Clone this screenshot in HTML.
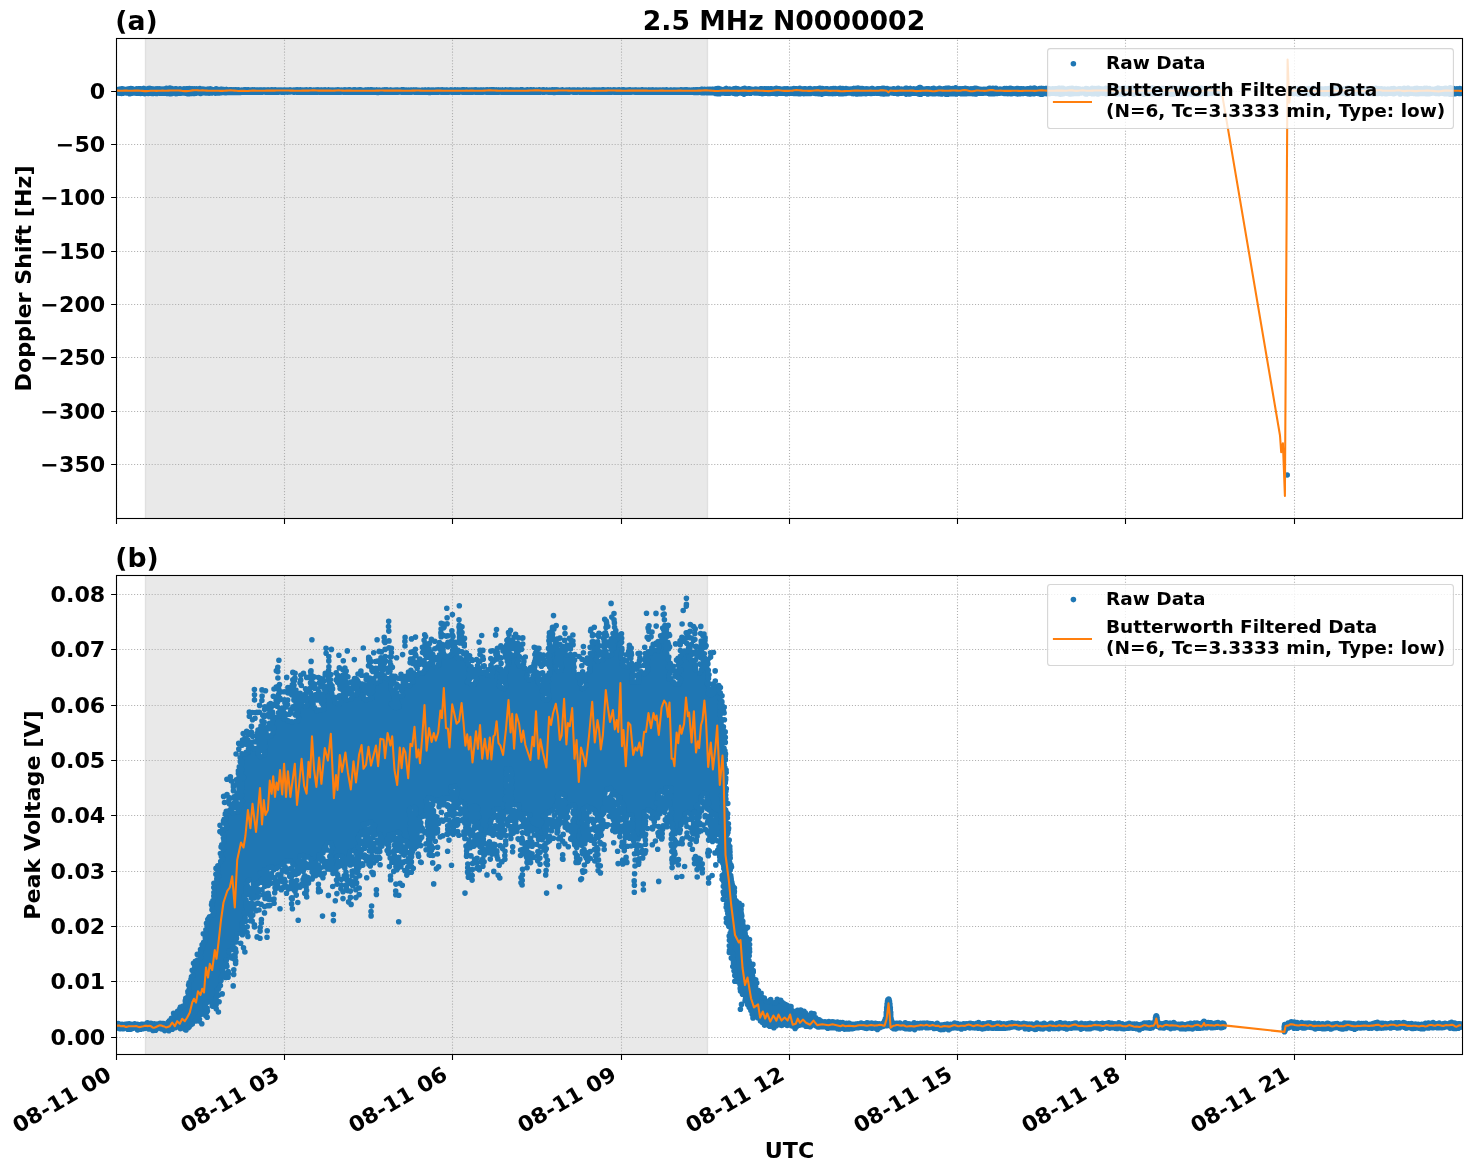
<!DOCTYPE html>
<html lang="en"><head><meta charset="utf-8"><title>2.5 MHz N0000002</title>
<style>html,body{margin:0;padding:0;background:#fff}svg{display:block}text{font-family:'DejaVu Sans','Liberation Sans',sans-serif;font-weight:bold;fill:#000}</style></head>
<body>
<svg width="1472" height="1172" viewBox="0 0 1472 1172">
<rect width="1472" height="1172" fill="#fff"/>
<defs><clipPath id="c1"><rect x="116.5" y="38.5" width="1346.0" height="480.0"/></clipPath><clipPath id="c2"><rect x="116.5" y="575.5" width="1346.0" height="479.0"/></clipPath></defs>
<g id="axes-a">
<g clip-path="url(#c1)">
<rect x="145.2" y="38.5" width="562.6" height="480.0" fill="#d3d3d3" fill-opacity="0.5"/>
<path d="M145.5 38.5V518.5M707.5 38.5V518.5" stroke="#d3d3d3" stroke-opacity="0.5" stroke-width="1.39" fill="none"/>
<path d="M116.5 518.5V38.5M284.5 518.5V38.5M452.5 518.5V38.5M621.5 518.5V38.5M789.5 518.5V38.5M957.5 518.5V38.5M1125.5 518.5V38.5M1294.5 518.5V38.5M116.5 91.5H1462.5M116.5 144.5H1462.5M116.5 197.5H1462.5M116.5 251.5H1462.5M116.5 304.5H1462.5M116.5 357.5H1462.5M116.5 411.5H1462.5M116.5 464.5H1462.5" stroke="#b0b0b0" stroke-width="1.1" stroke-dasharray="1.1 1.83" fill="none"/>
<path d="M115 89.2L116 88.2L117 87.8L120 87.8L121 87.2L123 87.2L124 87.8L129 87.8L131 86.8L132 87.2L138 87.2L139 86.8L140 87.2L143 87.2L144 86.8L145 87.2L147 87.2L148 86.8L151 86.8L152 87.2L157 87.2L158 86.8L159 87.2L165 87.2L166 86.8L167 87.2L169 87.2L170 86.2L171 86.2L172 87.2L176 87.2L177 87.8L179 87.8L180 87.2L187 87.2L188 86.8L189 86.8L190 87.2L199 87.2L200 86.8L201 87.2L202 87.2L203 87.8L206 87.8L207 87.2L211 87.2L212 87.8L215 87.8L216 87.2L217 87.2L219 88.2L220 88.2L221 87.8L226 87.8L227 88.2L229 88.2L230 87.8L231 88.2L362 88.2L363 88.8L364 88.8L365 88.2L387 88.2L388 88.8L389 88.8L390 88.2L418 88.2L419 88.8L421 88.8L422 88.2L429 88.2L430 88.8L431 88.8L432 88.2L563 88.2L564 88.8L565 88.8L566 88.2L698 88.2L699 87.8L715 87.8L717 86.8L719 86.8L720 87.2L721 87.2L722 87.8L723 87.8L724 87.2L725 87.2L726 86.8L727 87.2L729 87.2L730 87.8L733 87.8L734 87.2L735 87.2L736 86.8L737 87.2L739 87.2L740 87.8L742 87.8L743 87.2L750 87.2L751 87.8L755 87.8L756 87.2L757 87.2L758 87.8L759 87.8L760 87.2L771 87.2L772 87.8L774 87.8L776 86.8L777 86.8L778 87.2L786 87.2L787 86.8L788 87.2L793 87.2L794 86.8L795 87.2L798 87.2L800 86.2L801 87.2L808 87.2L809 86.8L810 86.8L811 87.2L818 87.2L819 86.8L822 86.8L823 87.2L828 87.2L829 87.8L830 87.8L832 86.8L835 86.8L836 87.2L839 87.2L840 86.8L841 87.2L842 87.2L843 86.8L844 87.2L845 87.2L846 86.8L847 87.2L853 87.2L854 86.8L856 86.8L857 86.2L858 86.2L859 86.8L862 86.8L863 87.2L871 87.2L872 86.8L874 87.8L877 87.8L878 87.2L881 87.2L883 86.2L884 86.2L885 86.8L887 86.8L888 87.2L889 87.2L890 87.8L892 87.8L893 87.2L897 87.2L898 86.8L899 87.2L902 87.2L903 87.8L904 87.8L906 86.8L910 86.8L911 87.2L918 87.2L919 86.2L920 85.8L921 86.2L922 87.2L926 87.2L927 86.8L928 87.2L932 87.2L933 86.8L934 86.8L935 87.2L938 87.2L939 86.8L940 86.8L941 87.2L944 87.2L945 86.8L955 86.8L956 86.2L957 87.2L962 87.2L963 86.8L966 86.8L967 87.2L970 87.2L971 86.8L972 87.2L973 87.2L974 86.8L978 86.8L979 87.2L980 87.2L981 87.8L983 87.8L984 87.2L985 87.2L986 87.8L987 87.8L989 86.8L992 86.8L993 86.2L994 86.8L995 86.8L996 86.2L997 87.2L998 87.8L999 87.8L1000 87.2L1001 87.8L1002 87.8L1003 87.2L1004 87.2L1005 86.8L1012 86.8L1013 87.2L1015 87.2L1016 86.8L1018 86.8L1019 87.2L1020 87.2L1021 86.8L1022 87.2L1027 87.2L1028 86.8L1030 86.8L1031 87.2L1033 87.2L1034 86.8L1035 86.8L1036 87.2L1039 87.2L1040 86.8L1049 86.8L1050 87.2L1057 87.2L1058 86.8L1063 86.8L1064 87.2L1069 87.2L1070 86.8L1072 86.8L1073 87.2L1075 87.2L1076 86.8L1077 86.8L1078 87.2L1080 87.2L1081 87.8L1085 87.8L1086 86.8L1087 86.8L1089 87.8L1090 87.8L1091 87.2L1092 86.2L1093 86.8L1098 86.8L1099 87.2L1104 87.2L1105 86.8L1109 86.8L1110 87.2L1116 87.2L1117 86.8L1118 86.8L1119 87.2L1123 87.2L1124 86.2L1126 87.2L1127 87.2L1128 86.8L1129 87.2L1131 87.2L1132 86.8L1133 86.8L1134 87.2L1138 87.2L1139 87.8L1140 87.8L1141 87.2L1142 87.2L1144 86.2L1146 87.2L1147 87.2L1148 86.8L1149 87.2L1151 87.2L1152 86.8L1155 86.8L1156 87.2L1158 87.2L1159 86.8L1163 86.8L1164 87.2L1168 87.2L1169 86.8L1180 86.8L1181 87.2L1186 87.2L1187 86.8L1192 86.8L1193 87.2L1196 87.2L1197 86.2L1198 86.8L1202 86.8L1203 87.2L1205 87.2L1206 86.8L1209 86.8L1210 87.2L1222 87.2L1223 88.2L1223 93.8L1222 94.8L1221 95.2L1220 95.2L1219 94.8L1212 94.8L1211 95.2L1208 95.2L1207 95.8L1206 95.2L1201 95.2L1200 95.8L1199 95.2L1198 95.2L1197 95.8L1196 95.8L1195 95.2L1189 95.2L1188 94.8L1182 94.8L1181 95.2L1174 95.2L1173 95.8L1171 95.8L1170 95.2L1169 95.2L1168 94.8L1164 94.8L1163 95.2L1160 95.2L1159 94.8L1155 94.8L1154 95.2L1145 95.2L1144 95.8L1143 95.2L1142 95.2L1141 94.8L1137 94.8L1136 95.2L1135 95.2L1134 95.8L1133 95.2L1131 95.2L1130 94.8L1128 94.8L1127 95.2L1125 95.2L1124 96.2L1122 95.2L1117 95.2L1116 95.8L1115 94.8L1110 94.8L1109 95.2L1105 95.2L1104 94.8L1100 94.8L1098 95.8L1097 95.2L1092 95.2L1091 94.8L1088 94.8L1086 95.8L1084 94.8L1079 94.8L1078 95.2L1071 95.2L1070 95.8L1069 95.2L1068 95.2L1067 94.8L1064 94.8L1063 95.8L1060 95.8L1059 95.2L1056 95.2L1055 94.8L1054 94.8L1053 95.2L1043 95.2L1042 95.8L1041 95.8L1040 95.2L1039 95.2L1038 94.8L1035 94.8L1034 95.2L1031 95.2L1030 95.8L1029 95.2L1028 95.2L1027 94.8L1024 94.8L1023 95.2L1020 95.2L1019 95.8L1018 95.8L1017 95.2L1005 95.2L1004 94.8L998 94.8L997 95.2L989 95.2L988 94.8L978 94.8L976 95.8L975 95.2L957 95.2L956 95.8L954 95.8L953 95.2L949 95.2L948 95.8L946 95.8L945 95.2L929 95.2L928 95.8L926 94.8L925 94.8L924 95.2L922 95.2L921 96.2L920 96.2L917 94.8L916 94.8L915 95.2L914 94.8L911 94.8L910 95.8L909 95.2L907 95.2L906 95.8L904 94.8L900 94.8L898 95.8L896 94.8L889 94.8L888 95.2L885 95.2L884 95.8L882 95.8L880 94.8L878 94.8L877 95.2L876 94.8L874 94.8L873 95.2L871 95.2L870 94.8L867 94.8L866 95.2L862 95.2L861 95.8L860 95.2L858 95.2L857 95.8L856 95.2L853 95.2L852 94.8L847 94.8L846 95.2L843 95.2L842 95.8L841 95.2L839 95.2L838 94.8L836 94.8L835 95.2L827 95.2L826 94.8L824 94.8L822 95.8L820 95.8L819 95.2L816 95.2L815 94.8L812 94.8L811 95.2L804 95.2L803 94.8L801 94.8L800 95.2L793 95.2L792 94.8L789 94.8L788 95.2L787 95.2L786 94.8L781 94.8L780 95.2L769 95.2L768 94.8L764 94.8L763 95.2L762 95.2L761 94.8L755 94.8L754 94.2L752 94.2L751 94.8L746 94.8L744 95.8L743 95.2L742 95.2L741 94.8L737 94.8L736 95.2L735 95.2L734 94.8L730 94.8L729 95.2L728 94.8L720 94.8L719 95.2L716 95.2L715 94.8L712 94.8L711 94.2L705 94.2L704 94.8L703 94.8L702 94.2L693 94.2L692 93.8L683 93.8L682 94.2L681 94.2L680 93.8L665 93.8L664 94.2L663 94.2L662 93.8L644 93.8L643 94.2L642 93.8L583 93.8L582 94.2L580 94.2L579 93.8L556 93.8L555 94.2L554 94.2L553 93.8L535 93.8L534 94.2L533 93.8L524 93.8L523 94.2L521 94.2L520 93.8L509 93.8L508 94.2L504 94.2L503 93.8L491 93.8L490 94.2L489 93.8L483 93.8L482 94.2L481 93.8L477 93.8L476 94.2L475 93.8L464 93.8L463 94.2L462 93.8L405 93.8L404 94.2L403 94.2L402 93.8L390 93.8L389 94.2L384 94.2L383 93.8L379 93.8L378 94.2L377 93.8L351 93.8L350 94.2L349 93.8L317 93.8L316 94.2L315 94.2L314 93.8L259 93.8L258 94.2L257 93.8L254 93.8L253 94.2L251 94.2L250 93.8L249 93.8L248 94.2L247 94.2L246 93.8L243 93.8L242 94.2L240 94.2L239 93.8L238 93.8L237 94.2L221 94.2L220 94.8L216 94.8L215 94.2L212 94.2L211 94.8L202 94.8L201 95.2L200 95.2L199 94.8L197 94.8L196 95.2L194 95.2L193 94.8L192 94.8L191 95.2L189 95.2L188 95.8L187 94.8L178 94.8L177 95.2L176 95.2L175 94.8L173 94.8L172 95.2L168 95.2L167 94.8L162 94.8L161 95.2L160 95.2L159 94.8L157 94.8L156 95.2L151 95.2L150 94.8L149 94.8L148 95.2L138 95.2L137 94.8L132 94.8L131 95.2L130 95.2L129 94.8L123 94.8L122 95.2L121 95.2L120 94.8L118 94.8L116 93.8L115 92.8ZM1287 88.8L1288 87.8L1289 87.2L1293 87.2L1294 86.8L1295 87.2L1299 87.2L1300 87.8L1302 87.8L1303 87.2L1312 87.2L1314 86.2L1315 86.8L1316 87.8L1318 87.8L1319 87.2L1328 87.2L1330 86.2L1331 86.8L1332 86.8L1333 87.2L1338 87.2L1339 87.8L1343 87.8L1344 87.2L1347 87.2L1348 86.2L1349 87.2L1353 87.2L1354 86.8L1356 87.8L1359 87.8L1360 87.2L1363 87.2L1364 86.8L1365 87.2L1367 87.2L1368 86.8L1372 86.8L1373 87.2L1374 87.2L1376 86.2L1377 87.2L1393 87.2L1394 86.8L1396 87.8L1398 87.8L1399 87.2L1403 87.2L1404 86.8L1405 87.2L1407 87.2L1408 86.8L1409 87.2L1414 87.2L1415 86.8L1417 86.8L1418 87.2L1424 87.2L1425 86.8L1429 86.8L1431 87.8L1435 87.8L1436 87.2L1437 87.2L1438 86.8L1439 86.8L1440 87.2L1444 87.2L1445 86.8L1449 86.8L1450 86.2L1451 86.2L1452 86.8L1453 86.8L1455 87.8L1456 87.8L1457 87.2L1459 87.2L1460 86.8L1463 88.2L1464 89.2L1464 93.2L1463 94.2L1462 94.8L1461 94.8L1460 95.2L1454 95.2L1453 95.8L1451 95.8L1450 96.2L1449 95.2L1444 95.2L1443 94.8L1441 94.8L1440 95.2L1437 95.2L1436 94.8L1432 94.8L1431 95.2L1428 95.2L1427 95.8L1426 95.2L1419 95.2L1418 95.8L1417 95.2L1414 95.2L1413 94.8L1410 94.8L1408 95.8L1407 95.2L1405 95.2L1404 94.8L1402 94.8L1400 95.8L1399 94.8L1398 94.2L1396 94.2L1394 95.2L1392 95.2L1391 94.8L1388 94.8L1387 95.2L1386 95.2L1385 94.8L1383 94.8L1382 95.2L1381 94.8L1378 94.8L1377 95.2L1367 95.2L1366 94.8L1364 94.8L1363 95.2L1360 95.2L1358 94.2L1357 94.2L1356 94.8L1350 94.8L1349 95.2L1345 95.2L1344 94.8L1342 94.8L1341 94.2L1339 94.2L1338 94.8L1337 94.8L1336 95.2L1335 95.2L1334 95.8L1331 95.8L1330 96.2L1329 95.2L1321 95.2L1320 94.8L1316 94.8L1315 95.2L1309 95.2L1308 95.8L1307 94.8L1305 94.8L1304 95.2L1302 94.2L1300 94.2L1299 95.2L1294 95.2L1293 94.8L1291 94.8L1290 95.2L1289 94.8L1288 93.8L1287 92.2Z" fill="#1f77b4" stroke="none"/>
<path d="M116.5 91.1h0M116.6 92.4h0M116.7 89.5h0M117.2 92.5h0M117.3 93h0M117.9 89.7h0M119.1 93.1h0M119.1 89.3h0M120.8 89h0M121 93.3h0M121.6 93.5h0M122.2 93.3h0M122.3 88.8h0M122.8 93.2h0M123.3 89.2h0M124.4 89.4h0M124.7 92.8h0M126.1 89.7h0M126.8 89.4h0M127 92.9h0M127.6 89.4h0M128.4 89.3h0M129.4 88.9h0M129.7 93.7h0M130.1 93.6h0M130.2 88.8h0M130.9 88.5h0M131.4 93.3h0M132.4 88.8h0M133.4 92.9h0M135 89.2h0M135.7 92.9h0M136.1 93.1h0M136.2 89.1h0M136.7 88.8h0M137.5 93.3h0M138.3 88.7h0M139.7 88.7h0M140 93.3h0M140.6 93.5h0M140.7 88.9h0M142.2 89.1h0M143.2 93.3h0M143.3 88.6h0M144 88.6h0M144.6 93.6h0M145.4 93.3h0M146.1 89.2h0M146.8 89h0M147.4 93.3h0M147.8 88.7h0M148.2 93.5h0M148.4 88.6h0M149.6 88.6h0M150.2 88.6h0M151.1 93.3h0M151.7 88.7h0M152.7 93.4h0M153.3 93.3h0M153.6 89.1h0M155.5 89h0M155.7 93.3h0M156.1 89h0M156.6 93.4h0M157.8 88.7h0M159.5 88.9h0M160.1 93.3h0M160.5 89h0M160.8 93.3h0M162 89h0M162.6 93.2h0M163.6 89h0M164.4 93.2h0M164.7 88.9h0M165.9 88.5h0M166.1 92.8h0M166.4 88.4h0M167.3 93.4h0M168.9 93.5h0M169.9 88h0M170.3 93.7h0M171 88.2h0M171.6 93.4h0M172.4 88.8h0M172.4 93.3h0M174.7 93h0M175.2 89.1h0M175.3 88.9h0M175.9 93.6h0M176.2 88.8h0M176.5 89.1h0M176.7 93.4h0M177 93.3h0M178.3 89.5h0M179 93.1h0M180 93.1h0M180 88.8h0M181 93.1h0M181.5 89.2h0M183.5 93h0M184 88.8h0M185.1 89.1h0M185.3 93.1h0M186.6 88.8h0M187.5 88.7h0M187.9 93.8h0M188.8 93.7h0M189.4 88.6h0M190.9 93.4h0M191.1 88.8h0M192.7 88.8h0M194 93.4h0M194.4 88.8h0M195 93.3h0M195.8 93.3h0M196.4 88.9h0M198.6 89.2h0M199.1 93h0M199.8 88.6h0M200.1 93.3h0M200.3 93.5h0M200.8 93.5h0M202.7 89.1h0M202.7 92.8h0M203.9 92.8h0M204.4 89.3h0M205.3 93h0M206.4 93h0M207.2 89.2h0M207.3 93h0M207.9 89.2h0M209.1 93.1h0M209.3 93h0M209.5 89.1h0M210.3 89.1h0M210.9 89.1h0M211.7 92.9h0M212.3 89.6h0M213.9 92.3h0M214.6 89.5h0M215.5 93.1h0M215.5 89.2h0M215.9 93h0M216.2 88.9h0M216.9 89.2h0M217.6 92.9h0M217.7 89.2h0M218.9 92.9h0M220.3 92.8h0M220.8 89.4h0M221.3 92.6h0M221.8 89.4h0M223.7 92.5h0M223.8 89.5h0M225 92.6h0M226.2 89.5h0M226.3 92.6h0M226.5 89.6h0M227.6 92.4h0M227.8 89.8h0M228.6 92.3h0M229.8 92.4h0M229.9 89.7h0M230.6 89.7h0M231.1 92.4h0M231.4 89.8h0M231.8 89.8h0M232.7 92.3h0M233.8 89.8h0M234.1 92.4h0M235.1 92.3h0M235.4 89.8h0M235.9 89.9h0M237 92.4h0M237 90.1h0M238.4 89.9h0M239.4 90h0M239.9 92.4h0M241.1 92.3h0M241.8 90.1h0M242 92.3h0M243.5 90h0M244.3 92.2h0M244.8 89.9h0M245.3 89.9h0M246.9 92.3h0M247 89.9h0M247.9 92.3h0M248.6 90h0M249 90h0M250.7 90h0M250.9 92.3h0M252.6 89.9h0M253.4 92.3h0M254.4 89.9h0M255.4 92.1h0M256.5 92.2h0M256.6 90h0M257.4 90.1h0M257.9 92.3h0M258.9 90.1h0M259.7 92.1h0M260 90.1h0M260.6 92h0M261 90h0M262 92.2h0M262.1 90.1h0M262.4 92h0M263.5 91.8h0M263.7 90h0M264.2 90h0M265.4 90h0M265.5 92.1h0M267 90h0M267.8 92.2h0M268 90h0M268.7 92.1h0M268.8 90.1h0M269 92h0M270.4 90h0M270.7 92h0M271.4 90h0M271.4 92.2h0M271.8 90h0M272.6 90h0M272.8 92.2h0M273.5 90h0M274.6 92.2h0M275.3 89.9h0M275.6 92.2h0M276.2 90h0M276.3 90h0M277.7 92.2h0M278.1 90h0M278.7 92h0M279.8 90h0M280.4 92h0M281.2 90h0M281.5 92.1h0M281.9 92.1h0M282.1 90.2h0M282.4 92.2h0M283.7 90h0M284 92.2h0M284.8 92h0M285 90.1h0M286.5 91.9h0M287 90.1h0M287.4 92.1h0M287.9 91.9h0M289.1 90.1h0M289.4 91.9h0M290 90h0M290.3 92h0M290.8 90.1h0M291.8 90.2h0M293 92h0M293.4 92.1h0M293.7 90h0M293.8 92.2h0M294.6 92h0M295.1 90.1h0M295.3 91.9h0M296.1 90h0M297.2 92.2h0M297.6 89.9h0M298.4 92.1h0M299.3 92.2h0M299.5 90h0M300.3 89.9h0M301.2 92.1h0M302.6 90h0M303 92.2h0M304.3 90h0M305.6 92.3h0M306.4 89.9h0M306.7 92.2h0M307 90h0M308.6 92.1h0M309.1 90h0M309.3 92.1h0M310.5 89.9h0M310.7 92.2h0M312 90.2h0M312.1 92.1h0M312.9 92.2h0M313.7 92.2h0M313.8 90.1h0M314.9 92.3h0M315.7 90.1h0M315.8 92.3h0M316.6 92.3h0M316.7 90.1h0M317.4 90.1h0M318.1 90h0M319 90h0M319.7 92.3h0M320.8 90h0M321.4 92.2h0M321.6 90h0M322.9 92.2h0M323.2 90.1h0M324.4 90h0M324.8 92.1h0M325.1 90h0M325.8 90.1h0M326.5 92.2h0M328.1 92.2h0M328.2 90h0M328.3 90h0M329.1 90h0M329.3 92.2h0M330.4 92.1h0M331 90.1h0M331.6 92.1h0M332.9 90.1h0M333 92h0M333.8 92.1h0M335.6 90.1h0M336.1 92.1h0M337.1 90h0M337.4 92.2h0M337.7 89.9h0M338.7 92.2h0M339.1 92.2h0M339.3 90.1h0M340.4 92.1h0M341 92.1h0M341.3 90.1h0M342 92h0M343.4 90.1h0M344.1 92.2h0M344.5 90.1h0M344.9 90.1h0M345.8 90.1h0M346 92.1h0M347.3 90.1h0M347.5 92.2h0M348.6 90.1h0M348.8 92.2h0M349 90h0M349.6 90h0M349.8 90h0M350 92.3h0M350.6 90h0M351.3 92.2h0M351.8 90.2h0M352.9 90.1h0M353.3 92.1h0M354.4 89.9h0M355.4 92.3h0M355.9 90h0M356.8 92.1h0M357.7 90h0M358.6 92.2h0M358.8 90.1h0M359.7 92.3h0M360.1 89.9h0M360.7 89.9h0M361.1 90h0M361.6 90.1h0M361.9 90.2h0M362.1 92.1h0M364 92.2h0M365 92.2h0M365.2 90h0M366.1 90h0M367 92.2h0M368.1 89.9h0M368.2 92.1h0M369 90.1h0M369.9 92.2h0M370.4 89.9h0M371.2 89.9h0M371.8 92.2h0M372.6 90h0M373 92.1h0M374.1 90h0M374.8 92.2h0M375.1 90.2h0M376.1 92.1h0M376.3 90.1h0M376.8 90h0M377.8 92.4h0M378.3 90.2h0M378.5 92.3h0M379.4 90h0M381.1 92.2h0M381.7 90.2h0M381.8 91.9h0M382.8 90h0M384 92.3h0M384.9 89.9h0M386.5 92.3h0M386.8 89.9h0M387.8 92.3h0M389.2 92.3h0M389.7 92.3h0M390.2 90h0M391 90.1h0M391.3 92.1h0M393.2 90.2h0M393.4 92.1h0M394.5 92.2h0M395.2 90h0M396 92.1h0M396.7 90.1h0M397.6 90h0M398.1 92.1h0M398.9 92h0M399.5 90.2h0M399.9 92h0M401.2 90.1h0M401.4 92.1h0M402.5 89.9h0M402.7 92.3h0M403.9 90.1h0M404.6 92.3h0M404.8 90h0M406.4 90.1h0M407.2 92.1h0M407.9 91.8h0M408.5 90h0M409.4 92.2h0M410.5 92.2h0M410.7 90h0M410.8 92.2h0M411.7 92.1h0M411.8 90.1h0M412.9 92h0M413.5 90h0M414.1 90h0M414.7 92h0M415.1 92h0M415.3 92.2h0M415.8 90h0M416.3 90.1h0M417.7 92.3h0M418.1 90.2h0M418.9 92.1h0M419.3 90.3h0M420.6 92.1h0M421.5 92h0M421.7 90.2h0M422.2 90.1h0M422.8 92.1h0M423.9 91.9h0M424.2 90.2h0M424.9 90.1h0M425.3 92.2h0M425.4 90h0M426.7 92.1h0M427.7 90.1h0M428.4 90h0M428.5 92.2h0M429.2 90h0M429.6 92.4h0M430.6 92.2h0M431.8 90.1h0M432.2 92.2h0M432.8 92.2h0M433.3 90.1h0M433.6 92.1h0M435.3 92.1h0M435.7 90h0M436.8 90.1h0M437.2 92.1h0M437.4 92.1h0M437.9 90h0M438.4 92.1h0M438.4 90h0M439.3 91.9h0M439.4 90.1h0M440.6 90.1h0M441.7 92.3h0M441.9 90h0M442.3 89.9h0M442.3 92.2h0M442.9 92.2h0M443 90h0M443.5 90h0M444.6 90h0M444.8 92.2h0M446.2 90.1h0M447.1 92.1h0M447.2 90.1h0M448.1 90.2h0M448.4 92.1h0M448.9 92.1h0M449.6 90.2h0M450.2 90.1h0M450.5 91.9h0M450.9 90h0M451.5 92.1h0M451.8 90h0M452.5 92.2h0M453.5 92h0M454 90h0M455 89.9h0M455 92.2h0M455.3 90h0M456 90h0M457.3 90h0M457.3 92.3h0M458 90h0M458.5 92.2h0M459.5 90.1h0M460.2 91.9h0M461.2 90h0M462.1 92h0M462.1 90h0M463.1 92.3h0M463.4 89.9h0M463.9 92.2h0M464 89.9h0M465.5 92.2h0M466.4 89.9h0M467.4 92.2h0M468.2 90.2h0M468.5 92.2h0M469.4 90h0M470 91.9h0M471 90.1h0M471.2 92.2h0M472.2 90h0M472.2 92.2h0M473.1 91.9h0M473.6 90.1h0M474.3 90h0M474.9 92h0M475.4 89.9h0M476 92.3h0M477 90h0M477.7 92.2h0M478.9 90h0M479.7 92.1h0M480.7 90h0M480.8 92.2h0M481.3 90h0M482.1 92.3h0M482.9 90.1h0M483.1 92.1h0M483.9 90.1h0M485.1 92h0M485.7 90h0M486.9 92.2h0M487.2 89.9h0M487.9 92.1h0M488.9 90h0M490 89.9h0M490.2 92.3h0M491.8 89.9h0M492.4 92.1h0M492.7 89.9h0M493.3 92.2h0M494 89.9h0M494.7 92.2h0M495.9 92.2h0M496.2 90h0M496.4 90h0M497.3 92.3h0M498.1 90.1h0M498.3 92.2h0M498.8 90.1h0M500.3 92h0M500.4 90.1h0M501.9 92.2h0M502.2 90.1h0M502.6 90.1h0M504.1 92.3h0M505 90.1h0M505.5 90h0M506.2 90h0M506.7 92.3h0M507.7 90h0M508.7 92.3h0M509.1 90.1h0M510.1 89.9h0M510.2 92.2h0M510.5 90h0M511.5 92.2h0M511.9 90h0M513 92.2h0M513.2 90h0M514.1 92.2h0M514.5 90.2h0M514.7 92.1h0M515.3 90.1h0M516.2 91.8h0M516.7 90.2h0M516.8 92.2h0M517.5 92.2h0M518 90h0M519.1 92.1h0M520.1 90.1h0M521 92.3h0M521.4 89.9h0M522 92.3h0M522.2 89.9h0M522.5 90h0M522.9 92.3h0M523.8 92.2h0M524.6 90.2h0M526 92.1h0M526.5 90.1h0M527.2 90h0M527.5 90h0M528.2 92.2h0M528.6 90h0M529.9 90.1h0M530.2 92.2h0M531.2 89.9h0M531.7 92.2h0M532 90.2h0M533.6 89.9h0M534.2 92.3h0M534.4 90.1h0M534.9 92.2h0M536.5 92h0M536.7 90.1h0M537.5 92.2h0M538.4 92.2h0M538.7 90.1h0M539.2 90h0M539.4 90.1h0M539.8 92.2h0M540.5 92h0M540.6 90.1h0M541.5 91.8h0M542.2 90.1h0M543 92h0M543 89.9h0M543.3 92.2h0M543.7 89.9h0M543.8 92.2h0M544.3 90h0M544.6 92h0M546 92h0M546.5 90h0M546.8 90h0M548.2 92.1h0M548.8 92.2h0M549.7 90h0M550.1 92.2h0M551.5 90h0M551.9 92.2h0M552.9 89.9h0M553.3 92.3h0M554.2 92.4h0M554.9 89.9h0M555.1 92.3h0M556.7 90h0M557 90.1h0M557.5 92.1h0M558.2 90.1h0M558.7 90.2h0M559.3 92.2h0M560.6 90.2h0M561.5 92.2h0M562 90h0M562.4 90h0M562.8 90h0M562.9 91.8h0M563.8 92.2h0M565.6 92.2h0M566 90.2h0M566.3 90h0M567.4 92.1h0M568 90.1h0M568.9 92.2h0M569.4 90h0M569.5 92.1h0M569.8 90h0M570.4 92h0M571.6 90.2h0M572 91.8h0M572.4 90h0M573.2 92.1h0M573.7 90h0M574.5 92.1h0M574.9 90h0M576.3 92.2h0M576.7 90.2h0M577.2 92.1h0M577.7 90.1h0M578 90.1h0M578.4 91.8h0M579.7 90h0M580.2 92.3h0M582 90.2h0M582.1 92.3h0M583 90.1h0M583.9 90h0M584.3 92.1h0M585.3 92.2h0M586 90h0M586.4 92.2h0M586.7 90.1h0M588 92.2h0M588.8 90.1h0M589.3 90.2h0M590.2 92.1h0M591.7 92h0M592.2 90.1h0M592.6 92.1h0M593.7 90h0M594.2 92.2h0M594.4 90h0M594.5 92.2h0M595.5 90.1h0M596.3 92.1h0M596.9 90.1h0M597.9 92.2h0M598.5 90.2h0M599.1 92.2h0M599.3 90.2h0M599.8 90.1h0M600.1 92h0M601.5 92.2h0M601.7 90h0M602.3 92.2h0M603.1 89.9h0M603.5 89.9h0M604 92.2h0M605.2 90.2h0M605.8 90h0M605.8 92.1h0M607.1 92.1h0M608 89.9h0M608.4 90h0M608.6 92.2h0M610.1 90.1h0M610.7 92.2h0M610.9 90.1h0M611.1 92.2h0M611.9 92.1h0M613.1 90.1h0M613.8 89.9h0M614.7 92.3h0M615.5 92.2h0M615.7 90h0M616 92.1h0M616.5 92.1h0M617.4 92h0M617.5 90.1h0M618.7 90h0M618.9 92.2h0M619.2 89.9h0M619.3 92.2h0M619.5 90.1h0M620 92.2h0M621.2 90.2h0M621.5 92.1h0M622.2 90h0M622.4 92.1h0M622.5 89.9h0M623.3 90h0M623.4 92.3h0M624 90h0M624.4 92.2h0M624.6 90.1h0M626.5 92.2h0M627.2 90h0M628.1 92.1h0M628.6 90h0M629.4 89.9h0M629.8 92.2h0M630.1 90h0M630.9 90h0M631.3 92.1h0M632.9 90.1h0M633.1 91.9h0M634.6 90.1h0M634.9 92.1h0M635.7 90.1h0M635.8 92.1h0M636.3 90.1h0M637 92.1h0M638.9 90.1h0M639 92.2h0M639.7 92.2h0M640.7 90h0M641 92.1h0M641.8 89.9h0M642 92.2h0M643 92.3h0M643.1 90.1h0M644.8 92.2h0M644.9 90h0M645.8 92.2h0M646.3 90.1h0M647.2 91.9h0M648.4 92.2h0M648.5 90h0M649.1 90h0M649.3 92.1h0M650.2 92.1h0M650.6 90.1h0M651.4 92h0M651.9 90h0M652.6 92.1h0M652.7 90h0M652.9 92.2h0M653.3 90h0M654.8 92.2h0M655.4 90.1h0M656.7 90.1h0M656.9 92.2h0M657.6 92.1h0M658.2 90.2h0M658.8 92.1h0M659.2 90h0M660.4 92.2h0M660.7 90h0M662.5 90h0M662.5 92.3h0M663.3 90h0M664.3 92.3h0M664.9 90.1h0M665.5 92.2h0M666.1 90.1h0M666.2 92.2h0M666.6 90.1h0M667.3 90.1h0M667.5 92.2h0M668.1 90.2h0M669.2 92.1h0M669.9 92.2h0M670.4 90.1h0M670.9 92.2h0M671.2 90.1h0M672.7 92.1h0M673.6 90.1h0M674.4 92.2h0M674.5 90.1h0M676 90.1h0M676.1 92.2h0M676.8 92.1h0M678 90.1h0M678.5 92.2h0M679.7 92.2h0M679.9 92.2h0M680.2 90h0M680.7 89.9h0M681 92.3h0M681.9 92.3h0M682.1 90h0M683.2 90h0M683.7 92.2h0M684.3 90h0M685.3 92.2h0M685.8 89.9h0M686 92.2h0M686.4 92.2h0M686.7 90h0M687.1 90h0M687.7 92.1h0M688 90.1h0M689.5 90.1h0M689.6 92.1h0M690.3 92.2h0M691.1 92.2h0M691.6 90.1h0M693.2 92.3h0M693.7 90.1h0M693.8 89.9h0M694.1 92.3h0M694.6 92.4h0M695.9 89.9h0M696.5 92.4h0M696.7 89.8h0M697.1 89.8h0M698 92.5h0M698.4 92.5h0M699 89.7h0M700.9 92.5h0M701.1 89.5h0M701.5 92.6h0M701.5 89.4h0M702.2 89.4h0M702.9 92.8h0M703.3 89.5h0M704 92.8h0M704.5 89.4h0M705.5 89.6h0M705.8 92.5h0M707.3 92.8h0M707.6 89.4h0M709.1 89.3h0M709.3 92.6h0M710.5 89.4h0M711.9 92.8h0M712.1 89.4h0M713.1 89.3h0M713.1 92.8h0M714.8 93.1h0M715.4 89.1h0M715.8 93.4h0M716 88.9h0M716.7 93.4h0M717.1 93.6h0M717.2 88.7h0M717.6 88.6h0M717.9 93.4h0M718.9 88.6h0M719.7 93.7h0M720.3 89h0M720.7 93.1h0M720.8 89.2h0M722.8 92.9h0M724.2 89.2h0M724.8 93.1h0M726.1 88.6h0M726.3 88.6h0M726.5 93.2h0M729.2 93.3h0M729.6 89.1h0M730.3 93h0M730.8 89.3h0M733.2 93.1h0M733.9 88.8h0M734.6 93.5h0M735.4 88.6h0M735.9 93.7h0M736.3 88.5h0M736.6 93.7h0M737.6 93.2h0M737.8 88.8h0M738.7 89.2h0M738.8 92.9h0M739.1 89.2h0M741.5 89.4h0M742.2 93.3h0M743 88.8h0M744 94.1h0M744.7 88.4h0M745 93.3h0M745.5 88.9h0M746.3 93.2h0M747.4 89h0M748.6 88.8h0M749.2 93.1h0M749.4 88.8h0M749.8 89h0M750.5 93.3h0M751.5 89.4h0M753 89.5h0M754.2 89.3h0M754.6 93h0M754.8 93h0M755.4 89.1h0M755.9 92.9h0M757.1 89.2h0M757.3 92.9h0M757.9 93h0M758.6 93h0M758.9 93h0M759.9 89.2h0M760 93.2h0M760.6 88.9h0M760.9 88.8h0M762.1 88.8h0M762.2 93.6h0M762.5 93.4h0M762.9 93.4h0M764.4 93.2h0M764.5 88.9h0M764.9 88.8h0M765.4 93.2h0M766.9 88.8h0M768.5 93.4h0M768.6 88.8h0M769.4 93.4h0M769.9 93.3h0M770.5 88.9h0M771.6 88.9h0M772.3 93.3h0M775.1 93.5h0M775.4 88.6h0M775.8 88.5h0M776.3 88.4h0M776.7 93.8h0M777.3 88.6h0M779.1 93.3h0M779.5 88.8h0M780.4 89.1h0M780.7 93.3h0M782.7 93h0M783.2 89h0M783.4 93.2h0M784.6 93.2h0M785 88.9h0M786.3 93.7h0M787 93.4h0M787.1 88.7h0M787.5 88.7h0M788.5 93.3h0M788.7 89h0M791 89.1h0M791.5 93.2h0M792.1 89.1h0M792.6 93.3h0M793.3 88.7h0M793.6 93.5h0M793.8 88.6h0M794.8 93.5h0M795.9 88.9h0M796.8 88.8h0M797.1 93.5h0M798.4 93.6h0M799.1 88.7h0M799.8 88.2h0M800.4 93.6h0M801.4 88.8h0M803.8 93.6h0M804.1 88.8h0M804.9 88.8h0M805.3 93.4h0M805.5 88.8h0M807.7 93.4h0M807.9 89.2h0M808.7 93.4h0M808.8 88.7h0M810.1 88.6h0M810.2 93.4h0M810.5 88.7h0M810.8 93.3h0M811.5 89.1h0M813.5 89.1h0M813.8 93.1h0M815 88.9h0M816 93.4h0M816.3 93.5h0M817.1 88.9h0M817.6 93.5h0M817.9 88.8h0M818.2 93.6h0M818.8 88.5h0M819.4 93.8h0M820.1 88.3h0M821.2 94h0M821.7 94.1h0M821.8 94.1h0M822.4 88.5h0M823.1 93.4h0M824.7 93.2h0M824.8 89h0M826.3 88.8h0M826.7 93.3h0M827.3 88.7h0M829 93.4h0M831 88.9h0M831.7 93.4h0M832.1 88.7h0M832.2 93.5h0M832.7 93.6h0M833.3 88.5h0M834.4 93.5h0M834.9 93.4h0M835.2 88.6h0M836 88.8h0M836.8 89.1h0M836.9 93.2h0M838.4 93.3h0M839.3 88.6h0M839.6 93.7h0M840.1 88.3h0M841.8 93.8h0M842.8 88.6h0M843.2 93.6h0M843.6 93.4h0M844.4 93.3h0M846 88.6h0M846.1 93.5h0M846.8 92.9h0M848.4 89.1h0M848.5 92.8h0M849.5 93h0M850.3 89.1h0M850.4 92.8h0M851.5 89h0M852.3 93.4h0M852.5 88.8h0M853.3 93.6h0M853.6 88.6h0M854 88.6h0M855.1 93.4h0M855.6 88.6h0M856.4 93.8h0M856.8 93.9h0M857.1 88.2h0M857.5 94h0M858 88.1h0M859 93.7h0M860 88.7h0M860.9 88.6h0M861 93.8h0M862.4 88.5h0M862.9 93.4h0M864.7 89h0M865.7 93.6h0M866.1 93.6h0M866.5 88.7h0M868.2 93.2h0M868.3 89h0M869.2 92.8h0M871 93.4h0M871.7 88.5h0M871.8 93.5h0M872.6 88.5h0M873.4 89.1h0M873.7 93.3h0M874.5 89.4h0M875.2 92.8h0M876.1 89.4h0M876.8 93.3h0M877.3 88.9h0M878.4 93.1h0M878.6 88.9h0M879.3 88.9h0M880.9 93.6h0M881.4 88.6h0M881.8 93.8h0M882.5 88.2h0M883.2 94h0M883.9 88.2h0M884.2 94h0M884.6 93.8h0M887.1 88.6h0M887.2 93.7h0M888 93.7h0M888.6 89.1h0M889.2 89.2h0M889.3 93h0M890.6 89.3h0M891.9 93h0M892.5 89.2h0M892.8 89h0M893.4 88.9h0M893.8 88.9h0M894.2 93.2h0M894.7 89h0M895.3 93.2h0M896.6 89h0M896.8 93.3h0M897.8 93.8h0M898.1 88.4h0M898.6 88.7h0M899 93.3h0M899.6 89h0M900.2 93.2h0M900.9 93.1h0M901.4 89.1h0M901.9 89.2h0M902.1 93.1h0M902.9 92.8h0M905.1 93.5h0M905.7 88.3h0M906.1 94.1h0M906.3 93.8h0M906.6 88.3h0M907.7 88.6h0M909.1 88.7h0M909.6 93.9h0M910 94h0M910.2 88.6h0M910.3 88.6h0M912.6 93.2h0M913.7 88.7h0M914.5 89.1h0M915 93.3h0M915.8 89.1h0M916.9 88.8h0M918.5 94h0M919.5 87.5h0M920.1 94.3h0M920.4 87.5h0M920.5 94.3h0M920.8 94.3h0M923.9 89h0M924.1 93.3h0M925.7 89h0M927 88.7h0M927.2 93.5h0M927.6 88.7h0M927.8 93.9h0M928.8 93.4h0M928.9 88.8h0M931.4 93.5h0M931.5 89h0M932.5 88.5h0M933 93.7h0M933.5 93.7h0M933.7 88.4h0M934 88.6h0M935.3 93.6h0M935.5 89h0M936.9 89.1h0M938.2 93.4h0M938.5 93.6h0M938.8 88.7h0M939.5 88.4h0M939.7 93.6h0M940.3 88.6h0M941.7 93.9h0M942.6 93.6h0M943.3 93.3h0M943.7 88.8h0M944.4 88.7h0M945 88.5h0M945.7 94.1h0M946.6 88.3h0M947.6 94.3h0M947.9 88.3h0M948.6 88.4h0M949.7 93.7h0M949.9 88.6h0M951.5 93.6h0M952.6 88.6h0M954.2 93.8h0M955.5 93.8h0M955.7 87.9h0M956.1 88h0M956.3 93.9h0M959.1 93.3h0M959.5 88.8h0M960.1 93.5h0M961 88.9h0M961.4 93.7h0M962.5 93.7h0M962.7 88.7h0M964.4 88.5h0M964.5 93.7h0M965.3 88.3h0M966 88.6h0M966.6 93.6h0M967.8 88.9h0M968.6 93.4h0M969.2 93.4h0M971 88.7h0M971.5 93.4h0M972.2 93.4h0M972.5 93.5h0M973.2 93.7h0M974 88.6h0M974.1 93.6h0M975.4 88.4h0M975.9 93.9h0M976.5 88.5h0M976.9 93.3h0M977 88.6h0M978 88.7h0M979.5 93.2h0M980.3 93.1h0M980.7 89.2h0M982.6 93.1h0M983.3 93.1h0M983.5 89.2h0M984.9 93h0M985 89.2h0M986.4 92.8h0M987.3 93h0M988.1 89h0M988.4 93.3h0M988.8 88.5h0M989.3 88.4h0M989.6 93.8h0M990.6 88.5h0M991.9 93.7h0M992.9 88.2h0M993.4 93.7h0M994.5 93.6h0M995.9 88.2h0M996.7 93.5h0M996.8 93.4h0M998.5 93h0M999.8 93.1h0M1000 89h0M1000.6 93h0M1002.9 93.1h0M1003 89.1h0M1004.6 88.6h0M1004.7 93.4h0M1004.8 93.5h0M1006.3 93.5h0M1006.5 88.6h0M1007.8 93.6h0M1008.8 88.6h0M1009.8 93.4h0M1010 88.3h0M1011.2 88.5h0M1011.2 93.7h0M1011.4 88.6h0M1012.7 88.7h0M1012.8 93.5h0M1015 93.3h0M1015.5 88.7h0M1016.1 93.4h0M1016.6 93.6h0M1016.7 88.5h0M1017.7 94h0M1017.9 88.6h0M1019.6 93.8h0M1020.8 88.7h0M1021.8 88.8h0M1022.2 93.5h0M1022.7 93.4h0M1023.3 93.3h0M1023.4 88.9h0M1024.6 89h0M1026 93.2h0M1026 89h0M1027.7 88.7h0M1028.1 93.7h0M1029.2 88.6h0M1030 93.9h0M1030.4 88.4h0M1033.1 93.6h0M1033.5 88.4h0M1033.9 93.7h0M1034.4 88.1h0M1036.8 89h0M1037.2 93.2h0M1038.7 93.4h0M1039.3 93.6h0M1039.6 88.6h0M1040.5 94.1h0M1041.2 88.6h0M1041.3 88.5h0M1042.5 94.1h0M1043 88.6h0M1043.8 93.4h0M1045.6 88.6h0M1046.2 93.4h0M1046.6 88.5h0M1046.8 93.6h0M1047.7 88.6h0M1049.3 93.6h0M1049.4 88.7h0M1050.3 93.5h0M1051.2 93.3h0M1052.6 88.7h0M1053.2 93.3h0M1055.1 88.9h0M1056.1 93.4h0M1056.2 88.9h0M1056.9 93.3h0M1057.4 88.7h0M1058.7 88.4h0M1059.4 88.4h0M1059.5 94h0M1060.2 94.1h0M1061.3 93.9h0M1061.3 88.4h0M1062.9 88.4h0M1063.1 93.8h0M1063.9 88.8h0M1064.4 89h0M1065 89.1h0M1066.7 93.1h0M1066.8 93.2h0M1067 89.1h0M1068 88.8h0M1068.1 93.5h0M1069.3 93.8h0M1069.6 88.6h0M1070.2 93.9h0M1070.8 88.5h0M1072.3 93.7h0M1072.4 88.4h0M1074.3 93.4h0M1075.2 93.4h0M1076.1 88.6h0M1076.9 88.7h0M1077.2 93.4h0M1078.3 88.9h0M1078.4 93.4h0M1079 89h0M1079.3 93h0M1079.7 89.2h0M1080.4 89.2h0M1080.7 92.9h0M1082.7 89.4h0M1083.2 92.8h0M1085.3 93.8h0M1086 88.5h0M1086.4 88.7h0M1086.5 93.9h0M1087.6 88.7h0M1087.9 93.2h0M1089.4 92.9h0M1090.9 93.2h0M1092.2 88.2h0M1092.3 93.8h0M1093.1 88.5h0M1094.4 93.6h0M1094.5 88.6h0M1096.4 88.6h0M1096.5 93.4h0M1097.9 93.9h0M1098.6 88.4h0M1098.9 93.6h0M1099.3 93.3h0M1100.5 88.9h0M1102.2 93.1h0M1102.7 89.1h0M1102.9 92.8h0M1105 88.7h0M1105.1 93.5h0M1105.6 88.7h0M1105.9 88.3h0M1106.5 93.8h0M1107.1 88.7h0M1107.8 88.7h0M1108.6 93.3h0M1109.3 93.5h0M1109.6 88.6h0M1110.5 93.2h0M1110.7 88.9h0M1111.1 88.9h0M1111.8 93.1h0M1112.3 89.2h0M1113.2 93.2h0M1113.6 89h0M1114.5 93.2h0M1114.8 88.9h0M1116.2 93.8h0M1116.3 88.7h0M1117.4 88.5h0M1117.7 93.7h0M1117.8 88.4h0M1118.7 88.6h0M1119.6 93.5h0M1119.9 89.1h0M1120.5 93.6h0M1121.3 88.8h0M1123.5 94.3h0M1124 88.1h0M1124.2 94.3h0M1124.3 88.1h0M1126.2 93.3h0M1127.1 93.3h0M1128.1 88.6h0M1128.3 88.6h0M1128.8 93.2h0M1130.9 93.3h0M1131.5 88.5h0M1132.3 88.1h0M1133.3 94h0M1133.4 88.3h0M1134.1 93.8h0M1134.9 89h0M1135.5 93.4h0M1135.8 93.3h0M1136.3 88.9h0M1138.1 89.1h0M1138.6 93.1h0M1139.7 93.1h0M1141.2 88.8h0M1141.7 93.5h0M1141.9 88.8h0M1143.3 88.1h0M1143.7 94.1h0M1143.8 88.1h0M1144.2 93.8h0M1144.9 88.6h0M1145 93.4h0M1147.6 93.3h0M1147.8 93.6h0M1148 88.7h0M1148.4 93.6h0M1150 93.3h0M1151 93.6h0M1151.6 88.4h0M1152 88.3h0M1152.1 93.6h0M1152.3 88.3h0M1152.5 93.5h0M1152.8 88.5h0M1154.1 88.6h0M1154.3 93.4h0M1154.9 88.7h0M1155.6 93.1h0M1156.4 88.8h0M1156.9 93.1h0M1158.9 88.6h0M1159.4 88.7h0M1159.6 93.7h0M1160.7 93.7h0M1161 88.7h0M1162 88.5h0M1162.7 93.5h0M1163 93.5h0M1163.5 88.6h0M1164.6 93.2h0M1164.7 89.1h0M1165.2 92.9h0M1166.3 92.9h0M1167.1 89h0M1167.7 88.8h0M1167.8 93h0M1168.6 88.7h0M1169.1 93.6h0M1170.3 88.1h0M1170.5 94h0M1172 93.8h0M1173 93.9h0M1173.3 88.4h0M1173.8 93.6h0M1174.2 88.4h0M1174.6 88.5h0M1175.8 88.7h0M1176.3 93.4h0M1177.7 88.7h0M1178.7 93.4h0M1179.5 93.5h0M1179.7 88.5h0M1180 88.5h0M1180.4 93.4h0M1180.9 93.3h0M1181 89.1h0M1183.4 89h0M1183.8 93h0M1184.5 89.1h0M1185.4 93.4h0M1186.5 88.7h0M1186.8 88.7h0M1188.3 93.6h0M1188.6 88.7h0M1189.7 88.7h0M1190.3 93.4h0M1191.3 93.7h0M1191.7 88.7h0M1192.3 88.6h0M1192.7 93.7h0M1194.1 88.9h0M1195.4 93.8h0M1196.1 94h0M1196.8 93.9h0M1197.1 88.2h0M1197.8 88.5h0M1198.7 88.6h0M1199.4 88.7h0M1200.2 93.8h0M1200.9 88.4h0M1201.1 93.6h0M1202.1 88.5h0M1202.3 93.3h0M1202.4 88.6h0M1204.9 93.5h0M1205.3 88.5h0M1206 93.7h0M1206.4 88.5h0M1207 88.6h0M1207.1 93.8h0M1207.8 93.6h0M1209.5 88.6h0M1210.2 93.3h0M1210.5 89h0M1211.2 89h0M1211.5 93.3h0M1213.1 93h0M1213.3 89h0M1214.1 92.9h0M1215.1 89h0M1216.2 89h0M1216.4 93.1h0M1217.6 88.9h0M1217.8 93.1h0M1219.3 93.4h0M1219.4 88.8h0M1220 88.8h0M1220.4 93.6h0M1221.1 93.7h0M1221.3 88.4h0M1221.4 93.5h0M1221.4 92.4h0M1221.7 88.8h0M1221.8 92h0M1221.9 91.1h0M1222 89.7h0M1287.2 475h0M1288.4 90.7h0M1288.5 91.8h0M1288.7 88.9h0M1289 88.8h0M1289.2 90h0M1289.2 93.2h0M1289.4 88.7h0M1290 93.3h0M1291.7 92.8h0M1292.1 89.2h0M1292.8 88.9h0M1293.6 93.4h0M1294 88.6h0M1294.7 88.7h0M1295.7 93.3h0M1296.2 88.9h0M1297.2 93.3h0M1297.3 88.8h0M1298.3 93.9h0M1299.1 88.9h0M1299.3 89.1h0M1301.5 92.7h0M1302.8 89h0M1303.4 93.5h0M1304.4 88.7h0M1304.7 93.5h0M1306.4 89h0M1307.4 88.8h0M1307.9 93.8h0M1308 88.8h0M1308.7 88.8h0M1309.3 88.7h0M1310.2 93.7h0M1311.4 93.4h0M1312.5 93.6h0M1312.6 88.6h0M1313 88.3h0M1313.7 93.7h0M1314 88.2h0M1314.8 88.6h0M1314.9 93.4h0M1316.4 92.8h0M1318.3 92.9h0M1318.6 89.2h0M1319.5 93.2h0M1320.5 89h0M1320.9 93.4h0M1321.3 89h0M1322.8 89h0M1323.4 93.6h0M1324.1 93.7h0M1324.9 93.6h0M1325.3 88.8h0M1325.5 93.6h0M1326.2 93.5h0M1327.2 88.8h0M1327.7 93.4h0M1328.5 88.7h0M1330 88.2h0M1330.1 94.4h0M1330.9 88.3h0M1331.5 93.9h0M1332.1 88.6h0M1334 93.9h0M1334.6 88.8h0M1335.5 93.5h0M1335.8 88.8h0M1336.7 93.3h0M1337.7 88.8h0M1338 93.2h0M1338.5 93.2h0M1338.6 89.1h0M1340.1 89.5h0M1341.6 92.9h0M1341.7 89.3h0M1342.2 93.1h0M1344.1 89h0M1345.1 88.8h0M1345.1 93.5h0M1345.3 93.5h0M1346.7 93.9h0M1347.9 88.1h0M1348.4 93.7h0M1349.4 93.4h0M1350.2 88.9h0M1351.7 93.1h0M1351.7 89h0M1353.9 93h0M1354.1 88.7h0M1354.4 93.1h0M1355.2 93.1h0M1355.7 93.1h0M1355.7 89.1h0M1355.8 92.8h0M1357.5 89.5h0M1359.4 89h0M1359.6 93.3h0M1360 93.5h0M1361 88.9h0M1361.1 93.5h0M1361.6 88.9h0M1363.6 93.5h0M1363.9 88.6h0M1364.8 93.2h0M1367 93.3h0M1367.2 88.9h0M1368 88.7h0M1368.8 88.7h0M1368.9 93.6h0M1369.4 93.6h0M1370.2 88.7h0M1371.4 88.7h0M1371.4 93.3h0M1371.9 88.7h0M1372.4 93.6h0M1374.3 93.6h0M1375 88.7h0M1375.4 93.4h0M1375.9 88.2h0M1376.4 93.4h0M1377.5 93.4h0M1378.7 93.2h0M1378.8 88.9h0M1379 92.8h0M1381.1 88.8h0M1381.5 88.8h0M1382 93.6h0M1382.1 89.2h0M1382.5 93.3h0M1384.6 89h0M1385.3 93.4h0M1385.5 89.2h0M1386 93.7h0M1386.3 93.5h0M1386.9 93.4h0M1387.9 89.1h0M1389.5 93.2h0M1390.2 89h0M1391.3 88.9h0M1391.9 93.3h0M1392.1 88.9h0M1392.6 93.5h0M1393.2 93.6h0M1393.9 88.6h0M1394 93.6h0M1394.9 93.2h0M1395 89h0M1395.4 89.2h0M1395.4 92.8h0M1397.3 89.5h0M1398.5 93h0M1398.9 88.9h0M1400.1 93.9h0M1400.4 88.7h0M1400.5 93.8h0M1402.9 92.8h0M1404.1 88.4h0M1404.7 93.6h0M1405.3 89h0M1407.6 94h0M1407.7 88.5h0M1407.8 88.3h0M1408.1 93.8h0M1408.3 88.3h0M1409 93.3h0M1411.4 93.1h0M1411.5 89h0M1412.9 89h0M1413.9 88.9h0M1414.2 93.3h0M1414.3 93.4h0M1414.9 88.6h0M1416.4 93.7h0M1417 88.4h0M1418.1 93.8h0M1419.5 88.9h0M1420.2 93.4h0M1420.5 88.8h0M1420.9 93.5h0M1421.5 88.8h0M1422.6 93.5h0M1423.1 88.8h0M1423.3 93.4h0M1424.7 88.4h0M1425.8 93.6h0M1426.6 88.3h0M1426.9 88.6h0M1427 93.8h0M1429.4 88.6h0M1429.5 93.6h0M1430.8 93.3h0M1432.7 89.3h0M1433.8 89.6h0M1433.9 92.9h0M1435.3 89.1h0M1435.6 93.2h0M1436.5 93.4h0M1437.7 88.4h0M1438 88.4h0M1439 93.6h0M1439.4 88.5h0M1440.3 93.3h0M1440.7 88.9h0M1442.1 89.1h0M1443.5 89.1h0M1443.6 93.5h0M1444.3 88.5h0M1445.1 93.7h0M1445.6 93.7h0M1445.9 88.4h0M1446.3 93.7h0M1446.5 88.6h0M1449.4 88.2h0M1450.1 94.3h0M1450.2 87.9h0M1450.9 88h0M1452 94.2h0M1452.4 93.9h0M1453.2 93.8h0M1453.6 88.5h0M1455.4 93.6h0M1456.7 93.3h0M1457 88.8h0M1458 93.3h0M1458.9 93.5h0M1459.8 88.5h0M1460.7 93.5h0M1461 88.8h0M1462 91.6h0M1462.3 89.5h0M1462.3 91.4h0M1462.4 93h0" fill="none" stroke="#1f77b4" stroke-width="5.6" stroke-linecap="round"/>
<path d="M116.5 90.5L118.5 90.6L120.5 90.7L122.5 90.7L124.5 90.6L126.5 90.6L128.5 90.7L130.5 90.7L132.5 90.7L134.5 90.6L136.5 90.6L138.5 90.6L140.5 90.7L142.5 90.9L144.5 91.1L146.5 91.1L148.5 91L150.5 90.8L152.5 90.7L154.5 90.8L156.5 90.9L158.5 90.8L160.5 90.7L162.5 90.6L164.5 90.7L166.5 90.7L168.5 90.6L170.5 90.5L172.5 90.5L174.5 90.5L176.5 90.5L178.5 90.5L180.5 90.6L182.5 91L184.5 91.1L186.5 91.1L188.5 91L190.5 90.7L192.5 90.4L194.5 90.2L196.5 90.2L198.5 90.4L200.5 90.5L202.5 90.4L204.5 90.5L206.5 90.6L208.5 90.7L210.5 90.8L212.5 90.8L214.5 90.7L216.5 90.7L218.5 90.8L220.5 90.9L222.5 90.9L224.5 90.8L226.5 90.6L228.5 90.5L230.5 90.4L232.5 90.5L234.5 90.6L236.5 90.8L238.5 91L240.5 90.9L242.5 90.8L244.5 90.9L246.5 91L248.5 90.9L250.5 90.7L252.5 90.6L254.5 90.6L256.5 90.7L258.5 90.8L260.5 90.8L262.5 90.7L264.5 90.7L266.5 90.6L268.5 90.6L270.5 90.6L272.5 90.6L274.5 90.6L276.5 90.5L278.5 90.5L280.5 90.5L282.5 90.5L284.5 90.5L286.5 90.5L288.5 90.5L290.5 90.6L292.5 90.6L294.5 90.7L296.5 90.7L298.5 90.7L300.5 90.7L302.5 90.6L304.5 90.6L306.5 90.6L308.5 90.6L310.5 90.5L312.5 90.4L314.5 90.4L316.5 90.5L318.5 90.6L320.5 90.6L322.5 90.6L324.5 90.6L326.5 90.5L328.5 90.6L330.5 90.6L332.5 90.7L334.5 90.6L336.5 90.5L338.5 90.4L340.5 90.5L342.5 90.6L344.5 90.7L346.5 90.6L348.5 90.6L350.5 90.6L352.5 90.7L354.5 90.7L356.5 90.8L358.5 90.8L360.5 90.8L362.5 90.8L364.5 90.7L366.5 90.7L368.5 90.8L370.5 90.8L372.5 90.7L374.5 90.7L376.5 90.6L378.5 90.6L380.5 90.5L382.5 90.5L384.5 90.6L386.5 90.6L388.5 90.6L390.5 90.6L392.5 90.6L394.5 90.5L396.5 90.6L398.5 90.6L400.5 90.6L402.5 90.7L404.5 90.8L406.5 90.8L408.5 90.7L410.5 90.7L412.5 90.6L414.5 90.6L416.5 90.5L418.5 90.5L420.5 90.6L422.5 90.7L424.5 90.7L426.5 90.7L428.5 90.7L430.5 90.7L432.5 90.7L434.5 90.7L436.5 90.6L438.5 90.6L440.5 90.6L442.5 90.8L444.5 90.8L446.5 90.7L448.5 90.7L450.5 90.7L452.5 90.7L454.5 90.7L456.5 90.7L458.5 90.7L460.5 90.8L462.5 90.8L464.5 90.7L466.5 90.6L468.5 90.7L470.5 90.6L472.5 90.6L474.5 90.7L476.5 90.7L478.5 90.7L480.5 90.7L482.5 90.7L484.5 90.6L486.5 90.5L488.5 90.4L490.5 90.4L492.5 90.5L494.5 90.5L496.5 90.6L498.5 90.7L500.5 90.8L502.5 90.8L504.5 90.7L506.5 90.6L508.5 90.7L510.5 90.7L512.5 90.7L514.5 90.7L516.5 90.7L518.5 90.7L520.5 90.7L522.5 90.7L524.5 90.7L526.5 90.7L528.5 90.6L530.5 90.5L532.5 90.5L534.5 90.4L536.5 90.4L538.5 90.4L540.5 90.5L542.5 90.7L544.5 90.8L546.5 90.8L548.5 90.7L550.5 90.7L552.5 90.7L554.5 90.7L556.5 90.6L558.5 90.5L560.5 90.5L562.5 90.5L564.5 90.5L566.5 90.5L568.5 90.6L570.5 90.7L572.5 90.8L574.5 90.7L576.5 90.7L578.5 90.7L580.5 90.7L582.5 90.7L584.5 90.6L586.5 90.7L588.5 90.7L590.5 90.8L592.5 90.9L594.5 90.9L596.5 90.8L598.5 90.8L600.5 90.8L602.5 90.8L604.5 90.7L606.5 90.6L608.5 90.5L610.5 90.5L612.5 90.5L614.5 90.5L616.5 90.6L618.5 90.6L620.5 90.6L622.5 90.7L624.5 90.7L626.5 90.7L628.5 90.6L630.5 90.6L632.5 90.6L634.5 90.6L636.5 90.6L638.5 90.6L640.5 90.6L642.5 90.6L644.5 90.6L646.5 90.6L648.5 90.7L650.5 90.8L652.5 90.8L654.5 90.8L656.5 90.8L658.5 90.8L660.5 90.6L662.5 90.5L664.5 90.7L666.5 90.8L668.5 90.8L670.5 90.7L672.5 90.7L674.5 90.7L676.5 90.7L678.5 90.6L680.5 90.6L682.5 90.7L684.5 90.7L686.5 90.7L688.5 90.7L690.5 90.8L692.5 90.8L694.5 90.8L696.5 90.7L698.5 90.6L700.5 90.6L702.5 90.5L704.5 90.4L706.5 90.4L708.5 90.5L710.5 90.6L712.5 90.7L714.5 90.9L716.5 91L718.5 91L720.5 90.8L722.5 90.6L724.5 90.6L726.5 90.6L728.5 90.6L730.5 90.7L732.5 90.7L734.5 90.7L736.5 90.8L738.5 90.9L740.5 90.8L742.5 90.6L744.5 90.6L746.5 90.7L748.5 90.9L750.5 90.9L752.5 90.6L754.5 90.5L756.5 90.5L758.5 90.6L760.5 90.7L762.5 90.7L764.5 90.9L766.5 91L768.5 91.1L770.5 91L772.5 90.8L774.5 90.5L776.5 90.3L778.5 90.3L780.5 90.5L782.5 90.7L784.5 90.9L786.5 90.9L788.5 90.9L790.5 90.8L792.5 90.6L794.5 90.3L796.5 90.1L798.5 90.2L800.5 90.4L802.5 90.6L804.5 90.7L806.5 90.8L808.5 90.9L810.5 90.9L812.5 90.7L814.5 90.5L816.5 90.4L818.5 90.4L820.5 90.7L822.5 90.7L824.5 90.5L826.5 90.5L828.5 90.7L830.5 90.9L832.5 90.8L834.5 90.7L836.5 90.7L838.5 90.9L840.5 91.1L842.5 91.2L844.5 91.1L846.5 91L848.5 91L850.5 90.9L852.5 90.7L854.5 90.6L856.5 90.6L858.5 90.6L860.5 90.7L862.5 90.7L864.5 90.8L866.5 90.7L868.5 90.7L870.5 90.6L872.5 90.7L874.5 90.8L876.5 90.8L878.5 90.7L880.5 90.4L882.5 90.3L884.5 90.5L886.6 90.7L888.4 92.3L890.4 90.5L892.5 90.8L894.5 90.9L896.5 90.9L898.5 90.7L900.5 90.5L902.5 90.6L904.5 90.7L906.5 90.7L908.5 90.7L910.5 90.6L912.5 90.6L914.5 90.9L916.5 91.1L918.5 91L920.5 90.9L922.5 90.8L924.5 90.8L926.5 90.6L928.5 90.7L930.5 90.9L932.5 91.2L934.5 91.2L936.5 90.9L938.5 90.5L940.5 90.5L942.5 90.6L944.5 90.7L946.5 90.7L948.5 90.7L950.5 90.6L952.5 90.5L954.5 90.5L956.5 90.6L958.5 90.8L960.5 90.7L962.5 90.3L964.5 90.1L966.5 90.3L968.5 90.8L970.5 91.3L972.5 91.3L974.5 90.9L976.5 90.5L978.5 90.5L980.5 90.7L982.5 90.8L984.5 90.9L986.5 90.7L988.5 90.4L990.5 90.1L992.5 90.1L994.5 90.5L996.5 90.8L998.5 90.7L1000.5 90.6L1002.5 90.7L1004.5 90.9L1006.5 90.9L1008.5 90.9L1010.5 90.9L1012.5 90.8L1014.5 90.8L1016.5 90.8L1018.5 90.9L1020.5 91L1022.5 90.9L1024.5 90.8L1026.5 90.7L1028.5 90.7L1030.5 90.7L1032.5 90.8L1034.5 90.9L1036.5 90.7L1038.5 90.5L1040.5 90.3L1042.5 90.4L1044.5 90.5L1046.5 90.6L1048.5 90.7L1050.5 90.8L1052.5 90.8L1054.5 90.7L1056.5 90.6L1058.5 90.6L1060.5 90.6L1062.5 90.6L1064.5 90.7L1066.5 90.7L1068.5 90.5L1070.5 90.3L1072.5 90.4L1074.5 90.7L1076.5 90.9L1078.5 90.7L1080.5 90.5L1082.5 90.4L1084.5 90.5L1086.5 90.7L1088.5 90.7L1090.5 90.7L1092.5 90.6L1094.5 90.5L1096.5 90.5L1098.5 90.5L1100.5 90.5L1102.5 90.5L1104.5 90.5L1106.5 90.6L1108.5 90.7L1110.5 90.8L1112.5 90.9L1114.5 91L1116.5 91L1118.5 90.9L1120.5 90.6L1122.5 90.4L1124.5 90.3L1126.5 90.3L1128.5 90.6L1130.5 90.9L1132.5 91.2L1134.5 91.2L1136.5 90.9L1138.5 90.7L1140.5 90.5L1142.5 90.5L1144.5 90.6L1146.5 90.7L1148.5 90.7L1150.5 90.6L1152.5 90.7L1154.5 90.9L1156.5 91.1L1158.5 91.1L1160.5 90.7L1162.5 90.3L1164.5 90.2L1166.5 90.4L1168.5 90.6L1170.5 90.6L1172.5 90.6L1174.5 90.7L1176.5 90.8L1178.5 90.6L1180.5 90.3L1182.5 90L1184.5 89.9L1186.5 90.2L1188.5 90.6L1190.5 90.8L1192.5 90.9L1194.5 90.9L1196.5 90.9L1198.5 91L1200.5 91L1202.5 90.8L1204.5 90.4L1206.5 90L1208.5 90.1L1210.5 90.4L1212.5 90.5L1214.5 90.3L1216.5 90.3L1218.5 90.2L1220.5 90.2L1221.5 90.6L1280 435.5L1281.2 452.3L1282.9 443.2L1284.9 496L1287.6 59.5L1289.3 102.8L1290.6 90.8L1292.5 90.6L1294.5 90.7L1296.5 90.5L1298.5 90.1L1300.5 90L1302.5 90.2L1304.5 90.5L1306.5 90.7L1308.5 90.9L1310.5 91L1312.5 91L1314.5 91L1316.5 90.9L1318.5 90.8L1320.5 90.9L1322.5 91L1324.5 91L1326.5 91L1328.5 90.9L1330.5 90.7L1332.5 90.5L1334.5 90.6L1336.5 90.7L1338.5 90.8L1340.5 90.6L1342.5 90.4L1344.5 90.4L1346.5 90.5L1348.5 90.5L1350.5 90.5L1352.5 90.5L1354.5 90.7L1356.5 90.8L1358.5 90.9L1360.5 90.9L1362.5 90.8L1364.5 90.8L1366.5 90.7L1368.5 90.6L1370.5 90.6L1372.5 90.6L1374.5 90.5L1376.5 90.4L1378.5 90.3L1380.5 90.3L1382.5 90.6L1384.5 90.7L1386.5 90.7L1388.5 90.7L1390.5 90.7L1392.5 90.8L1394.5 90.7L1396.5 90.5L1398.5 90.3L1400.5 90.5L1402.5 90.9L1404.5 91.1L1406.5 90.9L1408.5 90.8L1410.5 90.8L1412.5 90.9L1414.5 91.1L1416.5 91.1L1418.5 90.9L1420.5 90.8L1422.5 90.7L1424.5 90.7L1426.5 90.6L1428.5 90.6L1430.5 90.7L1432.5 90.9L1434.5 91.1L1436.5 91.3L1438.5 91.4L1440.5 91.2L1442.5 90.9L1444.5 90.6L1446.5 90.5L1448.5 90.6L1450.5 90.8L1452.5 90.8L1454.5 90.8L1456.5 90.8L1458.5 90.8L1460.5 90.9L1462.5 91" fill="none" stroke="#ff7f0e" stroke-width="2.08" stroke-linejoin="round" stroke-linecap="butt"/>
</g>
<path d="M116.5 518.5v5.4M284.5 518.5v5.4M452.5 518.5v5.4M621.5 518.5v5.4M789.5 518.5v5.4M957.5 518.5v5.4M1125.5 518.5v5.4M1294.5 518.5v5.4M116.5 91.5h-5.4M116.5 144.5h-5.4M116.5 197.5h-5.4M116.5 251.5h-5.4M116.5 304.5h-5.4M116.5 357.5h-5.4M116.5 411.5h-5.4M116.5 464.5h-5.4" stroke="#000" stroke-width="1.1" fill="none"/>
<rect x="116.5" y="38.5" width="1346.0" height="480.0" fill="none" stroke="#000" stroke-width="1.1"/>
<text transform="translate(105.3 99.25) scale(1 0.955)" font-size="22.22" text-anchor="end">0</text>
<text transform="translate(105.3 152.25) scale(1 0.955)" font-size="22.22" text-anchor="end">−50</text>
<text transform="translate(105.3 205.25) scale(1 0.955)" font-size="22.22" text-anchor="end">−100</text>
<text transform="translate(105.3 259.25) scale(1 0.955)" font-size="22.22" text-anchor="end">−150</text>
<text transform="translate(105.3 312.25) scale(1 0.955)" font-size="22.22" text-anchor="end">−200</text>
<text transform="translate(105.3 365.25) scale(1 0.955)" font-size="22.22" text-anchor="end">−250</text>
<text transform="translate(105.3 419.25) scale(1 0.955)" font-size="22.22" text-anchor="end">−300</text>
<text transform="translate(105.3 472.25) scale(1 0.955)" font-size="22.22" text-anchor="end">−350</text>
<rect x="1047.6" y="48.6" width="405.8" height="79.9" rx="2.8" ry="2.8" fill="#fff" fill-opacity="0.8" stroke="#ccc" stroke-opacity="0.8" stroke-width="1.1"/>
<circle cx="1073.4" cy="63.8" r="2.78" fill="#1f77b4"/>
<path d="M1052.9 102H1092" stroke="#ff7f0e" stroke-width="2.08" fill="none"/>
<text transform="translate(1106 69.2) scale(1 0.955)" font-size="18.52">Raw Data</text>
<text transform="translate(1106 96.2) scale(1 0.955)" font-size="18.52">Butterworth Filtered Data</text>
<text transform="translate(1106 116.9) scale(1 0.955)" font-size="18.52">(N=6, Tc=3.3333 min, Type: low)</text>
<text transform="translate(115.2 30.2) scale(1 0.985)" font-size="26.67">(a)</text>
<text transform="translate(784 30.2) scale(1 0.985)" font-size="26.67" text-anchor="middle">2.5 MHz N0000002</text>
<text transform="translate(31 278.5) rotate(-90) scale(1 0.955)" font-size="22.22" text-anchor="middle">Doppler Shift [Hz]</text>
</g>
<g id="axes-b">
<g clip-path="url(#c2)">
<rect x="145.2" y="575.5" width="562.6" height="479.0" fill="#d3d3d3" fill-opacity="0.5"/>
<path d="M145.5 575.5V1054.5M707.5 575.5V1054.5" stroke="#d3d3d3" stroke-opacity="0.5" stroke-width="1.39" fill="none"/>
<path d="M116.5 1054.5V575.5M284.5 1054.5V575.5M452.5 1054.5V575.5M621.5 1054.5V575.5M789.5 1054.5V575.5M957.5 1054.5V575.5M1125.5 1054.5V575.5M1294.5 1054.5V575.5M116.5 1037.5H1462.5M116.5 981.5H1462.5M116.5 926.5H1462.5M116.5 871.5H1462.5M116.5 815.5H1462.5M116.5 760.5H1462.5M116.5 705.5H1462.5M116.5 649.5H1462.5M116.5 594.5H1462.5" stroke="#b0b0b0" stroke-width="1.1" stroke-dasharray="1.1 1.83" fill="none"/>
<path d="M115 1025.2L118 1022.2L119 1022.2L120 1022.8L121 1022.8L122 1022.2L123 1022.8L126 1022.8L127 1022.2L128 1022.2L129 1021.8L130 1022.2L136 1022.2L138 1023.2L141 1023.2L142 1022.8L143 1022.8L144 1022.2L146 1022.2L147 1021.2L148 1021.2L149 1021.8L151 1021.8L152 1022.8L154 1022.8L155 1022.2L159 1022.2L160 1021.8L163 1021.8L164 1022.2L166 1022.2L167 1021.8L168 1020.2L171 1017.2L172 1016.8L173 1011.8L174 1011.2L176 1011.2L178 1009.2L179 1006.8L180 1005.8L181 1005.2L182 1005.2L183 1004.8L184 1000.8L185 997.8L186 996.8L187 990.8L188 988.8L189 981.2L190 976.2L191 975.2L192 974.8L194 961.2L195 960.2L198 958.8L199 952.8L200 948.2L201 947.8L202 941.8L203 940.8L204 931.8L205 929.2L206 921.8L207 918.2L208 916.2L209 915.2L210 914.8L211 914.8L212 899.8L214 881.8L215 881.8L216 878.2L217 864.8L218 863.8L219 861.2L220 860.2L222 843.2L223 827.8L224 827.8L226 809.8L227 809.2L229 809.2L230 796.2L231 802.8L232 802.8L233 802.2L234 812.2L236 812.2L237 791.8L238 802.2L239 802.8L240 802.8L241 751.8L242 751.8L243 752.2L244 752.2L245 751.8L246 750.8L247 748.8L248 738.2L249 739.2L250 740.8L252 740.8L253 746.8L254 746.8L255 747.2L257 747.2L258 728.2L259 728.2L260 725.2L261 755.2L262 755.2L263 754.8L264 713.2L265 725.8L267 725.8L268 734.8L270 734.8L271 733.8L272 710.2L273 710.8L274 711.8L275 716.2L277 716.2L279 706.8L282 706.8L283 706.2L284 698.2L285 711.8L286 712.2L287 719.2L288 719.2L289 720.2L291 720.2L292 719.8L293 720.2L295 720.2L296 719.2L297 689.2L298 691.8L300 691.8L302 693.8L303 704.2L305 704.2L306 687.2L307 687.8L308 696.2L309 696.2L310 697.2L311 697.2L312 692.8L313 694.2L314 694.2L315 706.8L316 707.8L317 708.2L322 708.2L324 672.8L325 685.8L327 685.8L328 665.8L329 654.8L330 670.2L331 678.8L332 683.8L333 693.2L334 695.8L335 695.8L336 701.8L337 702.2L339 702.2L340 694.2L341 694.2L342 693.2L343 667.8L344 667.2L345 666.2L346 667.2L347 697.8L348 698.8L349 698.8L350 698.2L351 680.8L352 680.2L353 678.2L354 693.2L355 693.2L356 677.8L357 677.8L358 678.8L359 680.8L360 682.2L362 682.2L364 683.2L365 697.8L369 697.8L370 676.2L371 677.2L373 677.2L374 676.8L375 667.2L376 681.2L378 681.2L379 673.2L381 673.2L382 656.2L383 656.2L384 674.2L385 675.2L386 676.8L387 676.8L388 677.2L389 677.2L392 674.2L393 688.8L394 688.8L395 705.8L396 705.8L397 691.2L398 691.8L399 694.2L401 694.2L402 683.2L403 675.2L405 675.2L406 674.8L407 683.8L411 683.8L412 669.2L413 671.2L414 671.8L415 672.8L418 672.8L419 671.2L420 671.8L422 671.8L423 670.2L424 658.8L425 658.8L426 662.2L428 662.2L429 661.8L430 648.2L432 652.8L433 653.2L434 665.8L436 665.8L437 664.8L438 654.8L439 653.8L440 641.2L441 642.2L442 642.8L443 643.8L444 643.8L445 652.8L446 654.8L447 655.2L448 655.2L449 654.8L450 653.8L451 650.2L452 649.2L453 630.2L454 640.8L455 640.8L456 646.8L457 648.2L458 656.2L461 656.2L462 657.8L464 657.8L465 651.8L467 651.8L468 652.8L469 663.2L470 665.2L471 682.8L473 682.8L474 681.8L475 667.8L476 665.8L477 664.8L478 659.2L479 665.8L480 666.2L481 666.2L482 671.2L483 671.2L485 670.2L486 670.2L488 668.2L489 674.2L490 674.2L491 671.2L492 671.2L493 666.8L496 666.8L497 665.8L498 666.8L499 667.2L500 667.2L501 656.2L502 686.2L504 686.2L505 668.2L506 667.2L507 665.2L508 637.8L509 630.2L510 638.8L511 653.2L512 653.8L514 653.8L515 641.8L517 641.8L518 642.2L519 643.2L520 664.2L521 664.2L522 663.8L523 656.8L524 656.8L525 666.8L526 667.8L528 667.8L529 678.2L531 678.2L532 675.2L533 662.8L534 658.2L535 651.8L536 670.2L537 670.8L538 671.8L539 671.8L540 683.8L542 683.8L543 671.8L544 672.8L545 697.8L547 697.8L548 672.8L549 671.8L550 631.2L551 643.8L552 645.8L553 645.8L554 637.2L555 637.8L556 637.8L557 637.2L558 669.8L560 669.8L561 643.8L562 644.8L565 644.8L566 643.2L567 653.8L569 653.8L570 653.2L571 653.2L572 653.8L574 653.8L575 670.8L576 673.2L578 673.2L579 672.8L580 672.8L581 671.2L582 686.2L584 686.2L585 673.2L586 673.2L587 672.8L588 671.8L589 667.8L590 651.8L591 651.2L592 651.2L593 640.2L594 640.8L598 640.8L599 659.8L601 659.8L602 650.8L603 650.8L604 631.8L605 631.2L607 650.8L608 653.8L610 653.8L611 653.2L612 637.2L613 631.8L614 631.8L615 619.2L616 626.8L617 629.8L618 633.8L620 633.8L621 632.8L623 657.8L624 657.8L625 665.2L627 665.2L628 645.2L629 662.2L630 662.2L631 645.2L632 661.8L633 662.8L634 680.2L635 680.8L637 680.8L638 673.2L639 670.2L641 670.2L642 671.2L643 671.8L645 671.8L646 651.8L647 651.8L648 650.8L649 650.2L650 650.2L651 647.2L652 643.2L653 642.2L654 648.2L657 648.2L658 639.8L660 639.8L661 633.8L662 633.8L663 626.2L664 624.8L665 623.8L666 624.2L668 653.8L669 655.2L670 656.2L671 676.8L672 676.8L673 680.2L675 682.2L676 682.8L678 682.8L679 656.2L680 655.2L681 649.2L682 649.8L684 649.8L685 649.2L686 649.2L687 647.8L688 643.2L689 643.8L690 643.8L691 650.2L692 659.2L694 659.2L695 658.2L696 664.2L697 664.2L698 671.2L699 671.2L700 669.2L701 662.2L702 662.2L703 632.2L704 651.8L705 652.2L706 657.8L708 657.8L709 682.2L710 692.8L712 692.8L713 682.8L714 680.8L715 679.8L716 685.2L717 685.2L718 684.8L719 683.8L720 684.8L721 692.2L722 717.8L723 724.8L724 725.2L725 807.8L727 809.8L728 838.2L729 838.2L730 843.8L731 874.2L732 875.2L733 881.8L734 885.2L735 886.8L736 896.8L737 900.2L738 901.2L739 901.2L740 902.2L741 903.8L742 903.8L743 919.8L744 920.8L745 926.2L746 926.2L747 935.8L749 937.8L750 959.8L751 962.2L752 962.8L753 962.8L754 976.2L755 978.2L756 978.8L757 979.8L758 988.2L759 989.2L760 990.8L761 991.2L762 992.2L763 996.2L764 996.2L765 996.8L766 997.8L767 999.8L768 999.8L769 999.2L770 998.2L771 998.2L772 999.2L773 1001.2L775 1001.2L776 998.8L777 997.8L778 998.8L780 998.8L781 999.2L785 1003.2L786 1003.2L787 1003.8L788 1004.8L791 1004.8L792 1005.8L793 1009.8L795 1009.8L797 1008.8L801 1008.8L802 1009.8L804 1009.8L808 1013.8L809 1013.8L810 1013.2L811 1012.2L812 1011.8L814 1011.8L815 1012.8L816 1016.8L817 1017.8L818 1018.2L819 1018.2L821 1019.2L822 1020.2L825 1020.2L826 1020.8L828 1020.8L829 1019.8L830 1020.2L834 1020.2L835 1020.8L842 1020.8L844 1021.8L849 1021.8L850 1022.2L853 1022.2L854 1022.8L855 1022.8L856 1022.2L860 1022.2L861 1021.2L862 1021.8L866 1021.8L867 1021.2L872 1021.2L873 1021.8L879 1021.8L880 1022.2L882 1022.2L883 1021.8L884 1018.8L885 1007.2L886 1001.2L887 998.8L888 997.8L889 997.8L890 998.8L891 1001.2L892 1007.2L893 1020.2L894 1021.8L895 1021.8L896 1021.2L900 1021.2L901 1022.2L904 1022.2L905 1021.2L906 1022.2L908 1022.2L909 1021.8L910 1022.8L912 1022.8L913 1022.2L914 1021.2L915 1022.2L920 1022.2L921 1021.8L922 1021.8L923 1021.2L927 1021.2L928 1021.8L930 1021.8L931 1022.2L936 1022.2L937 1021.2L938 1022.2L940 1023.2L944 1023.2L945 1022.8L950 1022.8L951 1022.2L953 1022.2L954 1021.8L957 1021.8L958 1022.8L962 1022.8L963 1022.2L965 1022.2L966 1021.8L970 1021.8L971 1022.2L976 1022.2L978 1021.2L979 1021.2L980 1022.2L982 1022.2L983 1021.8L984 1022.2L986 1022.2L988 1021.2L990 1021.2L991 1022.2L995 1022.2L996 1021.8L1000 1021.8L1001 1022.2L1008 1022.2L1009 1021.8L1010 1021.8L1011 1021.2L1012 1021.2L1013 1021.8L1017 1021.8L1018 1022.2L1023 1022.2L1024 1021.2L1025 1022.2L1026 1022.2L1027 1022.8L1029 1022.8L1030 1022.2L1031 1022.2L1032 1022.8L1035 1022.8L1036 1022.2L1037 1021.2L1038 1022.2L1043 1022.2L1044 1021.2L1045 1022.2L1046 1022.8L1049 1022.8L1050 1021.8L1052 1021.8L1053 1022.8L1056 1022.8L1057 1021.8L1059 1021.8L1060 1021.2L1061 1021.8L1065 1021.8L1067 1022.8L1068 1022.8L1069 1022.2L1070 1022.8L1071 1022.8L1072 1022.2L1073 1022.2L1075 1021.2L1076 1021.2L1077 1022.2L1081 1022.2L1082 1021.8L1083 1021.8L1084 1022.2L1089 1022.2L1090 1021.8L1091 1022.2L1095 1022.2L1096 1021.8L1098 1021.8L1099 1022.2L1101 1022.2L1102 1021.8L1107 1021.8L1109 1020.8L1110 1021.8L1112 1021.8L1113 1022.2L1114 1022.2L1115 1021.8L1116 1022.2L1118 1022.2L1119 1021.2L1120 1022.2L1122 1022.2L1123 1022.8L1127 1022.8L1129 1021.8L1130 1022.2L1131 1022.2L1132 1022.8L1134 1022.8L1135 1022.2L1136 1022.2L1138 1023.2L1139 1023.2L1140 1022.8L1142 1022.8L1145 1021.2L1146 1021.2L1147 1021.8L1148 1021.8L1149 1021.2L1150 1021.8L1152 1021.8L1153 1021.2L1154 1017.8L1155 1015.8L1156 1014.8L1157 1014.8L1158 1015.8L1159 1020.8L1160 1021.8L1165 1021.8L1166 1021.2L1167 1021.8L1172 1021.8L1173 1021.2L1174 1021.2L1175 1021.8L1176 1022.8L1180 1022.8L1181 1022.2L1182 1022.2L1183 1022.8L1187 1022.8L1188 1022.2L1189 1022.2L1190 1021.8L1191 1021.8L1192 1022.2L1193 1022.2L1195 1021.2L1197 1021.2L1198 1022.2L1200 1022.2L1202 1021.2L1203 1020.2L1204 1019.8L1206 1020.8L1208 1020.8L1209 1021.2L1211 1021.2L1212 1021.8L1215 1021.8L1216 1021.2L1217 1021.2L1218 1020.8L1219 1021.8L1223 1021.8L1224 1022.2L1225 1023.2L1225 1027.8L1224 1028.8L1222 1028.8L1221 1029.8L1220 1028.8L1216 1028.8L1215 1029.2L1212 1029.2L1211 1028.8L1208 1028.8L1207 1029.2L1204 1029.2L1203 1029.8L1198 1029.8L1197 1030.2L1196 1029.8L1194 1029.8L1193 1030.2L1183 1030.2L1182 1030.8L1181 1030.8L1180 1030.2L1179 1029.2L1175 1029.2L1174 1029.8L1170 1029.8L1169 1029.2L1168 1029.2L1167 1028.8L1165 1028.8L1164 1029.8L1163 1029.2L1160 1029.2L1157 1027.8L1155 1027.8L1152 1029.2L1151 1029.2L1150 1029.8L1148 1029.8L1147 1029.2L1144 1029.2L1142 1030.2L1141 1030.2L1140 1031.2L1139 1031.2L1138 1030.8L1137 1030.8L1135 1029.8L1126 1029.8L1125 1030.2L1122 1030.2L1121 1029.8L1118 1029.8L1117 1030.2L1116 1030.2L1114 1029.2L1108 1029.2L1107 1028.8L1104 1028.8L1102 1029.8L1098 1029.8L1097 1029.2L1093 1029.2L1092 1029.8L1091 1029.8L1090 1030.2L1087 1030.2L1086 1029.8L1083 1029.8L1081 1030.8L1080 1029.8L1078 1029.8L1077 1029.2L1074 1029.2L1073 1029.8L1068 1029.8L1067 1030.2L1066 1030.2L1065 1029.8L1056 1029.8L1055 1030.2L1054 1030.2L1053 1029.8L1051 1029.8L1050 1030.2L1049 1030.2L1048 1029.8L1044 1029.8L1043 1030.8L1042 1030.2L1041 1030.2L1040 1029.8L1038 1029.8L1037 1030.2L1036 1031.2L1035 1031.2L1034 1030.2L1033 1030.2L1032 1029.8L1030 1029.8L1029 1030.8L1028 1029.8L1026 1029.8L1025 1030.8L1024 1029.8L1023 1028.2L1021 1028.2L1020 1029.2L1018 1029.2L1017 1028.8L1016 1028.8L1015 1028.2L1013 1028.2L1012 1028.8L1011 1028.8L1009 1029.8L1000 1029.8L999 1029.2L998 1029.2L997 1029.8L996 1029.8L995 1029.2L994 1029.2L993 1029.8L986 1029.8L985 1030.2L982 1030.2L981 1029.2L979 1029.2L978 1029.8L974 1029.8L973 1029.2L971 1029.2L970 1029.8L968 1028.8L966 1028.8L965 1029.8L963 1029.8L962 1030.2L961 1030.2L960 1029.8L956 1029.8L955 1029.2L954 1029.2L953 1029.8L951 1029.8L950 1030.8L949 1031.2L948 1031.2L946 1030.2L945 1030.2L943 1031.2L940 1031.2L939 1030.2L938 1029.8L935 1029.8L934 1030.2L933 1029.2L932 1028.8L931 1028.8L930 1029.2L929 1029.2L928 1029.8L926 1028.8L922 1028.8L921 1029.2L917 1029.2L916 1029.8L915 1030.8L914 1030.8L913 1030.2L906 1030.2L905 1029.8L904 1029.8L903 1029.2L898 1029.2L896 1030.2L894 1030.2L892 1029.2L890 1027.2L889 1026.8L888 1026.8L887 1027.2L884 1027.2L883 1028.2L882 1028.2L879 1029.8L878 1030.8L877 1030.8L876 1029.8L875 1029.2L873 1029.2L872 1030.2L871 1029.8L865 1029.8L863 1028.8L860 1028.8L859 1029.2L855 1029.2L854 1030.2L849 1030.2L848 1030.8L845 1030.8L844 1030.2L840 1030.2L839 1030.8L838 1030.8L837 1030.2L836 1029.2L829 1029.2L828 1029.8L827 1028.8L818 1028.8L817 1027.8L815 1026.8L813 1026.8L810 1028.2L809 1027.8L806 1027.8L805 1026.8L804 1026.2L801 1026.2L800 1026.8L798 1026.8L795 1030.2L793 1028.2L792 1027.8L791 1026.8L790 1026.2L788 1026.2L787 1027.2L786 1026.2L783 1026.2L782 1026.8L781 1026.8L780 1026.2L778 1026.2L777 1026.8L774 1029.8L772 1027.8L769 1027.8L767 1025.8L766 1025.8L765 1026.2L764 1026.2L759 1021.2L758 1019.8L757 1018.8L756 1018.2L755 1018.2L754 1018.8L753 1019.8L752 1018.8L750 1011.2L749 1008.8L748 1007.8L747 1005.8L746 1004.8L745 1002.8L744 995.8L743 995.8L742 995.2L741 994.2L740 992.2L739 991.2L738 983.2L737 982.8L735 982.8L734 976.2L733 971.8L731 954.2L730 954.2L729 928.2L728 927.2L727 897.2L725 897.2L724 900.2L723 869.8L721 862.2L720 862.2L719 836.2L717 836.2L716 841.2L715 816.2L713 816.2L712 817.8L711 841.8L710 841.8L709 811.2L707 810.2L706 809.2L705 795.2L704 795.2L703 796.8L702 803.2L700 803.2L699 826.2L698 826.2L697 842.2L696 819.2L695 813.8L693 813.8L692 823.2L691 821.2L690 815.2L689 814.2L687 814.2L686 814.8L685 823.8L683 823.8L682 825.8L681 832.8L680 833.8L677 833.8L676 834.2L675 835.2L674 863.2L673 840.8L672 840.8L671 828.2L670 823.2L669 788.2L668 788.2L667 808.8L666 812.8L665 793.8L664 793.8L663 793.2L660 793.2L659 817.8L658 818.8L657 819.2L656 819.2L655 827.2L654 829.2L653 822.2L652 819.8L651 819.2L650 812.2L649 811.8L646 811.8L645 829.2L644 840.2L643 837.8L640 837.8L639 839.8L638 840.8L637 840.2L636 840.2L635 841.2L634 846.8L633 846.8L632 841.2L631 816.8L629 816.8L628 818.2L627 838.8L626 838.8L625 839.2L624 834.2L622 804.8L620 804.8L619 833.2L618 832.2L617 798.2L616 796.8L615 796.2L613 796.2L612 819.2L611 790.2L609 790.2L608 791.2L607 791.2L606 793.8L605 813.2L603 816.2L602 836.2L601 836.8L600 818.8L598 818.8L597 820.8L596 821.8L595 814.2L594 813.2L593 810.8L591 810.8L590 812.8L589 813.8L588 808.8L586 808.8L585 820.2L584 820.2L583 855.8L582 846.8L580 845.8L579 845.8L578 847.8L577 848.8L576 848.8L575 847.8L574 846.2L573 807.2L571 807.2L570 808.2L569 811.2L568 813.2L567 830.2L566 829.2L565 823.2L564 796.2L562 795.2L561 795.2L560 825.8L559 832.2L558 814.2L557 807.8L555 807.8L554 810.8L553 811.8L551 811.8L550 813.2L549 814.2L547 815.2L546 838.2L545 838.2L544 838.8L543 841.2L542 841.2L541 840.8L539 840.8L538 841.2L537 839.8L536 836.8L535 830.8L534 830.8L533 832.2L531 832.2L530 832.8L529 847.2L528 835.8L527 814.8L526 814.8L525 815.2L524 828.2L523 827.8L522 827.8L521 820.2L520 819.2L518 819.2L517 806.2L516 806.2L515 805.8L512 805.8L511 822.2L510 771.2L508 771.2L507 813.2L506 813.8L505 820.8L504 820.8L503 836.8L502 838.2L501 839.2L500 838.2L499 838.2L498 810.8L496 810.8L495 818.8L494 818.8L493 819.2L492 823.8L491 834.8L490 834.2L489 834.2L488 833.8L486 833.8L485 835.8L484 845.2L483 868.2L482 854.2L481 854.2L480 848.2L479 829.2L478 828.8L476 828.8L475 807.8L473 807.8L472 822.8L471 822.8L470 824.8L469 835.2L468 834.2L466 834.2L465 840.2L464 808.2L463 803.8L461 803.8L460 804.2L459 809.2L458 808.8L457 808.8L456 809.2L455 788.2L453 788.2L452 801.2L451 800.2L446 800.2L445 806.2L444 806.2L443 805.8L442 799.8L441 799.2L440 799.2L439 808.2L438 807.2L437 802.2L435 802.2L434 805.2L433 806.2L432 839.2L431 800.2L430 799.8L429 799.8L428 851.2L427 826.8L426 817.8L422 817.8L421 831.8L420 832.2L419 832.2L418 846.8L415 849.8L414 808.8L412 808.8L411 868.2L410 848.8L409 847.8L408 847.8L407 854.2L406 842.8L405 842.2L403 842.2L402 853.8L401 853.2L400 852.2L399 851.8L398 834.2L396 834.2L395 867.2L394 841.2L393 841.2L392 835.2L390 835.2L389 848.8L388 854.8L387 853.8L386 844.8L384 844.8L383 846.8L382 847.8L381 848.2L380 853.2L379 852.8L378 835.2L377 835.2L376 835.8L375 838.8L374 838.8L373 839.2L372 834.2L371 823.8L369 823.8L368 824.8L367 824.8L366 849.2L365 832.2L363 832.2L362 836.2L361 836.8L360 868.2L359 877.2L358 877.2L357 878.8L356 854.8L355 853.8L354 852.2L353 851.8L352 851.8L351 860.8L350 860.8L349 865.8L347 865.8L346 880.8L345 879.8L344 868.8L343 867.2L342 867.2L341 857.2L339 857.2L338 868.2L337 885.8L336 874.8L334 874.8L333 875.2L332 874.2L331 871.2L330 844.2L328 844.2L327 851.8L325 851.8L324 853.2L323 854.2L322 862.2L321 861.2L320 860.8L318 860.8L317 876.2L316 877.2L314 877.2L313 879.8L312 880.8L311 872.8L310 859.8L309 858.8L306 858.8L305 869.8L304 886.8L303 857.2L301 857.2L300 873.2L299 874.2L298 874.8L297 874.8L296 875.8L295 866.8L294 866.8L293 877.2L292 878.2L291 862.8L286 862.8L285 872.2L284 872.2L283 866.2L281 866.2L279 868.2L278 868.8L277 869.8L275 870.8L274 871.8L273 878.8L272 869.2L271 868.8L270 868.8L269 869.2L268 887.2L267 887.2L266 872.2L264 872.2L263 883.8L260 883.8L259 884.2L258 885.2L257 898.8L256 898.8L254 899.8L253 899.8L252 883.8L251 881.8L250 881.8L249 882.2L248 895.2L247 896.2L246 922.2L244 923.2L243 936.2L242 936.2L241 935.2L240 934.8L239 934.8L238 935.2L237 943.2L236 943.8L235 943.8L234 951.2L231 951.2L230 958.8L229 958.8L228 960.2L227 967.8L225 967.8L224 978.8L223 978.8L222 981.2L221 986.8L220 989.2L219 990.2L218 996.8L217 1005.2L216 1010.2L215 1009.2L214 1007.8L213 1007.8L212 1007.2L211 1006.2L210 1003.8L208 1003.8L207 1019.2L204 1015.8L201 1015.8L200 1022.8L199 1022.8L198 1022.2L196 1022.2L195 1022.8L194 1024.2L193 1025.2L191 1026.2L190 1027.8L186 1031.8L184 1029.8L183 1029.2L182 1029.2L181 1029.8L180 1029.8L179 1028.8L177 1028.8L176 1029.2L174 1029.2L173 1030.2L172 1030.8L171 1030.8L170 1031.2L169 1032.2L168 1031.8L164 1031.8L163 1030.8L162 1030.8L160 1029.8L158 1029.8L156 1031.8L155 1032.2L153 1032.2L152 1031.2L151 1030.8L149 1030.8L148 1029.8L146 1029.8L145 1030.2L144 1030.2L143 1030.8L139 1030.8L138 1031.2L137 1031.2L136 1030.2L135 1029.8L133 1029.8L131 1030.8L128 1030.8L127 1029.8L124 1029.8L123 1030.2L122 1029.8L121 1029.8L120 1030.2L119 1029.8L117 1029.8L116 1029.2L115 1028.2ZM1283 1024.2L1284 1023.2L1285 1022.8L1286 1022.8L1287 1022.2L1288 1021.2L1290 1021.2L1291 1020.2L1294 1020.2L1295 1020.8L1297 1020.8L1298 1021.8L1300 1021.8L1301 1021.2L1302 1021.2L1303 1021.8L1308 1021.8L1309 1021.2L1310 1021.8L1311 1021.8L1312 1022.2L1322 1022.2L1323 1021.8L1324 1022.2L1326 1022.2L1327 1021.2L1330 1022.8L1334 1022.8L1335 1022.2L1343 1022.2L1344 1021.8L1351 1021.8L1352 1022.2L1361 1022.2L1362 1021.8L1366 1021.8L1368 1022.8L1370 1022.8L1371 1022.2L1372 1022.2L1373 1021.8L1375 1021.8L1376 1021.2L1378 1021.2L1379 1021.8L1382 1021.8L1383 1021.2L1384 1021.8L1385 1021.8L1386 1022.2L1388 1022.2L1389 1021.8L1390 1021.8L1391 1021.2L1392 1021.8L1395 1021.8L1396 1021.2L1397 1021.8L1398 1021.8L1399 1021.2L1400 1021.8L1402 1021.8L1404 1020.8L1406 1021.8L1411 1021.8L1413 1022.8L1423 1022.8L1425 1021.8L1432 1021.8L1433 1020.8L1434 1021.8L1435 1022.2L1437 1022.2L1439 1021.2L1440 1022.2L1441 1022.8L1443 1022.8L1444 1021.8L1446 1021.8L1447 1022.2L1449 1022.2L1450 1021.2L1454 1021.2L1456 1022.2L1462 1022.2L1464 1024.2L1464 1026.8L1463 1027.8L1461 1028.8L1460 1028.8L1459 1029.8L1458 1030.2L1454 1030.2L1453 1029.8L1450 1029.8L1449 1028.8L1448 1028.2L1447 1028.2L1446 1028.8L1445 1028.8L1444 1029.2L1442 1029.2L1441 1028.8L1439 1028.8L1438 1029.2L1437 1028.8L1435 1028.8L1434 1029.2L1429 1029.2L1428 1029.8L1427 1029.8L1426 1029.2L1425 1029.2L1423 1030.2L1419 1030.2L1418 1029.2L1416 1029.2L1415 1030.2L1412 1030.2L1411 1029.8L1410 1028.8L1408 1028.8L1407 1029.8L1406 1029.8L1405 1028.8L1404 1028.2L1402 1028.2L1401 1028.8L1400 1028.8L1399 1029.2L1398 1029.2L1397 1029.8L1396 1029.2L1390 1029.2L1389 1028.8L1387 1028.8L1386 1029.8L1385 1029.2L1384 1029.2L1383 1029.8L1381 1029.8L1380 1029.2L1378 1029.2L1377 1030.2L1376 1029.2L1373 1029.2L1372 1029.8L1370 1029.8L1369 1030.2L1368 1029.2L1361 1029.2L1360 1029.8L1357 1029.8L1356 1030.2L1354 1030.2L1353 1029.8L1350 1029.8L1349 1029.2L1347 1029.2L1346 1030.2L1343 1030.2L1342 1030.8L1341 1030.2L1340 1030.2L1338 1029.2L1335 1029.2L1334 1029.8L1333 1029.8L1332 1030.2L1330 1030.2L1329 1029.8L1327 1029.8L1326 1030.2L1322 1030.2L1321 1029.8L1320 1029.8L1319 1030.2L1318 1029.8L1317 1029.8L1316 1030.2L1315 1030.2L1313 1029.2L1310 1029.2L1309 1028.8L1306 1028.8L1305 1029.8L1303 1029.8L1301 1028.8L1299 1028.8L1298 1029.2L1295 1029.2L1294 1029.8L1293 1028.8L1292 1028.2L1290 1028.2L1289 1028.8L1288 1029.8L1287 1029.8L1286 1032.2L1285 1033.2L1284 1033.2L1283 1032.2Z" fill="#1f77b4" stroke="none"/>
<path d="M116.5 1027.9h0M116.6 1025.3h0M116.7 1027.4h0M117.4 1025h0M117.9 1024.4h0M118.2 1028.2h0M118.3 1023.5h0M119.6 1028.6h0M120 1028.7h0M122 1024.2h0M123.2 1028.7h0M124.6 1024.5h0M124.8 1028h0M125.1 1024.3h0M127.1 1024h0M127.8 1029.2h0M129.2 1023.7h0M129.5 1029.1h0M130.3 1024.1h0M131 1029.1h0M131.3 1024.2h0M132.7 1028.5h0M134 1024h0M134.2 1027.9h0M134.7 1023.8h0M136.1 1024.2h0M137.4 1024.3h0M137.6 1030h0M139.3 1024.8h0M140.7 1029.2h0M141.4 1024.4h0M142.4 1024.4h0M142.9 1028.8h0M144.1 1024.2h0M145.1 1028.3h0M146.8 1027.9h0M147.4 1022.7h0M148.9 1028.9h0M150.9 1023.4h0M153 1030.4h0M154.3 1023.9h0M155.6 1030.3h0M156.8 1028.8h0M157.1 1024h0M160 1028h0M160.1 1023.4h0M161.4 1029h0M162.2 1023.6h0M163.5 1023.6h0M164.7 1030.6h0M165 1024.2h0M167.7 1029.9h0M168.2 1029.9h0M168.2 1022.3h0M168.9 1030.7h0M168.9 1021.7h0M169.4 1021.2h0M169.5 1020.7h0M170.3 1029.5h0M171.4 1018.3h0M172.3 1029.2h0M173.6 1017.1h0M173.6 1013.2h0M175 1015.9h0M175.5 1027.6h0M175.8 1027.3h0M177.6 1011.4h0M178.1 1011h0M178.2 1026.4h0M179.9 1008.5h0M180.3 1028.6h0M180.5 1007.1h0M182.6 1006.3h0M184.9 1029.2h0M185.1 1004.9h0M185.3 1000.9h0M185.5 1003.6h0M185.8 998.3h0M186 1029.9h0M187.7 997h0M187.9 991.6h0M188 992.7h0M188 1028h0M188.6 985.1h0M189.1 982.8h0M189.1 993.9h0M189.1 1026.9h0M189.2 989.3h0M190.5 1024.9h0M191 979.3h0M191.5 976.7h0M191.7 1024.3h0M192.2 970.2h0M192.3 1024h0M192.8 975.5h0M193.5 963.2h0M194.6 967.8h0M195.4 961.4h0M195.5 1020.9h0M196.6 964.9h0M197.3 960.4h0M197.3 954.4h0M198.5 1021h0M198.5 1016.9h0M199.5 1019.2h0M199.9 1013.6h0M200.4 953.1h0M200.5 949.5h0M200.6 957.5h0M200.8 949.3h0M201.8 1023.7h0M201.8 1014.1h0M201.9 948.8h0M202.1 944.7h0M203 1013.8h0M203.2 945.5h0M203.3 933.7h0M203.7 942.2h0M204.6 941.7h0M205.1 1006.6h0M205.3 937.7h0M205.3 1004.3h0M205.4 935.3h0M205.4 938.3h0M205.5 934.5h0M205.9 929.8h0M206 1016h0M206.5 923.2h0M206.5 1012.4h0M207 1002.5h0M207.1 925.8h0M207.1 1008.4h0M207.2 1017.3h0M207.4 1011h0M207.8 919.6h0M208.7 918.3h0M209.6 916.7h0M210.1 1001.8h0M211.5 904.8h0M211.9 902.6h0M212 909.8h0M212.2 906.3h0M212.3 1005.4h0M212.4 1006.1h0M212.8 915h0M213 900.5h0M213.5 911.5h0M213.6 913.9h0M213.8 896h0M213.8 887.6h0M213.9 892.6h0M213.9 883.3h0M214.7 897.3h0M214.8 1002.5h0M215.9 874.2h0M216 868.4h0M216.1 998.1h0M216.1 1004.7h0M216.2 1008.7h0M216.8 878.9h0M217 881.9h0M217.3 989.9h0M217.4 994.8h0M217.9 865.7h0M218 871.4h0M218.4 1012h0M218.5 876h0M218.6 988.8h0M218.8 995.1h0M219.1 1001.7h0M219.9 831.6h0M220 825.2h0M220.4 985.6h0M220.4 853.6h0M220.7 861.6h0M221 980.4h0M221.1 846.9h0M221.2 977.7h0M221.4 856.4h0M221.8 844.8h0M222.2 975.8h0M222.2 993.9h0M222.3 969.5h0M222.3 833.6h0M222.6 829.9h0M222.8 968.5h0M222.8 859h0M223.2 829.6h0M223.3 973.5h0M223.3 967.4h0M223.3 849.3h0M223.4 838.1h0M223.5 821h0M223.6 796.4h0M223.9 841h0M224 835.2h0M224 841.4h0M224.2 819.3h0M224.5 802.5h0M224.7 965.4h0M225.2 973.5h0M225.3 813.9h0M225.4 823.7h0M225.7 977.4h0M226.1 818.5h0M226.1 965.1h0M226.3 811.2h0M226.3 964.2h0M226.3 828.1h0M226.4 959.9h0M226.5 826.4h0M226.9 966.2h0M226.9 779.3h0M227 794.6h0M228.1 977.2h0M228.2 971.5h0M228.5 973.7h0M228.8 951.4h0M229 797.6h0M229 799.8h0M229.3 803.8h0M229.7 810.4h0M229.9 798.2h0M230.4 776.9h0M231.3 808h0M231.3 781h0M231.6 958h0M231.8 809.9h0M232 956h0M232.3 949.4h0M232.8 944.3h0M233 813.1h0M233.2 985.9h0M233.3 958.6h0M233.4 790.8h0M233.4 786.9h0M233.4 784.7h0M233.7 797.8h0M233.7 974.4h0M233.8 969.7h0M233.8 803.7h0M234.1 796.7h0M234.1 807.5h0M234.2 803h0M234.2 947.9h0M234.4 948.5h0M234.8 804.4h0M235 954.8h0M235.1 957.3h0M235.5 949.1h0M235.6 963.4h0M235.7 797.9h0M235.7 961h0M235.9 800.9h0M236 952.1h0M236.1 941.9h0M236.1 754h0M236.3 779.7h0M236.5 938.2h0M236.7 807.1h0M237 805.9h0M237.1 794.3h0M237.4 933.8h0M237.6 794.9h0M237.7 803.7h0M237.9 811.8h0M238 781.8h0M238 785.3h0M238.4 773.5h0M238.4 770.9h0M238.5 810.5h0M238.5 785.1h0M238.5 794.7h0M238.7 743.4h0M238.7 781h0M238.8 792.1h0M238.8 749.1h0M239 797.2h0M239.1 776.7h0M239.1 788.7h0M239.2 773.4h0M239.3 766.8h0M239.8 805h0M239.8 773.2h0M239.9 780h0M240.1 791.6h0M240.2 757.8h0M240.2 798h0M240.3 784.2h0M240.3 761.7h0M240.6 804.6h0M240.7 792.5h0M240.7 773.7h0M240.7 943.3h0M241.5 764.3h0M241.7 787.9h0M241.8 769.6h0M241.9 795.2h0M241.9 753.7h0M242 783.9h0M242.1 761.6h0M242.2 925.5h0M242.3 745.1h0M242.4 934.8h0M242.4 801.2h0M242.4 923.1h0M242.5 740.1h0M242.6 929h0M243.2 733.6h0M243.5 947.8h0M243.6 777.4h0M244 896.1h0M244.6 929.9h0M244.7 897.9h0M244.7 913.1h0M244.7 743.9h0M244.8 738.5h0M244.9 952h0M245.1 918.1h0M245.4 754h0M245.7 921.2h0M245.8 902.6h0M246 738.3h0M246 891h0M246 900.2h0M246.1 906.2h0M246.2 752.3h0M246.3 893.2h0M246.3 887.8h0M246.4 903.1h0M246.5 883.7h0M246.6 744.3h0M246.7 731.4h0M246.8 732.4h0M247.1 932.6h0M247.2 926.7h0M247.2 908.4h0M247.2 894.4h0M247.3 913.4h0M247.3 902.7h0M247.6 886.2h0M247.7 908.8h0M247.7 903.1h0M247.8 740.1h0M247.9 734h0M247.9 936.4h0M248.1 733.4h0M248.2 751.9h0M248.3 880.8h0M248.3 742.1h0M248.5 749h0M248.9 911h0M249 905.2h0M249.1 879.7h0M249.1 908.9h0M249.3 712h0M249.3 716.2h0M249.5 890.2h0M249.8 734.4h0M250 893.4h0M250.3 742.8h0M250.4 920.7h0M250.5 915.6h0M250.6 911.9h0M251 732.4h0M251.1 745.5h0M251.4 898.1h0M251.4 916.2h0M251.5 732.4h0M251.5 726.4h0M251.5 904.5h0M251.7 907.8h0M251.7 747.1h0M251.7 909.7h0M251.8 903.4h0M251.8 742.4h0M252.1 915.4h0M252.2 921.1h0M252.4 712.5h0M252.4 888h0M252.5 719.7h0M252.7 736.2h0M252.8 914.9h0M252.9 891.2h0M252.9 903.9h0M253.4 891.8h0M253.5 883.7h0M253.6 896.5h0M253.9 906.7h0M254 908.8h0M254.1 898h0M254.1 741.7h0M254.1 748.4h0M254.4 924.8h0M254.4 689.5h0M254.5 897.8h0M254.5 700h0M254.5 694.8h0M254.5 927h0M255 718.2h0M255.7 712.5h0M256.5 910.6h0M256.6 748.9h0M256.7 884.5h0M256.7 888.8h0M256.8 742h0M256.9 712.4h0M257 936.9h0M257.1 733.3h0M257.6 889.7h0M257.6 736.6h0M257.7 903.1h0M257.7 739.4h0M257.9 883.4h0M257.9 753.6h0M258 889.4h0M258 730h0M258.1 897.1h0M258.3 747.7h0M258.4 892.5h0M258.5 730.8h0M258.6 754.7h0M258.7 890.5h0M258.8 751.5h0M259 910h0M259.1 746.3h0M259.1 733.8h0M259.3 738.4h0M259.3 743.8h0M259.4 712.3h0M259.6 741.4h0M259.6 705.4h0M260 938.2h0M260 756.6h0M260.1 931.1h0M260.2 927.6h0M260.2 882.2h0M260.5 732.2h0M260.6 872.7h0M260.7 880.7h0M260.9 728.2h0M261 726h0M261.1 904.4h0M261.3 923h0M261.3 879.8h0M261.4 919.5h0M261.5 881.5h0M261.7 882.2h0M261.9 734.9h0M261.9 733.8h0M261.9 700.5h0M262 889.7h0M262 689.9h0M262 721.1h0M262.1 750.3h0M262.1 696.1h0M262.1 874h0M262.2 873.2h0M262.2 748.1h0M262.4 745.6h0M262.5 727.4h0M262.5 744h0M262.6 739.7h0M262.7 715.2h0M262.8 879.7h0M262.9 747.4h0M263.2 724.5h0M263.2 895h0M263.3 740.8h0M263.4 740.6h0M263.8 879.1h0M264 881h0M264.1 722.1h0M264.2 744.8h0M264.2 715h0M264.3 877.8h0M264.3 754.8h0M264.4 731.2h0M264.5 912.9h0M264.6 906.6h0M264.6 709.2h0M264.6 716.5h0M264.7 869.9h0M264.8 886.2h0M264.9 706.7h0M265 898.4h0M265.1 741.7h0M265.2 751.4h0M265.2 894.1h0M265.4 746.6h0M265.5 690.8h0M265.6 736.6h0M265.6 880.5h0M265.8 877.8h0M265.8 897.3h0M266.1 882.1h0M266.1 728.5h0M266.2 733.7h0M266.5 871.2h0M266.8 881.1h0M267 937.3h0M267.1 875.6h0M267.2 930.8h0M267.2 880.4h0M267.3 728.3h0M267.8 877.3h0M267.8 905.6h0M268.1 893.3h0M268.1 729h0M268.2 885.5h0M268.2 899.1h0M268.6 726.2h0M268.6 868h0M268.7 896.1h0M268.7 706.5h0M268.8 876h0M268.8 736.5h0M268.9 713.6h0M269 883.3h0M269.1 708.8h0M269.2 704.6h0M269.4 716.7h0M269.5 723.3h0M269.8 905.6h0M269.8 899.4h0M270 714.2h0M270.4 877.7h0M270.6 703.6h0M270.7 723h0M270.9 726.9h0M271 873.9h0M271 735.6h0M271.1 876.4h0M271.2 866.9h0M271.4 874h0M271.5 883.1h0M271.7 706.4h0M271.8 723.1h0M272.2 867.7h0M272.2 715.5h0M272.4 704.2h0M272.5 712h0M272.7 714.6h0M272.9 720h0M273.1 732.4h0M273.1 731.4h0M273.3 696.3h0M273.8 869.8h0M273.8 728.1h0M274 689h0M274 899.1h0M274.1 903.2h0M274.1 705.1h0M274.3 877.8h0M274.7 892.7h0M274.7 717.5h0M275 887.7h0M275.6 889h0M275.8 882.6h0M276 884.8h0M276 880.7h0M276.1 699.9h0M276.2 687h0M276.3 670.8h0M276.5 696.9h0M276.6 868.3h0M276.9 888.1h0M277.2 706.2h0M277.5 881.8h0M277.5 887h0M277.5 696.5h0M277.6 702h0M277.7 883.6h0M277.8 671.6h0M277.8 667.3h0M277.9 678h0M277.9 874.9h0M278.5 712.7h0M278.6 694.2h0M278.7 866.8h0M278.8 686.1h0M278.9 715.9h0M278.9 689.9h0M278.9 660.3h0M279 713.7h0M279.5 684.5h0M279.9 708.5h0M280 908.8h0M280 698.3h0M280.2 877.5h0M280.3 699.4h0M280.8 876.3h0M280.9 874.6h0M281 888.1h0M281.2 691.7h0M281.3 889.8h0M281.9 709.4h0M282.1 881.1h0M282.3 871.2h0M282.4 708.1h0M282.5 881.6h0M282.6 864.6h0M283.2 709.3h0M283.2 870.3h0M283.5 863.9h0M283.6 887.3h0M283.8 712.5h0M284.4 691.8h0M284.4 879.3h0M284.4 718.8h0M284.5 699.7h0M284.6 716.4h0M284.6 886.5h0M284.7 717.7h0M284.8 866.4h0M284.9 702.7h0M285.2 881.7h0M285.3 713.7h0M285.3 861.5h0M285.3 700.9h0M285.5 704h0M285.6 868.1h0M286 700.9h0M286.1 886.5h0M286.2 706.9h0M286.5 872h0M286.5 893.3h0M286.6 714.3h0M286.7 677.4h0M287 714.6h0M287.5 704.5h0M287.7 700.1h0M287.9 687.6h0M287.9 888.3h0M288 720.9h0M288 693h0M288.5 860.9h0M288.8 889h0M289 691.2h0M289.1 886.7h0M289.2 693h0M289.4 714.2h0M289.7 876.3h0M290 868.7h0M290.1 887.8h0M290.3 860.9h0M290.5 874.3h0M290.5 712.9h0M290.8 710.4h0M291.1 881.7h0M291.3 876.9h0M291.4 709.5h0M291.4 898.2h0M291.6 903.9h0M291.6 885.4h0M291.6 869.1h0M291.7 708.7h0M291.8 721.7h0M291.8 897.8h0M291.9 695h0M292.2 899h0M292.2 689.4h0M292.3 684.8h0M292.4 908.7h0M292.5 692.7h0M292.8 672.4h0M292.8 679.8h0M292.9 864.2h0M293 686.8h0M293 706.8h0M293.5 889.2h0M293.5 864.9h0M293.5 707.5h0M293.6 708.9h0M293.6 883.1h0M293.8 873.2h0M293.9 700.1h0M294 685.2h0M294 699.6h0M294.3 680.8h0M294.8 678.1h0M294.8 874.5h0M294.9 881.3h0M294.9 885.4h0M295 714.6h0M295 678.4h0M295 891.2h0M295.1 691.3h0M295.1 696.6h0M295.1 673.3h0M295.5 714.9h0M295.6 874.4h0M295.8 696.2h0M295.9 707.9h0M295.9 690.1h0M296 721.2h0M296 704.1h0M296.1 888.6h0M296.3 895.1h0M296.5 870.4h0M296.5 715h0M296.8 880.5h0M296.9 715.2h0M296.9 885.2h0M297.1 703.6h0M297.3 703.9h0M297.3 705.7h0M297.5 868.5h0M297.6 867.8h0M297.6 720.9h0M297.8 902.5h0M298.1 711.7h0M298.2 869.9h0M298.2 920.2h0M298.4 873.1h0M298.5 695.6h0M298.5 717.7h0M298.6 861.4h0M298.6 700.9h0M299.1 886.4h0M299.8 856.3h0M300 682.9h0M300.1 887.1h0M300.2 693.3h0M300.4 866.9h0M300.6 863.5h0M300.7 680h0M300.8 867.7h0M300.8 675.3h0M301.1 701.1h0M301.3 685.5h0M301.3 695.5h0M301.4 870h0M301.7 704.7h0M301.7 861.6h0M301.8 884.1h0M301.9 697.7h0M301.9 885.2h0M302.4 700.4h0M302.8 864.2h0M302.9 855.5h0M303 879.6h0M303.2 871.3h0M303.5 673.4h0M303.9 860.4h0M304 877.4h0M304.5 868.5h0M304.6 706.2h0M304.7 893.3h0M304.8 875.9h0M304.9 880.1h0M305 862.7h0M305 856.8h0M305.5 688.7h0M305.5 696.9h0M305.6 693.8h0M305.6 698.8h0M306 894.3h0M306.1 886.9h0M306.1 700.7h0M306.5 884h0M306.6 890.4h0M306.6 890.2h0M306.6 677.4h0M306.7 897h0M306.7 883.2h0M306.8 705.4h0M307.1 864h0M307.8 698.1h0M307.9 879.5h0M307.9 856.9h0M307.9 877.5h0M308.4 689.3h0M308.5 882.9h0M308.5 867.4h0M308.6 878.8h0M308.7 698h0M309.8 688.5h0M310.4 678.1h0M310.5 682.7h0M310.6 671.6h0M310.7 693h0M310.7 683.2h0M310.9 674h0M311 670.9h0M311 859.2h0M311.1 661.4h0M311.4 685h0M311.4 863.1h0M311.9 639.8h0M312 682.3h0M312 867.3h0M312.1 872.1h0M312.2 699.7h0M312.2 878.9h0M312.4 701.6h0M312.7 869.8h0M312.8 676.6h0M312.9 702.8h0M312.9 866.2h0M313 677.7h0M313.1 704.2h0M313.2 697.8h0M313.3 696h0M313.4 875.4h0M313.8 685.9h0M314.5 677h0M314.6 688.3h0M314.7 696h0M314.7 708.1h0M315 684.2h0M315.1 870.3h0M315.4 871.9h0M315.8 875.6h0M315.9 862.5h0M316 694.6h0M316.8 710.6h0M317.1 865.3h0M317.2 699.9h0M317.3 694.8h0M317.6 689h0M317.7 870.5h0M318.3 710.1h0M318.3 865.1h0M318.4 869.1h0M318.4 884.3h0M318.5 891.8h0M318.6 888.8h0M318.6 677.6h0M318.8 691.7h0M319.1 871.5h0M319.2 858.8h0M319.3 855h0M319.6 682.6h0M320 678.4h0M320.1 710h0M320.2 694.1h0M320.2 682.4h0M320.3 891.3h0M320.4 867.9h0M320.5 873.6h0M320.6 695.6h0M320.7 875h0M320.8 685h0M321.1 698.5h0M321.1 695.8h0M321.3 709.8h0M321.5 702.4h0M321.6 875.6h0M321.8 860.7h0M321.9 702.9h0M322 858h0M322.3 686.7h0M322.3 696.7h0M322.5 916.1h0M322.7 678.8h0M322.8 704.5h0M322.8 858.6h0M322.9 877.7h0M323 852.7h0M323.2 685.4h0M323.4 701.3h0M323.4 681.5h0M323.6 693.7h0M323.6 705.6h0M323.8 700.5h0M323.9 686.4h0M324 709.1h0M324.1 860.7h0M324.1 866.6h0M324.2 873.3h0M324.2 863.1h0M324.2 849.3h0M324.4 689h0M325.2 692h0M325.2 674.9h0M325.3 673.2h0M325.4 848.3h0M325.5 861.5h0M325.6 846.7h0M326 648.2h0M326.1 653.3h0M326.9 849.9h0M327.3 843h0M327.4 863.6h0M327.8 675.4h0M327.8 868.9h0M328.1 680.1h0M328.1 686.4h0M328.1 861.3h0M328.2 865.1h0M328.4 673.8h0M328.4 895.4h0M328.6 670.6h0M328.8 660.9h0M328.8 656.6h0M328.9 666.7h0M329.1 681.9h0M329.3 679.4h0M329.7 862.6h0M329.8 856.5h0M330.3 855.8h0M330.4 683.9h0M330.4 679.8h0M330.8 674.6h0M330.8 851h0M330.9 867h0M330.9 857.8h0M331.1 842.7h0M331.2 689.4h0M331.3 859.2h0M331.4 649.4h0M331.5 870h0M331.6 863.9h0M331.8 693.8h0M331.9 845.9h0M332 685.8h0M332.5 847.8h0M332.6 688.9h0M332.7 886.5h0M333 873.5h0M333.4 920.6h0M333.4 914.5h0M333.5 697.1h0M334 697.8h0M334.5 872.7h0M335 702.3h0M335.3 900.8h0M335.5 868.3h0M335.8 697.6h0M335.9 871.6h0M336.2 679.9h0M336.2 672.9h0M336.5 880h0M336.9 893.6h0M337.1 680h0M337.2 884.1h0M337.4 856.3h0M337.6 678.3h0M337.6 874.5h0M337.6 865.3h0M337.7 867.1h0M337.7 682.5h0M337.7 675.4h0M337.9 876.1h0M337.9 861.6h0M338.1 862.4h0M338.2 703.9h0M338.8 866.2h0M338.9 655.2h0M338.9 697.9h0M339.3 667.9h0M339.3 704.3h0M339.4 695.8h0M339.6 684.9h0M340.1 688.6h0M340.5 865.6h0M340.9 678.8h0M340.9 888.8h0M341 701.8h0M341 687h0M341.3 879.5h0M341.5 885h0M341.6 865.3h0M341.8 856.3h0M341.9 689.2h0M342.2 863h0M342.2 682.2h0M342.3 860.1h0M342.4 675.5h0M342.6 864.6h0M342.9 669.7h0M343 898.6h0M343 891.7h0M343.1 694.2h0M343.3 660.8h0M343.8 694.8h0M343.9 678.8h0M344.3 875.7h0M344.5 858.5h0M344.7 685.9h0M344.8 867.9h0M344.9 668.1h0M345.1 673.1h0M345.4 689.9h0M345.4 681.3h0M345.7 683.3h0M345.7 698.2h0M345.8 687.1h0M346 872.3h0M346.2 671h0M346.3 879.3h0M346.3 863.8h0M346.3 886h0M346.3 675.8h0M346.4 875.9h0M346.5 884.8h0M346.6 888.8h0M346.7 699.7h0M346.9 685.5h0M347.1 860.5h0M347.2 693.3h0M347.3 691.8h0M347.3 650.9h0M347.6 693.7h0M347.7 890.6h0M347.9 676.8h0M348.1 881h0M348.6 901.9h0M348.6 858.2h0M348.7 693.4h0M349 855.7h0M349.2 859.9h0M349.3 880.3h0M349.7 854.6h0M349.8 851.6h0M350.2 864.9h0M350.4 891.1h0M350.4 682.3h0M350.4 897.4h0M350.5 693.5h0M350.6 689.4h0M350.6 864.8h0M350.7 692.3h0M351.1 904.4h0M351.1 688h0M351.6 884.3h0M351.7 698.4h0M351.9 857h0M352.1 871.4h0M352.1 875.6h0M352.4 881.9h0M352.5 681.7h0M352.5 885.6h0M352.5 687.5h0M352.6 694.7h0M353.1 694.5h0M353.2 859.8h0M353.6 686.9h0M353.6 863.9h0M353.6 681.2h0M354.1 870.9h0M354.2 850.6h0M354.3 659.6h0M354.5 678.6h0M354.5 687.3h0M354.6 685.7h0M354.7 689h0M355.4 685.2h0M355.4 858.9h0M355.5 695h0M355.6 882.7h0M355.7 883.9h0M355.8 871.5h0M355.9 878h0M355.9 889.8h0M355.9 897.6h0M356 853.1h0M356.3 694.7h0M356.4 862.8h0M356.4 686.8h0M356.5 681.5h0M356.6 882.9h0M356.7 867.4h0M356.7 872.3h0M356.8 679.6h0M356.9 682.5h0M357 853.9h0M357.1 866.1h0M357.7 871.5h0M357.7 690.9h0M357.8 869.4h0M357.9 838h0M357.9 681.3h0M358 674h0M358 856.5h0M358.1 846.7h0M358.3 855h0M358.4 857.7h0M358.4 860.7h0M358.9 867.5h0M359.2 865.4h0M359.2 888h0M359.2 894.6h0M359.3 840.2h0M359.5 840.4h0M359.6 875.6h0M359.7 835h0M359.7 683.5h0M360 843.9h0M360.4 850.3h0M360.5 856.8h0M360.8 854.4h0M360.8 864h0M360.9 671h0M361 673.6h0M361.1 833.4h0M361.2 850.4h0M361.5 675.2h0M361.5 835h0M361.7 831.8h0M362.1 849.6h0M362.3 863.9h0M362.3 684h0M362.6 843.6h0M362.9 865.1h0M363 841.4h0M363.2 695.1h0M363.3 686.8h0M363.3 648h0M363.4 824.4h0M363.4 856.5h0M363.9 698.3h0M364.1 688.9h0M364.5 855h0M364.5 857.4h0M364.5 848.3h0M364.7 685.9h0M364.9 826.4h0M365.1 685h0M365.2 839.8h0M365.2 845.3h0M365.5 676h0M365.5 835.9h0M365.6 824.2h0M365.8 692.8h0M366.1 831.6h0M366.1 699.4h0M366.2 840.6h0M366.2 679.4h0M366.5 860.7h0M366.5 675.1h0M366.7 877.7h0M366.9 699.5h0M367.2 829.8h0M367.3 830.2h0M367.4 856.8h0M367.5 836.6h0M367.6 841.7h0M367.6 829.1h0M367.7 677.7h0M367.9 829.3h0M367.9 834.4h0M368 686.7h0M368.1 688.4h0M368.2 830.5h0M368.2 823.2h0M368.3 691.6h0M368.3 829.5h0M368.5 665.7h0M368.5 684.6h0M368.6 841.9h0M368.6 693.4h0M368.7 658.9h0M368.7 657.2h0M368.9 660.4h0M368.9 864.5h0M369.2 828.8h0M369.4 851h0M369.4 687.3h0M369.5 860.7h0M369.6 679.6h0M369.6 846.5h0M369.7 664.1h0M369.7 691.7h0M369.7 658.7h0M369.8 678h0M369.9 694.6h0M370.2 698.4h0M370.3 865.9h0M370.3 838.9h0M370.4 840.5h0M370.5 693.7h0M370.6 831.4h0M370.6 689.2h0M370.7 840.9h0M370.7 821.8h0M370.8 858h0M370.9 842.6h0M371 683.4h0M371 911.5h0M371.1 915.9h0M371.3 667.6h0M371.3 661.5h0M371.6 906h0M371.7 698.1h0M371.8 857.7h0M371.8 856.1h0M371.9 872.2h0M372 670.5h0M372.2 851.5h0M372.2 832.4h0M372.3 849.7h0M372.4 687.4h0M372.4 691.9h0M372.7 669h0M372.7 849.9h0M372.8 671.4h0M372.8 826.4h0M373 837.4h0M373.1 872.9h0M373.2 830.4h0M373.2 681.5h0M373.2 874.4h0M373.4 827.3h0M373.7 652.7h0M373.8 862.8h0M373.9 678.5h0M374.1 830.8h0M374.1 846.9h0M374.2 843.7h0M374.5 825.6h0M374.6 843.5h0M374.6 835.1h0M375 857.3h0M375.1 849.3h0M375.1 835h0M375.6 661.5h0M375.8 668.2h0M376 670.9h0M376.2 683.1h0M376.3 675.7h0M376.4 894.4h0M376.4 889.7h0M376.4 860.2h0M376.6 851.6h0M377 672h0M377.1 639.7h0M377.5 840.2h0M377.7 661.1h0M377.9 841.3h0M378.3 675.2h0M378.7 857.1h0M378.7 668.5h0M379.2 651.4h0M379.7 858.3h0M379.8 667.6h0M379.8 847.7h0M379.8 851.5h0M379.9 845.2h0M380 834.5h0M380 681h0M380 843.3h0M380.1 864.7h0M380.2 679.2h0M380.4 836.3h0M380.7 664.3h0M381 657.8h0M381.1 663.3h0M381.3 651.9h0M381.4 838.6h0M381.4 658.4h0M381.8 668.6h0M381.9 845.9h0M382.1 673.8h0M382.6 670.2h0M382.8 660.8h0M384.1 675.9h0M384.2 637.4h0M384.3 641.5h0M384.4 662.9h0M384.6 667.7h0M384.7 842.4h0M384.9 677.3h0M385 642.4h0M385.1 649.4h0M385.2 656.5h0M385.5 660.8h0M387.1 850.6h0M387.1 678.5h0M387.2 838.7h0M387.3 844.3h0M387.7 669.8h0M388.1 672.1h0M388.3 668h0M388.5 626.6h0M388.5 853.4h0M388.6 843.4h0M388.7 621.3h0M388.7 847.3h0M388.8 631.1h0M388.8 668.7h0M388.9 840.6h0M389 647.9h0M389 640.9h0M389.2 834.7h0M389.4 866.6h0M390 670.9h0M390 662.1h0M390.2 858.1h0M390.3 656.7h0M390.5 876.1h0M390.6 879.7h0M390.8 665h0M391 840.1h0M391 688.9h0M391.1 677.5h0M391.2 656.8h0M391.4 648.3h0M391.4 652.5h0M391.4 685h0M391.5 704.1h0M391.7 682.6h0M391.7 676.7h0M391.7 683.8h0M391.9 862.3h0M392.2 676.1h0M392.3 861.1h0M392.3 862.1h0M392.3 851.9h0M392.4 667.2h0M392.4 679.4h0M392.5 857.9h0M392.6 839.4h0M392.7 692.5h0M393.1 833.8h0M393.6 695.2h0M393.6 706.7h0M393.7 871.4h0M393.8 835h0M393.9 679.2h0M394.1 698.4h0M394.1 679.3h0M394.3 855.2h0M394.4 845.2h0M394.5 862.2h0M394.7 850h0M394.7 851.3h0M394.8 840.5h0M395.1 676.3h0M395.1 689.8h0M395.4 857h0M395.5 707.4h0M395.6 838.7h0M395.6 701.6h0M395.7 891h0M395.8 894.8h0M395.9 866.5h0M395.9 695.7h0M395.9 884.1h0M396 694.3h0M396.1 859.8h0M396.4 684h0M396.4 692.7h0M396.5 699.9h0M396.6 657.8h0M396.6 848h0M396.7 841.4h0M396.8 686.9h0M396.9 869.7h0M397.5 868.6h0M397.6 842.2h0M397.7 850.1h0M397.8 703.2h0M397.8 838.5h0M397.8 685.6h0M398 832.3h0M398.3 695.8h0M398.7 921.7h0M398.7 678.2h0M398.7 847.3h0M398.8 895.3h0M398.9 706.6h0M398.9 857.3h0M399.1 862.5h0M399.3 837.4h0M399.4 833h0M399.5 846.5h0M399.6 837.8h0M399.7 861.9h0M399.8 686.2h0M400 838h0M400 883.4h0M400.3 840.3h0M400.6 687.5h0M400.6 695.8h0M400.7 688.2h0M400.8 843.6h0M400.9 865.8h0M400.9 866.7h0M401 674.3h0M401.2 851.6h0M401.3 690.5h0M401.3 849.3h0M401.5 862.6h0M401.6 862.1h0M401.6 687.4h0M402.3 885.2h0M402.3 679.2h0M402.5 695.3h0M402.6 654.6h0M402.8 840.5h0M402.8 853.2h0M403.2 846.8h0M403.3 683.3h0M403.3 862.4h0M403.3 684.3h0M403.7 852.1h0M404 682.6h0M404.2 855.1h0M404.8 870.6h0M404.9 641.4h0M405 646h0M405.1 637.4h0M405.3 677.4h0M405.4 676.4h0M405.6 861.3h0M405.6 849.1h0M406.1 684.6h0M406.3 841.4h0M406.8 846.5h0M406.8 875.1h0M406.9 870.7h0M407.3 845.4h0M407.8 867.3h0M407.9 872.9h0M407.9 861.5h0M408.1 679.4h0M408.4 852.9h0M408.5 672h0M408.7 858.6h0M408.9 863.2h0M408.9 845.3h0M408.9 810.7h0M409.1 865.5h0M409.4 685.6h0M409.5 845.7h0M410.1 672.1h0M410.1 662.6h0M410.2 829.5h0M410.2 815h0M410.3 823.3h0M410.3 673.1h0M410.3 808.5h0M410.5 659h0M410.8 675.5h0M410.9 670.2h0M411 652.2h0M411.1 813.4h0M411.1 818.7h0M411.1 679.4h0M411.1 832h0M411.4 866.6h0M411.4 861.9h0M411.4 872.3h0M411.5 844h0M411.5 854.3h0M411.5 826.8h0M411.5 638.9h0M411.6 677.4h0M411.6 842.4h0M411.6 833.8h0M411.6 846.7h0M411.6 848.4h0M411.6 856.8h0M411.7 676.1h0M411.8 853.5h0M411.9 838.8h0M411.9 820.6h0M412.1 813.8h0M412.1 844.8h0M412.3 681h0M412.3 851.9h0M412.3 821.6h0M412.3 827.3h0M412.5 825.4h0M412.7 836.4h0M412.8 658.8h0M412.8 681.8h0M412.9 828.9h0M412.9 673.1h0M413 663.4h0M413 820h0M413.3 651.6h0M413.3 816.6h0M413.3 868.2h0M413.5 672.9h0M414 818.8h0M414.3 819.3h0M414.3 842.3h0M414.4 848.7h0M414.6 807.5h0M414.9 812h0M415.3 664.5h0M415.3 654.4h0M415.4 649.2h0M415.5 637.1h0M415.5 831.2h0M415.6 813.8h0M415.8 809.5h0M415.9 665.7h0M415.9 655.8h0M416 822.2h0M416.1 662.3h0M416.6 846.5h0M416.8 837.6h0M417 836h0M417 834h0M417.1 674.6h0M417.2 668.3h0M417.3 838.9h0M417.4 826.6h0M417.7 844.6h0M418.1 854.1h0M418.6 856.2h0M419.3 841.1h0M419.3 673h0M419.4 664.5h0M419.5 821.2h0M419.8 659.1h0M419.8 818.4h0M420.2 839.1h0M420.5 830.7h0M420.6 862h0M420.8 826.3h0M420.8 845.6h0M420.8 822.7h0M420.9 828h0M421.2 862.5h0M421.7 837.3h0M422.2 828.3h0M422.4 647.3h0M422.5 652.5h0M422.5 672.9h0M423.2 816.1h0M423.3 661.7h0M423.4 815.5h0M423.4 664.1h0M423.5 648.9h0M423.6 664.5h0M423.7 660.7h0M424.1 661.2h0M424.1 640.2h0M424.6 653.6h0M424.6 670.7h0M424.7 634.7h0M424.9 832.7h0M425 831.5h0M425.1 643.2h0M425.2 667.3h0M425.4 816h0M425.5 666.3h0M425.6 636.6h0M425.7 667.6h0M425.8 655.4h0M425.9 654.7h0M426 810.2h0M426 664.2h0M426.1 669.1h0M426.1 843.9h0M426.1 849.7h0M426.4 667.6h0M426.5 800.4h0M426.5 801.2h0M426.9 814.3h0M427.1 652.3h0M427.2 805.9h0M427.3 645.3h0M427.3 805.2h0M427.3 803h0M427.4 651.1h0M427.5 814.3h0M427.5 657.2h0M427.5 645.9h0M427.5 823.2h0M427.7 822.7h0M427.8 826.2h0M427.8 821.3h0M428.2 829.8h0M428.2 834.9h0M428.4 814h0M428.5 818.4h0M428.5 824.7h0M428.5 798h0M428.6 839.4h0M429.1 648.9h0M429.2 816.3h0M429.2 854.7h0M429.3 813.5h0M429.3 818.7h0M429.4 804.4h0M429.5 643.4h0M429.5 654h0M429.7 842.4h0M429.7 663.2h0M429.7 846h0M429.7 808.2h0M429.7 809.1h0M429.8 851.1h0M430 811.5h0M430.1 844.4h0M430.1 833.4h0M430.2 651.5h0M430.2 839h0M430.2 818.6h0M430.5 855.3h0M430.6 849.9h0M430.7 811.3h0M430.7 829.5h0M430.8 824.9h0M431.1 798.5h0M431.1 809.1h0M431.3 655.6h0M431.4 639.4h0M431.4 831.8h0M431.4 659.3h0M431.5 850.2h0M431.5 809.1h0M431.5 818.2h0M431.6 846.2h0M431.6 657.3h0M431.8 664.1h0M431.8 822.2h0M432.1 805h0M432.2 829.3h0M432.4 818.4h0M432.5 816.2h0M432.5 835.5h0M432.6 810h0M432.7 654.3h0M432.7 848.1h0M432.7 662.9h0M432.7 862.9h0M432.7 804.8h0M432.7 804.5h0M432.8 817.5h0M432.8 819.3h0M432.8 855.5h0M432.9 837.3h0M433 824.1h0M433.2 801.7h0M433.4 657.3h0M433.5 810.8h0M433.5 812h0M433.6 833.8h0M433.7 883.9h0M433.8 817.9h0M433.9 828.4h0M434.3 801h0M434.8 641.3h0M434.8 648.7h0M434.9 831.7h0M435.3 816.3h0M435.3 841.2h0M435.5 823.7h0M435.6 658.6h0M435.6 657.6h0M435.7 667.3h0M435.8 832.9h0M435.8 827.8h0M436.3 816.7h0M436.4 868.8h0M436.5 821.2h0M436.5 817.4h0M436.9 817h0M437.1 659.8h0M437.4 854h0M437.5 829h0M437.5 831.9h0M437.6 847.3h0M437.7 799.7h0M437.7 647.9h0M438.2 646.5h0M438.3 659.1h0M438.5 664.9h0M438.6 823.5h0M438.6 866.7h0M439.1 662h0M439.1 806.7h0M439.2 803.1h0M439.5 656.7h0M439.5 642.6h0M439.6 654.9h0M440.2 837h0M440.7 650h0M440.9 632.9h0M441.1 629.1h0M441.1 634.9h0M441.2 636.7h0M441.2 623.4h0M441.4 812.3h0M441.6 820h0M441.9 644.3h0M441.9 646.3h0M442 645.5h0M442.3 798.5h0M442.8 835.7h0M443 651.2h0M443 650.1h0M443.1 646.4h0M443.1 821.1h0M443.4 628h0M443.4 653.2h0M443.5 804.7h0M443.5 624h0M443.6 626h0M443.7 635.5h0M443.8 801.4h0M444.1 645.3h0M444.1 627h0M444.2 654.7h0M444.7 656.3h0M446 819.4h0M446.1 656.5h0M446.2 645.5h0M446.2 644.5h0M446.3 797.8h0M446.3 636.1h0M446.7 814.9h0M446.8 608.3h0M446.9 657.2h0M447.1 617.8h0M447.1 833.7h0M447.1 623.7h0M447.4 804.7h0M447.5 834.2h0M447.6 851.3h0M447.7 829.2h0M447.7 825.8h0M447.7 806.5h0M447.8 798.4h0M447.9 646.7h0M447.9 635.8h0M448 642.3h0M448.8 830.9h0M449 820.3h0M449 840.1h0M449.3 655.8h0M449.4 825.1h0M449.5 825.4h0M449.7 798.6h0M449.7 809.7h0M450 812.5h0M450.2 806.6h0M450.2 814.6h0M450.3 825.7h0M450.5 813.6h0M450.8 655.4h0M451 787h0M451.1 833h0M451.3 791.2h0M451.5 865.2h0M451.6 823.6h0M451.7 654.1h0M451.9 799.3h0M451.9 640.9h0M451.9 630.8h0M452.1 796.1h0M452.2 806.4h0M452.2 634.7h0M452.3 814.1h0M452.4 614.6h0M452.4 644.6h0M452.4 642.2h0M452.6 793.5h0M452.6 645.1h0M452.7 650.3h0M452.9 800h0M452.9 646h0M453 636.4h0M453.1 816h0M453.1 798.9h0M453.3 834.2h0M453.4 830h0M453.4 797.8h0M453.4 824.6h0M453.6 805.3h0M453.6 808.5h0M453.6 811.6h0M453.9 826.7h0M454.1 802.1h0M454.1 786.7h0M454.5 798.3h0M454.5 820.7h0M454.6 793.6h0M455 786.4h0M455.1 647.3h0M455.1 803.7h0M455.6 801.3h0M455.7 813.8h0M455.8 807.6h0M455.9 642.2h0M456.1 792.4h0M456.1 797.2h0M456.4 803.5h0M456.5 805.2h0M456.7 794.2h0M456.7 653.7h0M457 651.4h0M457.1 825.1h0M457.3 651.5h0M457.4 790.1h0M457.6 819.6h0M457.6 789.7h0M457.7 824.2h0M457.7 831.5h0M457.7 658.2h0M457.8 650h0M458.1 642.1h0M458.3 821.2h0M458.8 835.3h0M458.9 803.3h0M459 619.7h0M459 627h0M459.2 627.3h0M459.2 632.7h0M459.2 658h0M459.3 605.8h0M459.3 625.4h0M459.4 820.3h0M459.5 637.2h0M459.5 634.3h0M459.5 630h0M459.6 638.1h0M459.6 633.6h0M459.7 638.7h0M459.7 631.2h0M459.8 629.4h0M459.8 635.3h0M459.9 651.5h0M460 642.9h0M460.1 814h0M460.2 808.7h0M460.3 658.1h0M460.3 630.2h0M460.5 630.9h0M460.7 637h0M460.8 801.5h0M460.9 812.3h0M461.2 635.4h0M461.2 812.1h0M461.7 640.2h0M461.9 820.4h0M462 626.7h0M462 651.7h0M462 632.5h0M462.7 642.5h0M462.7 643.5h0M463.2 819.2h0M463.7 653.5h0M463.8 821.3h0M463.8 835h0M463.9 831.9h0M464 653.3h0M464.3 646h0M464.3 644.1h0M464.4 803.7h0M464.5 638.4h0M464.7 833.9h0M464.8 818.1h0M464.8 811.8h0M464.9 823.2h0M464.9 838.4h0M465 807.3h0M465 893.1h0M465.2 814.1h0M465.7 811h0M465.8 827.8h0M466 846h0M466.1 826.6h0M466.2 657.4h0M466.3 660.1h0M466.4 652.8h0M466.4 831.8h0M466.5 856.2h0M466.6 851.1h0M466.6 845.9h0M466.7 854.2h0M466.9 849.8h0M466.9 848.9h0M466.9 824h0M467 656.1h0M467.5 682h0M467.5 872.1h0M467.7 867.8h0M467.8 864.1h0M467.9 873h0M468.1 848.3h0M468.1 855.5h0M468.2 663.9h0M468.2 827.3h0M468.3 877.3h0M468.3 871h0M468.4 830.1h0M468.7 843.9h0M468.7 675.2h0M468.8 824.2h0M468.9 846.9h0M468.9 839.8h0M469.3 679.5h0M469.5 670.1h0M469.6 655.7h0M469.6 815.1h0M469.8 846.1h0M469.9 834.3h0M470 815.5h0M470.1 847.7h0M470.3 672.6h0M470.4 842.1h0M470.5 808.3h0M471 835.1h0M471 855.9h0M471.1 684.3h0M471.1 666.9h0M471.3 672.7h0M471.5 820.2h0M471.6 659.5h0M471.7 875.1h0M471.7 818.9h0M471.8 833.3h0M472 812.3h0M472 676.9h0M472.1 880.1h0M472.1 806.8h0M472.2 875.5h0M472.2 869.6h0M472.2 846.1h0M472.3 811.7h0M472.3 833.2h0M472.4 660.5h0M472.7 830.1h0M472.7 863.4h0M472.9 816.1h0M473.3 821.2h0M473.4 843.1h0M473.4 675.4h0M473.6 821.4h0M473.6 669.6h0M473.7 671.6h0M473.8 806.1h0M473.9 818.2h0M474 846.1h0M474.1 835.9h0M474.1 684.2h0M474.2 841.4h0M474.3 827.4h0M474.3 815.3h0M474.4 828.7h0M474.4 819.3h0M474.5 820.5h0M474.6 859.5h0M474.8 670.2h0M474.9 841.4h0M474.9 838.4h0M475 825.4h0M475.5 835.4h0M475.6 682h0M475.7 816h0M475.8 806.5h0M475.9 810.8h0M476 675.8h0M476.2 812.3h0M476.4 678.6h0M476.6 659.5h0M476.8 863h0M476.9 673.9h0M477 868.3h0M477 822.6h0M477.1 858.2h0M477.4 844.4h0M477.4 822.5h0M477.5 665.9h0M477.6 814.8h0M477.8 867.1h0M477.8 843.1h0M478 808.4h0M478 667.7h0M478.1 834.8h0M478.1 836.1h0M478.2 826.9h0M478.3 827.5h0M478.5 817h0M478.5 661.7h0M479 837.8h0M479.1 642.1h0M479.3 869.8h0M479.4 834.1h0M479.5 669.4h0M479.8 661.4h0M480 654.5h0M480 846.4h0M480.1 650.4h0M480.2 852.3h0M480.2 837.6h0M480.3 842.5h0M480.4 839.4h0M480.8 829.3h0M481.4 861.8h0M481.7 845.7h0M481.7 635.5h0M481.8 673.1h0M482 850.7h0M482.2 835.1h0M482.7 859h0M482.8 657.1h0M482.9 866.3h0M482.9 650.4h0M483 849h0M483.2 666.4h0M483.3 839h0M483.3 659.2h0M483.8 842.6h0M483.9 854.9h0M484 834.9h0M484.1 861.7h0M484.2 665.9h0M484.2 849.7h0M484.3 855.1h0M484.4 843.6h0M484.5 672.1h0M484.8 850.2h0M486 673.2h0M487 874.9h0M487.2 843.8h0M487.5 674.8h0M488 844.5h0M488.1 847.3h0M488.1 669.8h0M488.2 849h0M488.4 832.6h0M488.4 846.7h0M488.5 852.7h0M489.4 841.9h0M489.8 830.1h0M490.3 846.4h0M490.3 859.1h0M490.4 833.1h0M490.4 851.3h0M490.5 852.4h0M490.6 823.2h0M490.8 658.6h0M490.8 827.9h0M490.9 665.2h0M490.9 651.1h0M490.9 667.2h0M491.1 820.3h0M491.2 832.8h0M492 676.2h0M492.1 854.1h0M492.4 829.3h0M492.5 672.4h0M492.7 650.8h0M492.7 661.7h0M493 835.3h0M493.5 831.9h0M493.5 844.3h0M493.6 833.4h0M493.7 810.8h0M493.7 660.7h0M493.7 817.3h0M493.8 871.4h0M494.1 847.4h0M494.2 668.3h0M494.3 851.2h0M494.6 816h0M494.8 827.7h0M494.8 829.5h0M494.9 659.8h0M494.9 844.5h0M495.2 845.2h0M495.5 825.7h0M495.6 815.2h0M495.6 634.9h0M495.9 654.4h0M496.5 629.6h0M496.5 651.6h0M496.6 809h0M496.7 657.3h0M496.8 667.4h0M496.8 855.3h0M496.8 850.9h0M496.9 852.1h0M497 856.2h0M497.2 652.1h0M497.3 658.9h0M497.4 648.3h0M497.5 834.5h0M497.5 654.9h0M497.7 817.3h0M497.8 858.9h0M498.2 820.4h0M498.2 875.3h0M498.3 815.2h0M498.6 828.9h0M498.7 808.8h0M498.9 668.8h0M499.1 836.6h0M499.2 826.6h0M499.2 865.3h0M499.5 685.7h0M499.6 819.3h0M499.6 682.1h0M499.8 676.7h0M499.8 878h0M500 811.6h0M500.2 845.5h0M500.3 846h0M500.4 833.6h0M500.5 824.1h0M500.8 836.9h0M500.9 837.3h0M500.9 645.7h0M500.9 669.2h0M500.9 670.2h0M501.1 657.8h0M501.1 832.1h0M501.1 663.4h0M501.3 687.5h0M501.6 833h0M501.7 822.5h0M501.8 680.4h0M501.9 679.8h0M502 861.7h0M502 673.4h0M502 647.4h0M502.1 829.7h0M502.2 675h0M502.2 681.4h0M502.3 826.5h0M502.4 819.8h0M502.6 848.6h0M502.7 677.6h0M502.8 831.9h0M503 651h0M503.1 825h0M503.2 830.4h0M503.2 671.5h0M503.3 815.5h0M503.4 815.9h0M503.4 835h0M504 812h0M504.3 688.6h0M504.5 672.6h0M504.7 830.2h0M504.8 855.6h0M504.8 673.5h0M504.9 859.2h0M504.9 682.4h0M504.9 682.2h0M505 851.3h0M505 799.4h0M505.1 675.6h0M505.2 683.1h0M505.2 677.4h0M505.3 653.5h0M505.4 657.1h0M505.4 648.7h0M505.7 844.4h0M505.7 841.1h0M505.7 783.6h0M505.8 654.3h0M506 786.1h0M506 791.8h0M506.1 671.7h0M506.1 772.6h0M506.1 835.6h0M506.2 685.6h0M506.3 797.6h0M506.4 779.5h0M506.5 668.6h0M506.6 774.5h0M506.6 811.9h0M506.7 777.8h0M506.7 768.9h0M506.7 645h0M506.9 820.1h0M506.9 640.2h0M507.1 777h0M507.1 810.3h0M507.3 805.4h0M507.3 661.4h0M507.3 823.3h0M507.3 657.7h0M507.6 822.4h0M507.7 649.6h0M507.8 822h0M507.9 802.1h0M507.9 791.9h0M507.9 649.8h0M508 665.8h0M508.1 641.7h0M508.2 796.2h0M508.2 786.2h0M508.3 785.7h0M508.3 639.1h0M508.4 825.8h0M508.5 632.6h0M508.5 769.1h0M508.5 818.9h0M508.7 789.3h0M509 779.7h0M509 634.2h0M509 646.9h0M509.1 662.5h0M509.1 810.7h0M509.2 786.1h0M509.2 790.3h0M509.2 803.5h0M509.3 806.3h0M509.4 798.8h0M509.5 642.3h0M509.5 807.2h0M510 808.2h0M510 643.6h0M510 655.8h0M510.1 791h0M510.1 816.9h0M510.2 654.2h0M510.2 769.1h0M510.3 791.8h0M510.4 655.4h0M510.4 794.3h0M510.5 630.3h0M510.5 810.7h0M510.7 778.5h0M510.8 810.9h0M510.8 829.7h0M510.8 834.4h0M510.9 804.9h0M510.9 649h0M510.9 838.4h0M511 640.7h0M511.1 830.3h0M511.1 770.7h0M511.1 810.2h0M511.1 784.2h0M511.2 775.3h0M511.3 826.8h0M511.3 802.8h0M511.3 812.6h0M511.3 779.6h0M511.5 798.4h0M511.5 775.1h0M511.6 656.1h0M511.6 815.5h0M511.7 815.9h0M511.7 820.3h0M511.9 781.5h0M512.1 787.7h0M512.1 773.2h0M512.3 814.1h0M512.6 851.7h0M512.7 846.8h0M512.7 804.2h0M512.8 655.6h0M512.9 645.6h0M513.2 642.3h0M513.3 833.1h0M513.5 830.3h0M513.5 832.6h0M513.6 810.3h0M513.9 812.5h0M514 637.2h0M514.1 811.3h0M514.2 821.5h0M514.3 815.6h0M514.7 830.7h0M514.8 822.2h0M514.8 648.6h0M514.9 825h0M514.9 647.2h0M515 643.5h0M515.2 819.9h0M515.2 815.7h0M515.3 637h0M515.3 814.4h0M515.5 826h0M515.6 634.2h0M515.6 804.7h0M515.7 824.5h0M515.9 811.6h0M515.9 820.9h0M516.4 651.2h0M516.5 653.4h0M516.9 651.6h0M516.9 831.4h0M517.3 654.1h0M517.6 643.4h0M517.6 662.5h0M518 651.7h0M518.1 838.7h0M518.4 827.2h0M518.4 660.8h0M518.6 637.7h0M518.6 813.9h0M518.7 804.8h0M518.7 646.6h0M518.9 839.4h0M519 817.4h0M519.2 808h0M519.2 649.2h0M519.3 656.6h0M519.3 812.7h0M519.4 665.9h0M520.3 649.4h0M520.5 816.9h0M520.5 855.5h0M520.6 850h0M520.7 648h0M520.7 826.8h0M521 877.6h0M521 882.7h0M521.6 819.2h0M521.6 649.2h0M521.9 843h0M522 838.4h0M522.1 885h0M522.2 880.4h0M522.2 638.1h0M522.4 874.9h0M522.5 840.8h0M522.5 869.3h0M522.5 832.8h0M522.7 644.1h0M522.8 637.9h0M522.9 849.3h0M522.9 842.3h0M523.3 853.6h0M523.5 664.1h0M523.5 823.2h0M523.7 658.4h0M523.8 826.4h0M523.9 661.4h0M524 819.4h0M524.1 853.2h0M524.2 814.3h0M524.4 823.2h0M524.6 668h0M525.2 845.9h0M525.3 657h0M526.2 832.3h0M526.2 828.1h0M526.5 822.1h0M526.5 856.9h0M526.6 677.1h0M526.6 833.3h0M526.9 848.1h0M527 853.1h0M527 862.4h0M527.1 857.9h0M527.1 867.7h0M527.2 675.2h0M527.2 819.7h0M527.6 846.3h0M527.6 842.6h0M527.8 669.7h0M527.8 833.8h0M528.1 823.6h0M528.6 853.5h0M528.7 852.5h0M528.8 859.5h0M528.8 831.3h0M528.9 679.9h0M529.4 815.3h0M529.4 827.2h0M529.6 826.3h0M529.9 814.9h0M530 829.5h0M530.1 838.4h0M530.4 670.9h0M530.5 667.7h0M530.5 853.3h0M530.6 862.6h0M530.6 838.6h0M530.7 830.8h0M530.8 858.3h0M531.2 843.3h0M531.4 830.4h0M531.8 830.6h0M531.8 679.1h0M531.9 842h0M532.1 846.3h0M532.1 853.7h0M532.4 671.1h0M532.8 828.6h0M533 666.6h0M533.1 676.1h0M533.2 857.4h0M533.9 671h0M534.1 663.5h0M534.2 647.2h0M534.4 835h0M534.7 670.4h0M534.8 661.3h0M534.8 666.4h0M534.9 654.5h0M535.2 663.8h0M535.5 658.7h0M535.7 647.8h0M535.8 652.5h0M536 653.7h0M536.4 829.8h0M536.7 844.2h0M536.8 672.5h0M536.9 649.7h0M536.9 653.5h0M537 835.6h0M537.6 855.8h0M537.7 860.8h0M537.9 851.6h0M537.9 681.4h0M538.3 677.2h0M538.3 654h0M538.4 837.4h0M538.5 661.6h0M538.6 839.4h0M538.6 871.3h0M538.9 648.3h0M538.9 679.5h0M539.4 654.1h0M539.8 658.4h0M539.9 858.1h0M539.9 663.7h0M540 864.2h0M540.1 852.3h0M540.2 679.3h0M540.3 846.5h0M540.7 685.4h0M541.1 673.2h0M541.4 666.3h0M542 839.6h0M542.1 690.6h0M542.6 838.3h0M542.6 672.9h0M543.1 687.9h0M543.2 679.7h0M543.2 698.2h0M543.2 695h0M543.4 655.1h0M543.5 816h0M543.5 678.2h0M543.6 664.3h0M543.8 659.8h0M543.8 682.7h0M544.1 849.8h0M544.3 828.1h0M544.5 681.2h0M544.7 848.3h0M544.8 844.9h0M544.9 686.8h0M545 693.5h0M545.1 687.9h0M545.2 831.8h0M545.3 692.7h0M545.3 691.3h0M545.3 850.6h0M545.4 683.1h0M545.5 683.3h0M545.7 874.9h0M545.7 830.7h0M545.8 835.1h0M545.9 855.9h0M546 863.2h0M546 686.9h0M546 814.3h0M546.1 825.6h0M546.1 870.6h0M546.2 848.8h0M546.2 843h0M546.3 848.8h0M546.3 676.1h0M546.4 813.5h0M546.5 819.1h0M546.6 893.1h0M546.7 700h0M546.7 830.2h0M546.8 836.9h0M546.8 821.5h0M546.9 692.6h0M547 677.8h0M547 819.3h0M547.1 819.8h0M547.3 686.8h0M547.4 860.2h0M547.4 864.8h0M547.4 677.8h0M547.5 662.6h0M547.7 824.6h0M547.8 692h0M547.8 687.1h0M547.9 680.4h0M548.1 690.1h0M548.2 657.3h0M548.2 686h0M548.3 681.5h0M548.4 841.6h0M548.5 648.4h0M548.6 822.3h0M548.7 654.2h0M548.7 697.8h0M548.7 665h0M548.7 812.8h0M548.9 640.7h0M548.9 694.7h0M548.9 657.6h0M549.1 812.4h0M549.2 636.9h0M549.3 673h0M549.3 649.4h0M549.4 632.9h0M549.4 663.7h0M549.5 673.7h0M549.5 644h0M549.5 655.6h0M549.6 840.6h0M549.6 836.2h0M549.6 820.8h0M549.7 667h0M549.7 829.9h0M549.7 819.7h0M550 838.4h0M550.1 659.7h0M550.1 649.2h0M550.2 672.4h0M550.5 668h0M551.4 647.3h0M551.5 824h0M551.6 830.7h0M551.7 824.4h0M551.7 650.5h0M552.2 636.6h0M552.3 819.9h0M552.3 629.7h0M552.4 826.6h0M552.4 637.7h0M552.4 810.2h0M552.5 639.5h0M552.5 627.3h0M552.6 634.1h0M553.4 838.3h0M553.5 615.6h0M553.9 646.9h0M553.9 629.1h0M554.4 815.1h0M555.2 806.1h0M555.3 821.3h0M555.3 826.1h0M555.4 643.7h0M555.8 642.2h0M555.9 646.5h0M555.9 668.5h0M556 666.4h0M556.1 641.7h0M556.2 661.1h0M556.2 625.6h0M556.5 648.3h0M556.9 658h0M556.9 639.1h0M557 665.1h0M557.1 833h0M557.3 811.4h0M557.3 828.9h0M557.4 802.7h0M557.5 654.1h0M557.6 796.6h0M557.7 823.2h0M557.7 671.3h0M557.8 662.8h0M557.8 827.5h0M557.8 831.4h0M558.1 800.6h0M558.1 803.5h0M558.2 812.4h0M558.3 819.1h0M558.4 650.8h0M558.4 820.6h0M558.4 657.3h0M558.4 797.5h0M558.5 823.3h0M558.5 664.6h0M558.5 794.5h0M558.6 838.7h0M558.8 845.4h0M558.8 824.8h0M558.8 846.6h0M558.9 662.2h0M558.9 809.4h0M559 660h0M559.1 663.2h0M559.1 806.5h0M559.3 655.4h0M559.3 820.2h0M559.6 809.6h0M559.6 886.7h0M559.8 644.3h0M559.9 638.1h0M560 649.9h0M560.3 816h0M560.3 837.2h0M560.5 793.5h0M560.5 800.2h0M560.6 662.9h0M560.6 661.9h0M560.9 658.5h0M560.9 801.8h0M560.9 811h0M561.1 666.1h0M561.2 670.3h0M561.3 660h0M561.3 805.4h0M561.4 808.2h0M561.6 814.1h0M561.7 666.7h0M561.8 800.3h0M561.9 805.6h0M562.2 822.6h0M562.4 654.5h0M562.5 650.5h0M562.5 858.9h0M562.6 800.9h0M562.6 841.1h0M562.7 854.8h0M562.9 794.2h0M562.9 800.7h0M562.9 646.5h0M563 859.3h0M563 648.1h0M563.2 834.4h0M563.3 814.3h0M563.4 805.3h0M563.6 802.5h0M563.8 817.1h0M563.8 652.1h0M563.9 800.4h0M564 810h0M564.6 640.4h0M564.8 627.7h0M564.9 843.7h0M565 633.6h0M565.2 795.5h0M565.2 827.3h0M565.3 802.4h0M565.4 817.8h0M565.5 808.9h0M565.5 820.2h0M566.2 649.5h0M566.5 812.9h0M566.6 654.8h0M566.8 823.8h0M567.2 645.2h0M567.3 811.1h0M567.8 817.3h0M567.9 829.7h0M568.3 846.8h0M569.2 646.1h0M569.4 807.1h0M569.4 638.3h0M569.7 645.2h0M570.1 826.3h0M570.4 649h0M570.6 654.5h0M570.7 839.1h0M570.9 838.4h0M571 831.3h0M571 825.3h0M571.1 640.5h0M571.6 827.1h0M572.3 824.7h0M572.7 805h0M572.7 656.1h0M572.9 635h0M572.9 641.1h0M572.9 835.2h0M573 820.7h0M573 825.2h0M573.1 644.8h0M573.1 812.8h0M573.2 657.7h0M573.4 662.8h0M573.6 665.8h0M573.6 811.1h0M573.7 836.7h0M573.8 833.3h0M573.9 821.5h0M574 819.1h0M574 671.3h0M574.1 667.2h0M574.2 842h0M574.2 805.3h0M574.6 840.8h0M574.6 829.3h0M574.6 660.1h0M574.7 844.8h0M574.8 654.5h0M574.8 815h0M574.8 831.5h0M574.9 818.1h0M575 807.5h0M575.2 853.1h0M575.8 826.7h0M576 862.4h0M576.6 857.9h0M576.6 855.3h0M576.7 847.6h0M577.2 855.5h0M577.3 862.5h0M578.4 862.5h0M578.5 674.6h0M578.6 678.2h0M579 843.5h0M579 656.5h0M579.9 859.3h0M580.2 680.3h0M580.5 683.3h0M580.7 879.6h0M581.4 845.1h0M581.5 878.7h0M581.7 823.2h0M581.8 839.1h0M581.8 665.7h0M581.9 822.5h0M581.9 821.5h0M582 659.2h0M582.1 678.6h0M582.2 688.5h0M582.3 851.4h0M582.5 676h0M582.6 853.8h0M582.6 870.8h0M582.6 671.7h0M582.7 828.1h0M582.9 832.1h0M583 872.2h0M583.1 828.6h0M583.1 826.9h0M583.3 809.2h0M583.4 688.2h0M583.4 646.5h0M583.4 652.7h0M583.5 675.1h0M583.6 681h0M583.6 843.9h0M583.6 833.1h0M583.8 813.5h0M583.8 829.1h0M583.9 816h0M583.9 838.4h0M583.9 818.4h0M583.9 844h0M583.9 811.2h0M584 849.6h0M584.1 812h0M584.2 808.6h0M584.2 835.5h0M584.4 865h0M584.8 843.8h0M584.8 871.2h0M585.1 678.4h0M585.3 661.9h0M585.4 856.2h0M585.6 852.4h0M585.8 814.3h0M585.8 813.5h0M586.2 833.2h0M586.3 685h0M586.3 857.9h0M586.5 824h0M586.5 815.6h0M586.6 817.6h0M586.6 825.5h0M586.7 839.7h0M586.7 831.9h0M586.8 828.9h0M586.9 817.8h0M587 806.6h0M587 818.6h0M587 825.6h0M587.1 823.4h0M587.2 853.3h0M587.2 827.8h0M587.2 663.1h0M587.3 658h0M587.4 822.8h0M587.7 861.1h0M587.8 856.3h0M588 673.7h0M588.1 835.3h0M588.1 821.6h0M588.2 819.2h0M588.3 820.7h0M588.6 834.3h0M589.1 812h0M589.1 837.4h0M589.5 808.4h0M589.6 829.5h0M589.6 668.9h0M589.8 664.7h0M589.9 658.5h0M589.9 671.1h0M590 660.8h0M590.1 647.2h0M590.2 858.5h0M590.2 851.6h0M590.3 819.4h0M590.4 653.2h0M590.5 808h0M590.6 631h0M590.8 836.4h0M590.9 840.3h0M591 629.2h0M591 829.4h0M591.3 654.4h0M591.6 655.3h0M591.7 653h0M592 646.9h0M592.2 819.2h0M592.2 641.9h0M592.3 808.5h0M592.4 635.7h0M592.7 634.5h0M592.9 828.8h0M593.5 822.9h0M593.7 641.8h0M594.3 642.4h0M594.3 627.2h0M594.4 843.4h0M594.4 849.6h0M594.4 649.3h0M594.5 810.2h0M594.6 839.2h0M594.6 810.4h0M594.8 827h0M594.8 861h0M595.3 830.3h0M595.3 812.9h0M595.4 855.7h0M595.9 820.2h0M596.3 659.2h0M596.5 835.7h0M596.8 657.7h0M596.9 847.2h0M596.9 643.6h0M597 851.7h0M597.1 831.1h0M597.5 817.2h0M597.6 641.9h0M597.6 635.3h0M597.7 647.3h0M597.8 849.3h0M597.9 854.5h0M597.9 661.2h0M598 816h0M598 865.5h0M598.1 870.6h0M598.3 826.8h0M598.5 837.2h0M598.5 859.9h0M598.7 651.2h0M598.8 636.6h0M598.8 653.1h0M599 633.3h0M599.2 816.8h0M599.9 842.3h0M600.2 645.8h0M600.2 651.8h0M600.3 865.8h0M600.4 829.2h0M600.4 872.9h0M600.5 831.8h0M600.5 655h0M600.6 832.3h0M600.8 821.8h0M601.3 835.2h0M601.3 815.9h0M601.5 843.8h0M602.1 821.6h0M602.2 822.7h0M602.2 828.8h0M602.3 826.3h0M602.3 660.2h0M602.5 814.6h0M602.8 820.6h0M602.9 652.9h0M603.3 809.3h0M603.3 808.2h0M603.5 638.5h0M603.5 811.7h0M603.6 645.6h0M603.7 654.8h0M603.7 813h0M604 844.7h0M604.1 633.7h0M604.2 641.4h0M604.2 849.5h0M604.5 647.7h0M604.5 644.4h0M604.6 651.2h0M604.6 641h0M604.7 824.4h0M604.7 619.3h0M604.8 803h0M604.9 793h0M605.1 653.4h0M605.2 636.3h0M605.2 634.4h0M605.4 646.2h0M605.5 632.7h0M605.5 799.2h0M605.5 634.8h0M605.7 797.7h0M605.7 799.9h0M606 651.5h0M606 627.6h0M606.2 621.1h0M606.4 826.3h0M606.5 635.4h0M606.6 622.9h0M606.7 624.4h0M606.8 810h0M606.9 809.7h0M607 654.6h0M607.1 789h0M607.2 806.7h0M607.3 655.3h0M607.7 643.9h0M607.8 789.5h0M607.8 626.5h0M607.9 824.7h0M608 798.5h0M608.2 656.1h0M608.6 641.7h0M608.7 801.3h0M609.3 816.2h0M609.4 810.8h0M609.7 804.6h0M610 798h0M610.1 644.6h0M610.2 811.1h0M610.4 655h0M610.5 788.2h0M610.6 646.8h0M610.7 811h0M610.7 800.2h0M610.8 796.8h0M611.1 603.4h0M611.2 805.8h0M611.2 646.7h0M611.3 638.9h0M611.3 649.6h0M611.5 804.2h0M611.5 807.1h0M611.6 795.4h0M611.7 640.6h0M611.7 654.4h0M611.8 617.1h0M612.2 803h0M612.5 793.1h0M612.7 812.2h0M612.7 800.6h0M612.8 830.4h0M612.8 638.4h0M612.9 640h0M612.9 825.4h0M613 791.8h0M613 633.6h0M613.1 818.7h0M613.1 809h0M613.2 645.9h0M613.4 648.5h0M613.6 803.9h0M613.7 842.7h0M613.9 646.1h0M613.9 820.4h0M614 613.5h0M614 619.9h0M614.3 820.5h0M614.4 641.2h0M614.4 622.9h0M614.6 633h0M614.6 627.2h0M614.7 814.8h0M614.9 818.5h0M615 825.9h0M615.1 831.7h0M615.4 813.7h0M615.6 810.4h0M615.6 794.9h0M615.7 804.4h0M615.8 630.5h0M616.7 634.6h0M616.7 817.9h0M616.8 812.7h0M617.4 635h0M617.4 823.5h0M617.6 851.3h0M617.7 814.8h0M617.8 801.7h0M617.9 803.7h0M618.1 828.1h0M618.1 820.8h0M618.1 863.6h0M618.2 797.2h0M618.7 798.1h0M619 800.5h0M619.2 808.3h0M619.5 820.1h0M619.6 831.3h0M619.7 826.7h0M619.8 644.8h0M619.8 836.6h0M619.9 797.5h0M620 832.4h0M620 809.7h0M620.3 813.1h0M620.7 802.9h0M620.8 657.5h0M620.9 654.8h0M621 818.6h0M621.1 826.3h0M621.2 818.8h0M621.4 642h0M621.5 633.8h0M621.6 846.2h0M621.6 642.3h0M621.7 638.2h0M621.7 653.4h0M621.8 648.4h0M621.9 649.9h0M622.2 842.4h0M622.3 846.6h0M622.4 803h0M622.4 663.7h0M622.5 661.7h0M622.6 860.2h0M622.8 863.9h0M622.8 819.3h0M623 818.3h0M623.3 659.6h0M623.4 831h0M623.6 666h0M623.8 806.1h0M623.8 842.3h0M623.9 813.9h0M624.1 807.2h0M624.1 809.9h0M624.2 809.1h0M624.3 850.6h0M624.9 825h0M625.1 828.4h0M625.1 824.1h0M625.3 861.6h0M625.3 837.7h0M625.3 829.9h0M625.5 834.2h0M625.9 860.6h0M625.9 823.4h0M626.1 857.3h0M626.3 654.8h0M626.3 660.7h0M626.4 827.9h0M626.4 818h0M626.8 830.6h0M626.9 862.4h0M626.9 825.6h0M627.1 835.3h0M627.2 667.1h0M627.4 846.2h0M628.1 837.1h0M628.3 826.9h0M628.4 822.9h0M628.6 651.6h0M629 831.3h0M629.1 664.5h0M629.2 826.8h0M629.2 653h0M629.2 828.4h0M629.3 648.1h0M629.4 814.7h0M629.4 645.3h0M629.6 838.2h0M629.6 823.1h0M629.7 655.5h0M630 657.2h0M630 814.8h0M630.4 829.4h0M630.5 829.9h0M630.6 836.8h0M630.8 658.2h0M630.9 837.8h0M630.9 664h0M631.1 846h0M631.2 652.7h0M631.2 648.1h0M631.5 663.2h0M631.5 654.7h0M631.6 829.4h0M631.8 815.2h0M632 678.2h0M632 682h0M632.1 815.6h0M632.2 675.2h0M632.2 822.3h0M632.5 823.9h0M632.6 819.5h0M632.8 827.1h0M632.9 670.2h0M633.1 676.4h0M633.3 833h0M633.7 841.1h0M634.2 880.9h0M634.3 845.1h0M634.3 835.5h0M634.3 892.2h0M634.3 839h0M634.4 675h0M634.4 885.2h0M634.5 853.7h0M634.6 873.8h0M634.6 681.9h0M634.7 675.7h0M634.7 667.1h0M635 866h0M635.1 860h0M636.8 850.1h0M636.9 669.1h0M636.9 664.2h0M637.7 853.2h0M637.7 844.9h0M638.1 653.6h0M638.2 838.9h0M638.4 674.5h0M638.5 677.6h0M638.5 681.8h0M638.6 864.3h0M638.6 852.3h0M638.8 862.3h0M638.8 679.5h0M638.9 858.7h0M639.4 660.9h0M639.7 653.3h0M639.9 657.9h0M640.1 666h0M640.2 845.7h0M641.1 671.9h0M641.1 846h0M641.3 852.2h0M642.2 835.8h0M642.5 850.6h0M642.6 831.5h0M642.6 830.4h0M642.7 852.4h0M642.7 857.9h0M643.3 884.1h0M643.4 889.7h0M643.8 826.3h0M643.9 665.2h0M644 812.2h0M644.1 820.6h0M644.2 819.2h0M644.3 814.7h0M644.5 659.7h0M644.6 673.6h0M644.7 647.2h0M644.9 815.6h0M645.1 853.1h0M645.1 824.7h0M645.1 664.7h0M645.2 835.6h0M645.3 824.3h0M645.3 653.6h0M645.4 840.1h0M645.5 844.2h0M645.5 821.2h0M645.6 834.2h0M645.7 850.8h0M645.7 657.6h0M646 664h0M646.2 816.4h0M646.3 672.3h0M646.5 613.3h0M647 665.4h0M647.2 637.2h0M647.5 659.7h0M647.5 670h0M647.6 828.5h0M647.6 667.4h0M647.8 668.8h0M648 809.8h0M648.1 627.8h0M648.3 628.8h0M648.4 651.9h0M648.5 639.1h0M648.9 631.5h0M649 625.7h0M649.4 810.7h0M650.6 652.7h0M651.1 817.7h0M651.1 636.8h0M651.8 647.9h0M652 632h0M652 812h0M652.2 813h0M652.3 649.7h0M652.3 844.7h0M652.4 827.4h0M652.5 829h0M653 818.9h0M653.2 644.2h0M653.3 813.1h0M654.3 821.8h0M654.6 825.8h0M654.8 650h0M655.4 841h0M655.6 644.1h0M656 613.4h0M656.2 626.1h0M656.3 643h0M656.6 803h0M656.7 814.2h0M657.5 816.2h0M657.7 797.6h0M657.7 817.7h0M657.7 849.2h0M658 650.4h0M658 833h0M658.1 641.5h0M658.1 794.6h0M658.4 797.8h0M658.4 796h0M658.6 826.6h0M658.7 836.1h0M658.7 881.4h0M658.8 832.2h0M658.9 646.2h0M659.1 646.7h0M659.2 803.9h0M659.4 809.4h0M659.5 814h0M659.6 800.8h0M659.7 834.3h0M659.8 812.5h0M659.9 805.8h0M660.5 791.5h0M660.6 635.7h0M661 808.2h0M661.2 636.1h0M661.3 640.7h0M661.5 803.9h0M661.7 838.9h0M661.8 833h0M662.1 837.8h0M662.2 833.7h0M662.5 829.4h0M662.6 797.7h0M662.7 628h0M663.1 607.9h0M663.1 825.8h0M663.2 614.8h0M663.3 792.1h0M663.5 804.4h0M663.5 809.8h0M663.6 629.6h0M663.7 808.3h0M663.8 634.1h0M663.9 800.5h0M664.2 630.7h0M664.2 614h0M664.4 619.8h0M664.7 812.5h0M664.9 625.6h0M665.1 809.6h0M665.2 640.2h0M665.3 819.9h0M665.5 651.6h0M665.5 808.7h0M665.6 646h0M666.1 788.1h0M666.2 643.6h0M666.3 632h0M666.4 648.4h0M666.5 628.9h0M666.6 796.5h0M666.7 803.5h0M666.7 653.8h0M666.9 826.7h0M667 822.7h0M667.1 817.6h0M667.1 636.2h0M667.1 795.8h0M667.2 798.5h0M667.6 820.4h0M667.7 798.9h0M667.8 642.3h0M668 795.5h0M668.1 666.9h0M668.2 625.4h0M668.3 792.5h0M668.4 649h0M668.4 644.1h0M668.4 659.6h0M668.5 635.5h0M668.5 648.2h0M668.6 795.9h0M668.8 657.1h0M668.8 805.8h0M668.9 799.6h0M669 675.7h0M669 634.3h0M669.3 792.8h0M669.4 678.7h0M669.6 635.5h0M669.6 646.9h0M669.7 802.3h0M669.7 804.3h0M669.8 814.5h0M670 673h0M670.2 663.4h0M670.2 816.1h0M670.3 792.3h0M670.6 668.9h0M670.8 818.5h0M670.8 813.3h0M670.8 678.7h0M670.9 787.8h0M671 796.7h0M671 791.3h0M671.1 809.4h0M671.1 844.3h0M671.3 838.8h0M671.5 670.8h0M671.5 834.6h0M671.6 845.9h0M671.7 812.4h0M671.8 851.5h0M671.9 823.5h0M671.9 859.7h0M672 827.3h0M672.1 858.3h0M672.1 867.6h0M672.3 862.9h0M672.4 846.3h0M672.5 834h0M672.6 824.7h0M672.8 832.8h0M673.1 681.8h0M673.3 666.3h0M673.3 834h0M673.4 830.7h0M673.4 682.5h0M673.4 834.3h0M673.5 831.7h0M673.5 848.8h0M673.9 856.4h0M673.9 853.3h0M674.2 670.6h0M674.4 839.5h0M674.5 851.7h0M674.7 844.8h0M675 676.1h0M675 854h0M675 845.3h0M675.1 833.7h0M675.3 861.4h0M675.4 841.3h0M675.5 684.1h0M675.6 643.9h0M675.6 841.8h0M675.8 674.5h0M676.5 660.1h0M676.8 877.3h0M677.9 677.6h0M678.1 658.2h0M678.2 670.6h0M678.2 665.3h0M678.2 660.6h0M678.3 864.8h0M678.4 660.6h0M678.5 859.6h0M678.5 683.9h0M678.7 672.1h0M678.8 843.4h0M679.7 832.6h0M680 681.5h0M680 642.5h0M680.1 640.8h0M680.2 644.7h0M680.3 830h0M680.4 650.6h0M680.4 656.3h0M680.4 662.2h0M680.5 679.4h0M680.7 669.9h0M681 823.7h0M681 825h0M681.7 651.4h0M681.8 876.5h0M681.9 637.3h0M682 839.9h0M682.1 624h0M682.2 843.8h0M682.4 838.7h0M683.2 610.5h0M683.4 819.6h0M683.6 652.2h0M684.1 641.3h0M684.3 651h0M684.6 866.5h0M684.9 638.2h0M685 814.1h0M685.7 822.5h0M686.2 632.7h0M686.3 606.1h0M686.4 598.2h0M686.4 604.3h0M686.7 643.3h0M686.9 826.5h0M686.9 836.8h0M686.9 818.8h0M687 833.1h0M687.2 635.2h0M687.4 637.6h0M687.5 836.7h0M687.6 650.4h0M687.7 812.6h0M688.6 647.8h0M688.8 657.3h0M688.8 632.3h0M689.3 819.3h0M689.7 656.7h0M690 650.8h0M690.1 631.2h0M690.1 647.2h0M690.1 844.2h0M690.1 838.4h0M690.2 637.8h0M690.3 624.6h0M690.8 828h0M691 814.4h0M691.1 654.9h0M691.3 638h0M691.4 660.3h0M691.4 644.5h0M691.8 839.1h0M692.2 830.7h0M692.4 849.3h0M692.6 652.2h0M692.7 817.6h0M692.8 833.2h0M693.1 830.6h0M693.2 826.3h0M693.5 640.5h0M693.6 626.5h0M693.6 822.8h0M694 812.1h0M694.2 831.1h0M694.3 833.7h0M694.4 858.7h0M694.5 863.6h0M694.6 828.8h0M694.8 664.8h0M694.9 633.6h0M694.9 639.5h0M695.2 628.9h0M695.3 667.1h0M695.5 856.5h0M695.5 654.1h0M695.6 669.5h0M695.6 659.7h0M695.7 646.7h0M696 828.4h0M696.1 646.2h0M696.2 841.5h0M696.3 652h0M696.3 840h0M696.5 818.1h0M696.5 806.2h0M697 816.4h0M697 655.5h0M697.1 822.6h0M697.1 862.6h0M697.1 836.3h0M697.1 869.6h0M697.2 877h0M697.2 825.4h0M697.3 829.8h0M697.3 805.9h0M697.9 814.9h0M697.9 804.7h0M697.9 805.4h0M697.9 819.6h0M698 821h0M698 806.9h0M698.1 824.2h0M698.1 812.8h0M698.6 862.5h0M698.7 858.3h0M698.7 866.3h0M699.1 817h0M699.1 831.8h0M699.2 814.1h0M699.3 811h0M699.4 824.7h0M699.6 651.4h0M699.6 673.1h0M699.7 647.8h0M699.7 656.2h0M699.8 664h0M699.9 823.2h0M700.2 808.9h0M700.3 859.3h0M700.5 664.6h0M700.6 655.7h0M700.7 633.5h0M700.7 657.4h0M700.8 626.4h0M701.1 645.7h0M701.1 801.6h0M701.1 830.8h0M701.2 641.1h0M701.2 800.4h0M701.3 649.8h0M701.3 642.7h0M701.5 810.7h0M701.6 796.7h0M701.6 669.7h0M702 658.2h0M702.2 863.9h0M702.3 665.7h0M702.3 869.1h0M702.3 872.7h0M702.4 654.5h0M702.7 663.7h0M702.8 802.4h0M702.8 635.4h0M702.9 657.8h0M703.1 654.1h0M703.2 654.3h0M703.2 825.1h0M703.3 634.2h0M703.3 659.7h0M703.4 656.7h0M703.6 793.4h0M703.7 647.6h0M703.9 802h0M703.9 644.3h0M704 634h0M704.2 805.2h0M704.3 806.6h0M704.3 653.7h0M704.6 658.1h0M705 640.3h0M705.1 637.9h0M705.1 644.2h0M705.1 816.7h0M705.1 815.7h0M705.3 815.5h0M705.4 646.9h0M705.4 829.6h0M705.6 661h0M706.1 645.7h0M706.6 793.8h0M706.8 807.6h0M706.9 668.3h0M707 816.6h0M707 808.5h0M707.1 798.1h0M707.3 799.4h0M707.4 683.9h0M707.5 822.8h0M707.5 830.7h0M707.7 821.9h0M707.7 816.9h0M707.8 853.1h0M707.8 832.9h0M707.9 670.7h0M707.9 663.9h0M708 659.5h0M708.1 675.5h0M708.2 673.9h0M708.3 670.3h0M708.3 855.7h0M708.3 693.2h0M708.4 802.5h0M708.4 850.2h0M708.5 809.4h0M708.5 678.4h0M708.6 840.1h0M708.6 882.9h0M708.7 878h0M708.7 803.3h0M708.7 818.1h0M708.8 832h0M708.8 689.4h0M709 674.7h0M709.1 818.3h0M709.3 817.9h0M709.4 851.2h0M709.4 683.9h0M709.7 816.5h0M709.8 818.3h0M709.9 836.8h0M710.1 818.2h0M710.2 694.9h0M710.5 652.8h0M710.6 817.5h0M710.6 657.1h0M710.7 826h0M710.7 824h0M711 812.1h0M711.4 826.6h0M711.4 828.9h0M711.5 827.5h0M711.6 694.4h0M711.7 822.4h0M711.7 813.2h0M711.8 815.3h0M712.1 875.5h0M712.3 827.8h0M712.5 841.4h0M712.6 689.2h0M712.9 837.4h0M713 835.7h0M713.1 837.1h0M713.2 826.9h0M713.4 686.1h0M713.5 652.5h0M713.5 692.9h0M713.5 834.1h0M713.7 683.8h0M713.7 689.4h0M713.9 814h0M714.2 821.8h0M714.5 836.6h0M715 852.9h0M715.2 670.9h0M715.3 681h0M715.4 833.7h0M715.5 822.4h0M715.5 824h0M715.8 833.9h0M715.8 819.5h0M715.8 814.8h0M715.8 864.9h0M716.2 830h0M716.3 818.8h0M717.3 840.7h0M717.3 831.9h0M717.5 834.4h0M717.7 850.4h0M718.6 827h0M718.7 690.3h0M718.8 685.6h0M719 847h0M719.5 854.7h0M719.7 856.9h0M719.9 860.6h0M719.9 698.3h0M720 848h0M720.1 715h0M720.1 835.3h0M720.2 711.3h0M720.2 692.8h0M720.3 843.5h0M720.4 687.6h0M720.6 707.4h0M720.7 704h0M721 721.7h0M721.1 722.3h0M721.3 719.1h0M721.5 795.8h0M721.5 838.2h0M721.8 800.7h0M721.8 701.5h0M721.9 725.7h0M721.9 744.4h0M721.9 702h0M721.9 744.2h0M721.9 807.1h0M722 695.7h0M722.1 879.2h0M722.1 709.8h0M722.2 875.6h0M722.2 841.6h0M722.3 705.8h0M722.5 742.9h0M722.7 852.2h0M722.8 862.7h0M722.8 863.3h0M722.9 804.5h0M723.1 728.5h0M723.2 892h0M723.2 899.2h0M723.3 732.6h0M723.3 886.2h0M723.4 726.7h0M723.5 874.6h0M723.5 736.7h0M723.5 757.9h0M723.6 711.6h0M723.7 865.7h0M723.8 868.4h0M723.8 886.7h0M723.8 881.9h0M723.8 894.3h0M723.8 763.2h0M723.9 763.9h0M724 748.2h0M724 868.8h0M724.1 713h0M724.1 739.2h0M724.2 764.4h0M724.2 804.5h0M724.2 707.2h0M724.3 785h0M724.3 769.8h0M724.3 775.3h0M724.4 719.7h0M724.4 780.2h0M724.5 873.7h0M724.5 789.2h0M724.5 873h0M724.5 837h0M724.6 798.2h0M724.6 809.1h0M724.7 754.2h0M724.7 793.9h0M724.7 875.9h0M724.8 820.8h0M724.8 791.8h0M724.9 750.7h0M725 798.9h0M725 767.9h0M725.1 838.6h0M725.2 881.1h0M725.2 756.2h0M725.2 822.7h0M725.2 731.9h0M725.3 782.7h0M725.3 742.4h0M725.3 760h0M725.3 737.4h0M725.3 759.4h0M725.4 802.9h0M725.5 753.9h0M725.5 772.6h0M725.6 780.2h0M725.6 810h0M725.7 779.6h0M725.7 800.6h0M725.7 777.8h0M725.7 795.1h0M725.8 838.2h0M725.8 811.6h0M725.9 799.1h0M725.9 791.3h0M726.1 824.1h0M726.1 770h0M726.2 788.5h0M726.2 907.3h0M726.2 812h0M726.2 772.5h0M726.3 788.7h0M726.3 918.2h0M726.4 818.6h0M726.4 922.5h0M726.4 815.4h0M726.5 904.2h0M726.6 813.1h0M726.6 906.4h0M726.7 904.8h0M727 903.1h0M727.1 907.2h0M727.1 834.4h0M727.2 910.4h0M727.4 922.7h0M727.4 901.3h0M727.4 817.8h0M727.4 825.9h0M727.6 923.6h0M727.7 830.2h0M727.7 896h0M727.7 813.9h0M727.8 900.8h0M727.8 803.5h0M727.8 913.5h0M727.8 826.6h0M727.8 918.3h0M727.9 832.6h0M728 922.1h0M728 907.1h0M728.1 840.1h0M728.3 900.7h0M728.4 829.5h0M728.4 823.7h0M728.4 843.9h0M728.5 916.5h0M728.6 828.3h0M728.8 899.5h0M728.8 926.3h0M729 861.4h0M729.1 872.7h0M729.2 840.1h0M729.2 936h0M729.3 952.4h0M729.3 945.7h0M729.4 940.3h0M729.5 950.2h0M729.6 862.4h0M729.8 849.2h0M729.8 846.5h0M729.9 863.4h0M730 855.4h0M730 851.9h0M730.2 933.2h0M730.2 870h0M730.2 858.1h0M730.3 940.5h0M730.4 926.3h0M730.6 946.3h0M730.7 937.5h0M730.7 875.5h0M730.7 868h0M731 877.6h0M731.1 865.4h0M731.2 951.8h0M731.2 879.3h0M731.2 930.2h0M731.3 958.1h0M731.5 942.7h0M731.5 867h0M731.8 882.3h0M732.1 884h0M732.5 885.3h0M732.8 966.5h0M732.9 953.9h0M733.1 956.3h0M733.2 957.7h0M733.4 887.1h0M733.4 960.8h0M733.5 962.9h0M734 970.8h0M734.2 893.1h0M734.3 896.9h0M734.4 891.6h0M734.4 888h0M734.7 970h0M734.8 975.6h0M734.8 981.2h0M735.1 972.7h0M736 900.8h0M737 902.1h0M738.2 981.7h0M739.2 903.2h0M740.1 984.5h0M740.2 988.4h0M740.4 1009.3h0M740.5 991.1h0M740.7 986.3h0M741 911.6h0M741.1 909.4h0M741.4 913.9h0M741.5 1004.4h0M741.8 905.3h0M741.8 915.9h0M742 920.4h0M742.5 994.2h0M742.8 924.5h0M742.8 921.4h0M743.6 926.6h0M744 993.6h0M744.4 994.5h0M745 932.7h0M745.1 1000.8h0M745.2 934.2h0M745.5 998.5h0M745.9 928.7h0M746.4 937.2h0M747.5 927.4h0M747.6 1004.4h0M748.3 954.5h0M748.4 941.4h0M748.4 945.7h0M748.9 960.5h0M749.1 949.6h0M749.2 1007.2h0M749.2 955.8h0M749.3 951.3h0M749.4 962.5h0M749.5 939.6h0M749.5 948.9h0M749.6 951.8h0M749.6 944.6h0M750.9 1010.5h0M751.3 967.4h0M752.2 1014.2h0M752.3 973.4h0M752.4 972.6h0M752.6 976.3h0M752.9 964.4h0M753 1017.9h0M753.1 1017.7h0M753.2 970.6h0M753.3 972.1h0M753.3 978.7h0M755.5 984.3h0M755.6 986.8h0M755.7 979.8h0M756.7 983h0M757.9 990.2h0M758.1 1018h0M758.5 990.8h0M760.5 1021h0M761.2 993.2h0M761.9 997.2h0M762.2 1022.3h0M762.4 997.4h0M764.3 998.1h0M764.4 1025.1h0M766.5 1001.3h0M767.5 1001.4h0M768.1 1001.4h0M768.4 1025.2h0M769.7 1026.3h0M770.7 999.6h0M771 1000.7h0M772.7 1026.3h0M773.9 1027.8h0M774.5 1002.8h0M775.8 1002.3h0M776 1026h0M777.2 999.3h0M779.6 1024.4h0M780.3 1025h0M780.7 1000.4h0M781.7 1025.5h0M782.3 1025.1h0M782.3 1002.6h0M784.1 1003.9h0M785.7 1024.3h0M786.6 1005h0M787.2 1025.5h0M790 1006.6h0M791 1006.5h0M791.1 1009h0M792 1026h0M795.1 1028.4h0M795.4 1011.2h0M796.2 1027h0M797.6 1010.2h0M798.9 1025.2h0M799.5 1025.1h0M800.6 1024.8h0M800.7 1010.1h0M801.4 1024.7h0M803.3 1024.6h0M803.9 1011.8h0M804 1011.3h0M805.3 1012.9h0M805.9 1026.2h0M806.2 1014.5h0M807.3 1026.1h0M809.3 1015.7h0M809.4 1026.5h0M810 1026.7h0M811.3 1013.4h0M811.3 1025.8h0M812.4 1016.4h0M813.9 1016.4h0M814 1013.7h0M815.1 1025h0M815.7 1017.8h0M815.8 1018.3h0M816.1 1025.7h0M816.4 1018.8h0M817.7 1026.6h0M817.8 1027h0M819.2 1019.9h0M819.4 1027h0M819.7 1020.4h0M820.5 1020.7h0M821.9 1026.8h0M823.4 1022.1h0M823.5 1026.8h0M824 1026.8h0M825 1021.8h0M826.6 1027.2h0M827.8 1028.2h0M828.8 1021.6h0M829.9 1021.8h0M830.3 1027.7h0M832.2 1021.8h0M832.6 1027.8h0M833.8 1022.1h0M833.9 1027.3h0M835.3 1027.6h0M837.4 1022.1h0M837.6 1028.8h0M839.4 1028.9h0M840.3 1022.5h0M841.8 1028.3h0M842.6 1022.5h0M844.4 1023.4h0M844.5 1029.1h0M844.9 1029h0M846.5 1023.2h0M846.9 1029h0M848.7 1023.4h0M848.7 1028.9h0M849.3 1023.3h0M849.8 1028.6h0M850.7 1024h0M852.1 1028.7h0M853 1024.2h0M853.8 1028.3h0M855.8 1024.1h0M856.8 1027.6h0M857.9 1023.9h0M858.1 1027.7h0M858.3 1027.6h0M859.1 1023.8h0M859.3 1027.3h0M861.1 1023.1h0M861.5 1027.2h0M863.6 1027.6h0M863.9 1023.7h0M865.1 1023.7h0M865.2 1028.1h0M865.5 1023.7h0M866.7 1028.5h0M867 1022.9h0M869.1 1023.2h0M869.5 1027.8h0M871.6 1023.1h0M872 1028.3h0M872.4 1023.2h0M875.4 1023.4h0M875.8 1028.2h0M876.6 1023.6h0M877.4 1029.4h0M879.2 1023.7h0M880 1027.6h0M880.4 1024.1h0M880.7 1026.9h0M881.5 1026.8h0M882.7 1023.6h0M883 1026.5h0M883.5 1022.9h0M884.8 1020.6h0M885.4 1018.9h0M885.9 1022.1h0M885.9 1025.7h0M886.2 1018.2h0M886.3 1012.5h0M886.3 1014.3h0M886.3 1016.1h0M886.7 1007.7h0M886.7 1009.5h0M886.7 1011.3h0M886.7 1013.1h0M886.7 1014.9h0M886.7 1020.3h0M886.7 1022.1h0M886.7 1025.7h0M887.1 1004h0M887.1 1005.8h0M887.1 1018.4h0M887.1 1025.6h0M887.5 1001.4h0M887.5 1003.2h0M887.5 1005h0M887.9 999.8h0M887.9 1025h0M888.7 999.1h0M889.1 999.8h0M889.1 1025h0M889.5 1001.4h0M889.5 1024.8h0M889.9 1004h0M889.9 1005.8h0M889.9 1025.6h0M890.3 1007.7h0M890.3 1009.5h0M890.3 1011.3h0M890.3 1022.1h0M890.3 1025.7h0M890.7 1012.5h0M890.7 1014.3h0M890.7 1016.1h0M891.1 1018.5h0M891.5 1020.6h0M892 1021.9h0M892.1 1027.4h0M893.4 1028.6h0M895.6 1029h0M896.1 1023.2h0M897.1 1028.1h0M897.3 1023.2h0M899.8 1023h0M900.3 1028h0M902 1024h0M902.6 1027.5h0M903.3 1024h0M903.9 1028.1h0M905.2 1022.8h0M905.8 1028.7h0M906.9 1028.6h0M908.9 1023.7h0M909.7 1028.9h0M911 1024.6h0M911.4 1028.4h0M912.8 1028.6h0M914.1 1022.9h0M914.7 1029.6h0M916.6 1027.8h0M917.6 1023.6h0M919.3 1028h0M920.6 1023.4h0M921.5 1027.7h0M922.6 1023.2h0M923.8 1023.2h0M924.5 1027h0M924.8 1023.2h0M926.3 1027.7h0M927.1 1023h0M928 1027.8h0M929.8 1023.6h0M930.2 1027.5h0M931.8 1023.8h0M932.4 1023.8h0M932.9 1024.2h0M934 1028.4h0M935.3 1024.2h0M936.4 1028.2h0M937.2 1023.2h0M938.7 1028.4h0M939 1024.7h0M940 1029.5h0M940.9 1029.6h0M941.4 1025h0M942.7 1025.1h0M943.3 1029.4h0M944.7 1024.6h0M947 1028.9h0M947.3 1024h0M948.7 1029.8h0M949.9 1029h0M950.7 1024.2h0M953 1024.2h0M953.2 1028h0M954.6 1023.1h0M955.8 1027.8h0M957.2 1023.5h0M957.7 1027.9h0M960.3 1024.4h0M960.6 1028.4h0M961.4 1028.9h0M963.2 1024h0M963.6 1023.8h0M965.1 1028.1h0M966.2 1023.7h0M967.3 1027.1h0M968 1023.7h0M968.9 1023.6h0M969.1 1027.4h0M969.9 1028h0M970.1 1023.7h0M970.5 1023.4h0M971.4 1027.4h0M973.1 1023.8h0M973.6 1027.8h0M974 1024.2h0M974.9 1028h0M975.6 1027.8h0M976.7 1023.4h0M978.2 1028.2h0M978.6 1022.6h0M979 1027.4h0M980.8 1024.2h0M982.3 1029h0M982.8 1023.7h0M983.9 1023.8h0M984.8 1028.5h0M986.3 1023.7h0M987.6 1023h0M988.1 1028.1h0M988.5 1023.1h0M990.2 1022.8h0M990.7 1027.9h0M991.8 1023.8h0M992.7 1028.3h0M993.7 1023.8h0M993.8 1023.8h0M996 1028.2h0M996.2 1023.7h0M997 1023.3h0M997.2 1028.1h0M997.9 1023.3h0M999.4 1023.3h0M999.8 1023.4h0M999.9 1028.2h0M1000.5 1028.1h0M1001.5 1023.8h0M1002.4 1028.2h0M1002.6 1024.1h0M1003.4 1027.9h0M1003.9 1023.8h0M1004.5 1024.1h0M1004.8 1028.2h0M1007.1 1023.9h0M1007.3 1028h0M1009 1027.8h0M1009.2 1023.4h0M1010.1 1027.5h0M1010.8 1023.2h0M1011.2 1027.1h0M1011.8 1026.9h0M1011.9 1022.9h0M1013.7 1026.6h0M1014.6 1023.3h0M1014.8 1023.5h0M1015.8 1027h0M1017.6 1027.6h0M1017.7 1023.4h0M1018.4 1027.9h0M1020 1027.5h0M1020.1 1024.1h0M1021.4 1024h0M1022.2 1026.6h0M1023.8 1023.2h0M1024.6 1027.5h0M1025.1 1028.8h0M1025.9 1023.9h0M1027.6 1024.4h0M1028.8 1029.1h0M1029.5 1024.1h0M1030.7 1028.1h0M1031.7 1024h0M1033.1 1028.4h0M1034.3 1024.6h0M1035 1029.5h0M1036 1029.3h0M1036.9 1023.1h0M1038 1027.9h0M1039.8 1028.2h0M1040.7 1024.2h0M1041 1028.7h0M1042.1 1024.2h0M1042.3 1024.1h0M1043 1029h0M1044.1 1023.2h0M1045.9 1027.8h0M1046.2 1024.4h0M1047 1024.6h0M1047.1 1027.9h0M1049.3 1028.9h0M1050.5 1023.2h0M1051.8 1023.3h0M1053.4 1028.4h0M1053.8 1024.3h0M1055.5 1028.5h0M1057 1023.5h0M1058.6 1028.6h0M1059.8 1022.8h0M1060 1027.8h0M1060.4 1022.8h0M1061.3 1027.8h0M1063.6 1023.6h0M1063.9 1027.9h0M1064.7 1028.2h0M1065.3 1023.4h0M1066.7 1028.9h0M1067.9 1028.2h0M1069.1 1023.9h0M1069.9 1027.9h0M1071 1028.1h0M1071.5 1028.1h0M1072.1 1023.8h0M1072.8 1027.8h0M1074.3 1023.2h0M1075.5 1027.6h0M1076 1023.1h0M1078.1 1027.8h0M1079.6 1024.1h0M1080.9 1029.1h0M1081.4 1023.4h0M1082.7 1028.3h0M1082.8 1023.7h0M1084.6 1028h0M1085.2 1023.8h0M1085.6 1024.1h0M1086.8 1028.7h0M1087.9 1023.8h0M1089.6 1028.8h0M1090 1023.4h0M1090.5 1028.6h0M1091.9 1023.9h0M1092.5 1028h0M1094 1027.4h0M1094.1 1024.1h0M1096.2 1027.6h0M1096.7 1023.2h0M1097.6 1028h0M1097.7 1023.5h0M1098.3 1023.7h0M1100.4 1028.7h0M1100.6 1023.9h0M1102.2 1028.2h0M1102.4 1023.2h0M1102.7 1027.8h0M1104.5 1023.7h0M1104.6 1026.9h0M1105.9 1026.9h0M1107 1023.4h0M1107.7 1027.4h0M1108 1023.1h0M1108.8 1022.7h0M1109.7 1028.1h0M1111.9 1023.3h0M1112.2 1027.6h0M1114.8 1023.7h0M1115.4 1028.3h0M1117.1 1028.4h0M1118.9 1022.9h0M1119.5 1027.9h0M1121.9 1028.4h0M1122.2 1023.9h0M1123.9 1028.7h0M1124.2 1024.5h0M1125.3 1028.5h0M1126.3 1024.6h0M1126.9 1028.2h0M1127.9 1023.8h0M1128.3 1028.2h0M1129.2 1023.3h0M1130.2 1028h0M1130.8 1027.8h0M1131.1 1024h0M1132.5 1024.3h0M1132.6 1028.1h0M1133.2 1028.2h0M1134.4 1024.1h0M1134.5 1028h0M1136.2 1024.2h0M1136.5 1024h0M1136.7 1028.8h0M1139.4 1029.8h0M1140 1024.7h0M1141.7 1024.3h0M1142.3 1028.3h0M1143.6 1023.7h0M1144.1 1027.6h0M1144.3 1023.1h0M1145.5 1027.4h0M1146.2 1023h0M1146.9 1027.7h0M1148.2 1028h0M1149.1 1022.8h0M1150.2 1028.2h0M1150.5 1023.3h0M1152.3 1027.7h0M1152.4 1023.1h0M1155.1 1021.1h0M1155.2 1025.8h0M1155.5 1018h0M1155.5 1019.8h0M1155.9 1016.3h0M1156.3 1015.8h0M1156.4 1025.8h0M1156.7 1016.3h0M1156.7 1018.1h0M1156.7 1019.9h0M1156.9 1026.2h0M1157.1 1018h0M1157.1 1019.8h0M1157.5 1021.1h0M1157.9 1022.2h0M1158.2 1026.4h0M1160 1027.7h0M1161 1023.7h0M1161.8 1027.7h0M1163.7 1023.6h0M1163.8 1027.9h0M1164.4 1023.4h0M1165.8 1022.9h0M1166.2 1026.8h0M1166.4 1022.9h0M1167.7 1023.6h0M1168 1027.5h0M1169.8 1023.4h0M1170.3 1023.4h0M1170.6 1028.6h0M1173.1 1028h0M1173.7 1022.6h0M1174.3 1027.9h0M1174.9 1023.6h0M1175.8 1027.5h0M1177.1 1027.5h0M1178.5 1024.3h0M1180.3 1024.2h0M1180.7 1028.8h0M1182.1 1024h0M1182.5 1028.8h0M1184.8 1024.7h0M1185.5 1029h0M1186.4 1024.5h0M1187.7 1024.1h0M1188.7 1028.4h0M1188.9 1028.3h0M1189.4 1028.4h0M1190.5 1023.2h0M1192.5 1029h0M1193.9 1027.8h0M1194.6 1023.1h0M1197 1023.1h0M1197.2 1028.3h0M1199.5 1028.2h0M1200.7 1023.6h0M1201 1027.9h0M1202.8 1028h0M1203.6 1021.7h0M1204 1021.3h0M1204.4 1021.7h0M1206.6 1027.8h0M1208.2 1022.6h0M1208.8 1026.9h0M1210 1022.8h0M1211 1022.8h0M1211.5 1027.7h0M1212 1023.5h0M1212.4 1023.5h0M1212.9 1027.6h0M1214.9 1023.4h0M1215.2 1027.5h0M1215.8 1023.1h0M1217.6 1027.1h0M1218 1022.5h0M1218.7 1027h0M1221 1023.6h0M1221.1 1027.8h0M1221.4 1027.5h0M1222.4 1023.1h0M1222.6 1027.2h0M1222.8 1026.8h0M1223.4 1023.4h0M1223.9 1024.8h0M1224 1026.8h0M1224.1 1024.2h0M1284.2 1027.1h0M1284.2 1029.8h0M1284.3 1026.6h0M1284.4 1028.8h0M1284.5 1031.8h0M1284.6 1025h0M1284.6 1030.3h0M1284.7 1028.2h0M1284.7 1026.1h0M1284.7 1024.5h0M1285.1 1030.7h0M1288 1027.9h0M1288.2 1023.1h0M1289.3 1027.2h0M1291.1 1026.6h0M1291.3 1021.7h0M1294.1 1028.2h0M1294.2 1022.1h0M1295.7 1027.5h0M1297 1022.5h0M1297.4 1028.2h0M1299.6 1023.3h0M1300.5 1027.2h0M1301.7 1022.6h0M1302.6 1028h0M1304.5 1028h0M1304.9 1023.4h0M1305 1028h0M1306.1 1023.4h0M1306.6 1027.2h0M1306.9 1027.1h0M1307.3 1023.4h0M1308.1 1027h0M1309 1023h0M1310.1 1027.3h0M1311.3 1023.6h0M1311.9 1027.4h0M1313.9 1027.9h0M1314.5 1023.3h0M1315.3 1029h0M1317.5 1024h0M1318.5 1023.6h0M1318.9 1028.3h0M1320.4 1024.2h0M1321.3 1024h0M1322.2 1028.6h0M1322.9 1023.7h0M1324.4 1028.8h0M1326 1028.4h0M1327.2 1023.2h0M1328.1 1028.2h0M1328.5 1023.5h0M1330.3 1024.7h0M1330.7 1028.9h0M1332 1028.6h0M1332.1 1024.4h0M1333 1024.4h0M1333.3 1028h0M1334.2 1027.8h0M1335.1 1023.8h0M1336.3 1027.5h0M1337.3 1023.5h0M1339.7 1028.5h0M1340.7 1024.2h0M1341.5 1028.8h0M1342.6 1028.9h0M1343.2 1024.1h0M1344.1 1028.6h0M1344.6 1023h0M1346.1 1028.4h0M1346.5 1023.3h0M1347.9 1023.3h0M1349.2 1023.4h0M1350.1 1027.8h0M1351 1023.6h0M1351.9 1028.2h0M1353.5 1023.8h0M1354.6 1029.2h0M1355.7 1024.2h0M1356.5 1028.3h0M1356.6 1024.1h0M1357.4 1027.8h0M1358.6 1023.3h0M1360 1028h0M1360.3 1027.9h0M1361.4 1023.5h0M1363.3 1023.6h0M1363.5 1027.8h0M1364.5 1023.7h0M1365.3 1027.4h0M1365.9 1023.4h0M1366.4 1023.7h0M1368.9 1028.3h0M1369.6 1024.5h0M1370.9 1024.2h0M1371.7 1024.1h0M1371.8 1028.1h0M1373 1023.5h0M1374.3 1027.4h0M1375.4 1027.4h0M1375.5 1022.8h0M1377 1028.5h0M1377.4 1022.4h0M1378.4 1023.1h0M1378.9 1027.7h0M1380.4 1027.9h0M1381.1 1023.4h0M1381.4 1028.1h0M1381.9 1028h0M1382.8 1027.9h0M1382.9 1023.2h0M1385.4 1023.6h0M1386 1027.8h0M1388.6 1023.7h0M1389.3 1027.5h0M1390.5 1027.9h0M1391 1023.1h0M1392.2 1023.4h0M1392.5 1027.5h0M1393.5 1027.3h0M1393.8 1023.5h0M1396 1022.8h0M1396.2 1027.5h0M1397.2 1027.9h0M1398.8 1022.9h0M1399.5 1027.7h0M1400.3 1023.6h0M1401 1026.8h0M1402.7 1023h0M1402.9 1026.3h0M1403.6 1022.6h0M1404.4 1027.2h0M1404.6 1022.7h0M1405.9 1028.1h0M1406.8 1027.9h0M1408.2 1023.7h0M1408.9 1023.7h0M1411.1 1027.9h0M1411.5 1023.5h0M1411.8 1028.5h0M1412.7 1024h0M1413.5 1028.5h0M1415 1028.3h0M1415.4 1024.1h0M1418.3 1024.2h0M1419 1028.3h0M1419.9 1028.5h0M1421.4 1028.7h0M1421.7 1024.3h0M1423.6 1028.7h0M1424.7 1023.7h0M1425.5 1023.3h0M1427.2 1028h0M1427.6 1023.4h0M1428.2 1023.3h0M1428.7 1023.4h0M1428.7 1027.9h0M1429.5 1023.4h0M1429.7 1027.6h0M1430.5 1027.4h0M1432.9 1027.7h0M1433.1 1022.6h0M1434.2 1027.5h0M1434.7 1023.6h0M1435.4 1026.9h0M1437.3 1027.7h0M1437.7 1023.7h0M1438.1 1023.5h0M1438.5 1027.7h0M1439.2 1023h0M1441.7 1027.7h0M1442.4 1027.6h0M1442.5 1024.3h0M1443.8 1023.6h0M1444 1027.5h0M1445 1023.4h0M1445.3 1027h0M1445.8 1023.7h0M1445.9 1026.8h0M1447.5 1024.2h0M1450 1028.1h0M1450.2 1022.9h0M1451.6 1022.4h0M1452.5 1027.9h0M1453.4 1028.5h0M1454.7 1023.1h0M1455.6 1028.4h0M1456.3 1028.3h0M1456.6 1024h0M1458.2 1023.8h0M1458.3 1028.3h0M1458.6 1023.9h0M1458.8 1027.8h0M1459.9 1023.8h0M1461.1 1027.1h0M1461.7 1026.7h0M1462.1 1024h0M1462.4 1024.5h0M1462.5 1026.4h0" fill="none" stroke="#1f77b4" stroke-width="5.6" stroke-linecap="round"/>
<path d="M116.5 1026L118 1025.6L119.5 1025.6L121 1026.3L122.5 1026.1L124 1026L125.5 1026.9L127 1026.9L128.5 1026.3L130 1026.3L131.5 1026.2L133 1026.2L134.5 1026.3L136 1026L137.5 1026.5L139 1027.1L140.5 1026.9L142 1026.5L143.5 1026.2L145 1025.7L146.5 1025.9L148 1026.1L149.5 1025.7L151 1026.2L152.5 1027.4L154 1027.7L155.5 1027.2L157 1026.5L158.5 1025.8L160 1025.3L161.5 1025.5L163 1026.3L164.5 1026.5L166 1027.5L169.8 1026.2L172.2 1022.5L174.8 1026.2L177.2 1021.2L179.8 1023.8L182.2 1018.8L184.8 1021.2L187.2 1017.5L189.8 1012.5L192.2 1002.5L194 998.8L196 1002.5L198 991.2L200.5 995L202.2 988.8L204 992.5L206 967.5L208 977.5L209.8 963.8L212.2 970L214.8 950L216.5 958.8L218.5 942.5L221 920L223.5 902.5L227.2 891.2L229.8 887.5L232.2 876.2L234.8 907.5L237.2 860L241 842.5L243.5 847.5L245.4 836L247.9 810L250.4 828.1L252.5 803.8L256 831.9L260 788.1L262 824.4L263.8 800L265.4 815L267.9 810L269.8 780.6L271.6 793.8L273.2 776.2L275 796.9L276.6 782.5L278.2 790L280 770L282.2 794.4L284.1 763.8L286 796.9L287.9 771.2L290.4 796.9L294.8 763.8L297 805L299.1 785L301.6 758.8L304.1 785.6L306.6 793.8L308.5 761.9L310 777.5L312 736.2L314.1 770L316.4 786.9L319.1 757.5L321.4 783.8L324.8 748.1L327.9 760.6L330.8 733.8L333.9 798.1L336 775L337.5 790L339.8 755L342 771.9L345.4 752.5L347.9 772.5L350.8 789.4L353.5 761.2L356 782.5L359.1 754.4L361.6 745L363.5 768.8L366 765L368.5 746.9L371 765.6L376 745.6L378.1 766.2L380.4 738.8L383.5 739.4L385 758.1L387.6 733.1L390.4 745.6L392.2 736.2L394.5 770L397.2 785L399.8 747.5L401.6 768.1L403.5 748.1L405.4 752.5L408.2 778.1L410.4 743.8L412.2 746.2L414.5 726.9L416.6 757.5L417.2 756.2L418.5 749.4L420 763.1L422 740L424.5 705L426.6 750.6L429.1 728.1L431.6 741.9L433.8 733.1L435.8 740.6L438.2 732.5L440.4 710.6L441.9 718.1L443.8 688.1L446 728.1L447.9 728.8L449.5 747.5L452.2 704.4L454.1 712.5L456.6 723.8L459.1 721.2L461.6 703.1L463.5 722.5L465.4 745.6L467.2 734.4L468.8 749.4L470.4 736.9L472.5 762.5L476 731.2L477.9 748.8L480 725L482.2 758.8L484.8 738.8L487.5 758.8L489.8 737.5L491.4 759.4L493.5 736.2L494.8 735L496.6 721.2L498.5 743.1L500.4 745.6L503.1 755L506 728.8L508.5 700L510.6 732.5L512.2 713.8L514.1 748.8L516.4 714.4L519.1 723.8L521.4 741.9L523.2 730.6L525.4 745L527.9 752.5L530.4 760L532.5 736.9L534.1 746.2L536 711.2L538.5 758.8L540.4 739.4L542.9 752.5L546.4 767.5L549.1 716.9L551 725L552.9 713.8L555.8 703.8L557.9 716.2L559.8 740L561.6 735.6L564.1 698.8L566.4 744.4L567.9 723.1L569.8 726.2L572.2 708.1L574.5 758.8L576.6 740L578.8 781.9L581 747.5L583.5 756.2L585.6 766.2L589.1 735L592.2 701.9L594.8 742.5L597.5 720L599.1 730L600.8 749.4L602.9 735L605.8 690L607.9 707.5L610 721.9L612.9 710L614.8 729.4L616.6 720L618.2 731.9L620.4 683.1L622 746.2L623.5 730L625.8 766.2L628.2 722.5L630.4 725L633.2 755L635.4 747.5L637.2 750.6L639.4 742.5L641.6 755.6L644.1 731.9L646 731.9L648.5 713.1L651 728.1L653.5 713.1L655.4 720L656.6 715.6L658.8 735L661.6 707.5L664.1 700.6L666.2 703.8L667.9 716.9L669.5 702.5L671.6 758.8L673.2 758.8L674.4 766.2L676.6 732.5L678.2 743.1L680 725.6L681.6 733.8L684.1 723.8L686 697.5L687.9 716.2L689.1 712.5L691.6 742.5L693.9 711.2L696 752.5L697.9 741.2L699.1 748.1L701 725L702.5 720L704.4 700.6L706 720L708.2 766.9L710.8 742.5L712.9 769.4L715.4 747.5L717.2 725.6L719.8 785L722.5 755.6L723.5 772.5L725.5 855L728.8 880L731.2 905L735 935L738.8 942.5L740.5 940L742.5 967.5L745 985L747.5 977.5L751 998.2L754 1007.4L758.1 1004.3L760.1 1017.6L762.8 1011.5L765.2 1018.6L767.3 1013.5L770.3 1021.6L773.4 1015.5L776.4 1020.6L778.5 1014.5L781.5 1020.6L784.6 1017.6L787.6 1020.6L790.1 1014.5L792.7 1024.7L795.8 1023.7L797.8 1018.6L799.9 1022.7L802.9 1019.6L806 1022.7L810.1 1024.7L813.5 1020.6L817.2 1025.1L822.3 1024.3L828.4 1025.3L832.5 1024.3L840.6 1026.3L842.6 1025.3L844.1 1025.8L845.6 1026.3L847.1 1026L848.6 1025.8L850.1 1025.9L851.6 1026L853.1 1026.1L854.6 1026.2L856.1 1025.9L857.6 1025.6L859.1 1025.3L860.6 1025.2L862.1 1025.2L863.6 1025.2L865.1 1025.5L866.6 1025.8L868.1 1025.6L869.6 1025.3L871.1 1024.9L872.6 1025.2L874.1 1025.6L875.6 1025.5L877.1 1025.4L878.6 1025.1L880.1 1024.8L881.6 1025.1L883.1 1025.6L884.6 1025.6L886.6 1019L888.5 1003.3L889.6 1014L890.6 1027.8L892 1026.6L893.6 1025.7L895.1 1025.5L896.6 1025L898.1 1025L899.6 1025.5L901.1 1025.6L902.6 1025.4L904.1 1025.5L905.6 1026.2L907.1 1026.5L908.6 1026.2L910.1 1026L911.6 1026.1L913.1 1026.4L914.6 1026.4L916.1 1026L917.6 1025.7L919.1 1025.4L920.6 1025.1L922.1 1025.2L923.6 1025.6L925.1 1025.3L926.6 1024.8L928.1 1025.4L929.6 1026L931.1 1025.4L932.6 1024.9L934.1 1025.4L935.6 1026L937.1 1025.9L938.6 1025.9L940.1 1026.8L941.6 1026.8L943.1 1026.2L944.6 1026.1L946.1 1026.2L947.6 1026.4L949.1 1026.6L950.6 1026.4L952.1 1025.8L953.6 1025.3L955.1 1025.2L956.6 1025.8L958.1 1026.2L959.6 1026.1L961.1 1025.8L962.6 1025.8L964.1 1025.9L965.6 1025.7L967.1 1024.9L968.6 1024.6L970.1 1024.9L971.6 1025.5L973.1 1026.1L974.6 1025.9L976.1 1025.2L977.6 1025.1L979.1 1025.4L980.6 1025.7L982.1 1026.2L983.6 1026.1L985.1 1025.6L986.6 1025.1L988.1 1024.5L989.6 1025.1L991.1 1026.2L992.6 1026.3L994.1 1025.9L995.6 1025.4L997.1 1024.8L998.6 1024.9L1000.1 1025.9L1001.6 1026L1003.1 1025.3L1004.6 1025.6L1006.1 1026.3L1007.6 1026L1009.1 1025.4L1010.6 1025.3L1012.1 1025.4L1013.6 1025L1015.1 1024.8L1016.6 1025.1L1018.1 1025.6L1019.6 1025.8L1021.1 1025.8L1022.6 1025.6L1024.1 1025.3L1025.6 1025.5L1027.1 1026L1028.6 1025.9L1030.1 1025.8L1031.6 1026.3L1033.1 1026.7L1034.6 1026.6L1036.1 1026.1L1037.6 1025.8L1039.1 1025.8L1040.6 1026.1L1042.1 1026.4L1043.6 1026.2L1045.1 1026L1046.6 1026.1L1048.1 1025.8L1049.6 1025.2L1051.1 1025.6L1052.6 1025.9L1054.1 1025.8L1055.6 1026.3L1057.1 1026L1058.6 1025.4L1060.1 1025.4L1061.6 1025.9L1063.1 1025.9L1064.6 1025.5L1066.1 1025.8L1067.6 1026.3L1069.1 1026.4L1070.6 1025.8L1072.1 1025.2L1073.6 1024.8L1075.1 1024.5L1076.6 1025.1L1078.1 1025.9L1079.6 1026L1081.1 1025.7L1082.6 1025.9L1084.1 1026.3L1085.6 1026.3L1087.1 1026.2L1088.6 1025.9L1090.1 1025.8L1091.6 1025.9L1093.1 1025.3L1094.6 1024.9L1096.1 1025.1L1097.6 1025.2L1099.1 1025.2L1100.6 1025.5L1102.1 1026L1103.6 1026L1105.1 1025.5L1106.6 1024.9L1108.1 1025.2L1109.6 1025.7L1111.1 1025.7L1112.6 1025.7L1114.1 1025.6L1115.6 1025.4L1117.1 1025.5L1118.6 1025.4L1120.1 1025.3L1121.6 1025.8L1123.1 1026.3L1124.6 1026.3L1126.1 1026.4L1127.6 1025.7L1129.1 1025.1L1130.6 1025.4L1132.1 1025.9L1133.6 1026.5L1135.1 1026.7L1136.6 1026.5L1138.1 1026.7L1139.6 1027L1141.1 1026.6L1142.6 1025.9L1144.1 1025.3L1145.6 1025.2L1147.1 1025.8L1148.6 1026.4L1150.1 1026.2L1151.6 1025.7L1153.6 1025.7L1155 1023.5L1156.3 1018.5L1157.4 1024L1158.2 1027.2L1159.8 1025.8L1160.6 1025.8L1162.1 1026.6L1163.6 1025.8L1165.1 1025.1L1166.6 1024.8L1168.1 1025.2L1169.6 1025.6L1171.1 1025.4L1172.6 1025.4L1174.1 1025.5L1175.6 1025.5L1177.1 1025.8L1178.6 1026.2L1180.1 1026.5L1181.6 1026.2L1183.1 1025.9L1184.6 1026.4L1186.1 1026.2L1187.6 1025.5L1189.1 1025.8L1190.6 1026.4L1192.1 1026.4L1193.6 1025.9L1195.1 1025.2L1196.6 1024.9L1198.1 1024.8L1199.6 1025.6L1201.1 1026.6L1202.4 1025.7L1204 1023L1205.4 1025.9L1207.1 1025L1208.6 1025.1L1210.1 1025.4L1211.6 1025.3L1213.1 1025.5L1214.6 1025.7L1216.1 1025L1217.6 1024.7L1219.1 1025.2L1220.6 1025.5L1222.1 1025.3L1223.6 1025.1L1224.3 1025.4L1284.4 1031.9L1285.6 1026L1287.2 1025.6L1288.7 1025.4L1290.2 1024.4L1291.7 1024.2L1293.2 1024.6L1294.7 1025L1296.2 1025.2L1297.7 1025.5L1299.2 1025.5L1300.7 1025L1302.2 1025L1303.7 1025.1L1305.2 1025.2L1306.7 1025.6L1308.2 1025.7L1309.7 1025.1L1311.2 1025.1L1312.7 1025.9L1314.2 1026.1L1315.7 1025.9L1317.2 1025.7L1318.7 1025.8L1320.2 1025.9L1321.7 1025.6L1323.2 1025.5L1324.7 1025.8L1326.2 1025.6L1327.7 1025.2L1329.2 1025.3L1330.7 1026L1332.2 1026.4L1333.7 1026.3L1335.2 1025.6L1336.7 1025.3L1338.2 1025.9L1339.7 1026.3L1341.2 1026.1L1342.7 1026.2L1344.2 1026.2L1345.7 1025.4L1347.2 1024.9L1348.7 1025L1350.2 1025.4L1351.7 1025.9L1353.2 1026.1L1354.7 1026.2L1356.2 1026.1L1357.7 1025.9L1359.2 1026L1360.7 1025.9L1362.2 1025.7L1363.7 1025.5L1365.2 1025.6L1366.7 1025.8L1368.2 1025.9L1369.7 1025.9L1371.2 1025.6L1372.7 1025.6L1374.2 1025.4L1375.7 1025L1377.2 1024.8L1378.7 1024.9L1380.2 1025.7L1381.7 1026.5L1383.2 1026.1L1384.7 1025.3L1386.2 1025.4L1387.7 1025.7L1389.2 1025.3L1390.7 1024.7L1392.2 1024.7L1393.7 1024.8L1395.2 1025.2L1396.7 1025.7L1398.2 1025.5L1399.7 1025L1401.2 1024.9L1402.7 1024.9L1404.2 1024.7L1405.7 1025.2L1407.2 1025.9L1408.7 1025.9L1410.2 1025.9L1411.7 1026L1413.2 1025.7L1414.7 1025.8L1416.2 1025.9L1417.7 1026.2L1419.2 1026.5L1420.7 1026.1L1422.2 1025.7L1423.7 1026.1L1425.2 1026.5L1426.7 1026.2L1428.2 1025.5L1429.7 1025L1431.2 1025L1432.7 1025.3L1434.2 1025.8L1435.7 1025.6L1437.2 1024.9L1438.7 1025L1440.2 1025.3L1441.7 1025.8L1443.2 1025.9L1444.7 1025.4L1446.2 1025.1L1447.7 1025.2L1449.2 1025.3L1450.7 1024.9L1452.2 1024.8L1453.7 1025.4L1455.2 1026.4L1456.7 1026.7L1458.2 1025.8L1459.7 1025.2L1461.2 1025.2" fill="none" stroke="#ff7f0e" stroke-width="2.08" stroke-linejoin="round" stroke-linecap="butt"/>
</g>
<path d="M116.5 1054.5v5.4M284.5 1054.5v5.4M452.5 1054.5v5.4M621.5 1054.5v5.4M789.5 1054.5v5.4M957.5 1054.5v5.4M1125.5 1054.5v5.4M1294.5 1054.5v5.4M116.5 1037.5h-5.4M116.5 981.5h-5.4M116.5 926.5h-5.4M116.5 871.5h-5.4M116.5 815.5h-5.4M116.5 760.5h-5.4M116.5 705.5h-5.4M116.5 649.5h-5.4M116.5 594.5h-5.4" stroke="#000" stroke-width="1.1" fill="none"/>
<rect x="116.5" y="575.5" width="1346.0" height="479.0" fill="none" stroke="#000" stroke-width="1.1"/>
<text transform="translate(105.3 1045.25) scale(1 0.955)" font-size="22.22" text-anchor="end">0.00</text>
<text transform="translate(105.3 989.25) scale(1 0.955)" font-size="22.22" text-anchor="end">0.01</text>
<text transform="translate(105.3 934.25) scale(1 0.955)" font-size="22.22" text-anchor="end">0.02</text>
<text transform="translate(105.3 879.25) scale(1 0.955)" font-size="22.22" text-anchor="end">0.03</text>
<text transform="translate(105.3 823.25) scale(1 0.955)" font-size="22.22" text-anchor="end">0.04</text>
<text transform="translate(105.3 768.25) scale(1 0.955)" font-size="22.22" text-anchor="end">0.05</text>
<text transform="translate(105.3 713.25) scale(1 0.955)" font-size="22.22" text-anchor="end">0.06</text>
<text transform="translate(105.3 657.25) scale(1 0.955)" font-size="22.22" text-anchor="end">0.07</text>
<text transform="translate(105.3 602.25) scale(1 0.955)" font-size="22.22" text-anchor="end">0.08</text>
<rect x="1047.6" y="584.5" width="405.8" height="81" rx="2.8" ry="2.8" fill="#fff" fill-opacity="0.8" stroke="#ccc" stroke-opacity="0.8" stroke-width="1.1"/>
<circle cx="1073.4" cy="599.6" r="2.78" fill="#1f77b4"/>
<path d="M1052.9 639H1092" stroke="#ff7f0e" stroke-width="2.08" fill="none"/>
<text transform="translate(1106 605.1) scale(1 0.955)" font-size="18.52">Raw Data</text>
<text transform="translate(1106 632.9) scale(1 0.955)" font-size="18.52">Butterworth Filtered Data</text>
<text transform="translate(1106 653.6) scale(1 0.955)" font-size="18.52">(N=6, Tc=3.3333 min, Type: low)</text>
<text transform="translate(115.2 567.2) scale(1 0.985)" font-size="26.67">(b)</text>
<text transform="translate(40.2 815) rotate(-90) scale(1 0.955)" font-size="22.22" text-anchor="middle">Peak Voltage [V]</text>
<text transform="translate(112.9 1078.6) rotate(-30) scale(1 0.955)" font-size="22.22" text-anchor="end">08-11 00</text>
<text transform="translate(280.9 1078.6) rotate(-30) scale(1 0.955)" font-size="22.22" text-anchor="end">08-11 03</text>
<text transform="translate(448.9 1078.6) rotate(-30) scale(1 0.955)" font-size="22.22" text-anchor="end">08-11 06</text>
<text transform="translate(617.9 1078.6) rotate(-30) scale(1 0.955)" font-size="22.22" text-anchor="end">08-11 09</text>
<text transform="translate(785.9 1078.6) rotate(-30) scale(1 0.955)" font-size="22.22" text-anchor="end">08-11 12</text>
<text transform="translate(953.9 1078.6) rotate(-30) scale(1 0.955)" font-size="22.22" text-anchor="end">08-11 15</text>
<text transform="translate(1121.9 1078.6) rotate(-30) scale(1 0.955)" font-size="22.22" text-anchor="end">08-11 18</text>
<text transform="translate(1290.9 1078.6) rotate(-30) scale(1 0.955)" font-size="22.22" text-anchor="end">08-11 21</text>
<text transform="translate(789.5 1158) scale(1 0.955)" font-size="22.22" text-anchor="middle">UTC</text>
</g>
</svg>
</body></html>
